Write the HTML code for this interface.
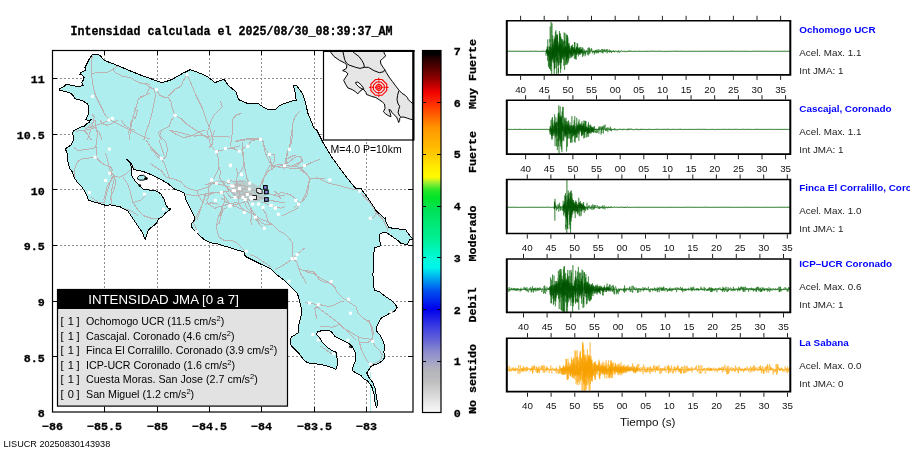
<!DOCTYPE html>
<html><head><meta charset="utf-8"><title>Intensidad JMA</title>
<style>html,body{margin:0;padding:0;background:#fff;width:910px;height:460px;overflow:hidden}svg{display:block}</style>
</head><body>
<svg width="910" height="460" viewBox="0 0 910 460" shape-rendering="auto">
<rect width="910" height="460" fill="#fff"/>
<text transform="translate(70.60,34.70) scale(1,1.050)" text-anchor="start" style="font-family:'Liberation Mono','DejaVu Sans Mono',monospace;font-weight:bold;font-size:11.67px" fill="#000" stroke="#000" stroke-width="0.28">Intensidad calculada el 2025/08/30_08:39:37_AM</text>
<defs><clipPath id="mc"><rect x="52.5" y="50.5" width="360.5" height="361.5"/></clipPath><clipPath id="lc"><polygon points="92.0,55.2 93.7,54.3 98.1,54.3 100.7,56.1 104.2,60.4 114.6,64.3 130.3,70.9 143.3,76.1 161.6,82.6 166.0,81.5 172.0,79.5 182.4,73.5 190.3,69.6 200.7,73.5 208.5,77.4 215.0,82.6 224.2,79.2 228.1,85.2 235.9,91.7 238.5,99.6 247.7,103.5 258.1,103.5 265.9,108.7 270.0,109.8 275.9,109.1 279.1,105.9 283.7,103.7 290.9,101.3 296.1,100.3 295.4,93.5 293.5,85.7 296.7,85.7 302.6,93.5 305.2,101.3 307.8,113.0 314.3,128.7 316.8,130.0 323.3,143.0 331.1,156.1 344.2,174.3 355.9,188.7 361.1,188.7 367.7,197.8 376.3,210.8 384.3,218.2 385.7,217.5 385.7,221.6 388.4,227.0 392.4,228.3 399.2,229.0 405.2,229.0 407.3,232.3 411.3,237.7 414.0,239.0 414.0,240.4 410.0,239.0 408.6,241.8 407.3,244.5 403.2,243.8 400.5,243.1 397.8,240.4 393.8,237.7 391.1,235.7 387.0,233.0 383.0,232.3 379.6,234.4 379.0,239.0 380.3,243.1 381.0,245.8 374.2,247.8 373.6,262.0 372.9,275.0 374.2,290.4 379.4,291.7 385.9,296.9 391.0,300.0 394.7,303.6 397.1,307.3 394.7,310.9 387.4,314.6 381.3,318.2 378.9,321.9 376.5,326.7 376.0,330.4 380.1,335.2 383.3,341.3 385.0,347.4 383.8,352.3 385.0,357.1 382.5,360.8 377.7,363.7 371.6,365.6 369.2,369.3 366.7,372.9 369.2,377.8 372.8,382.6 375.2,388.7 376.5,397.2 377.7,404.5 376.5,407.0 375.2,403.3 374.0,393.6 371.6,386.3 368.0,381.4 364.3,379.0 360.7,375.4 355.8,372.9 352.2,370.5 353.4,365.6 355.8,360.8 355.8,353.5 353.4,348.6 350.9,345.0 347.3,342.5 345.0,341.6 341.7,339.9 338.5,338.3 335.2,336.7 332.8,333.4 330.3,331.0 325.4,330.2 320.5,331.0 317.3,331.8 316.5,334.2 318.9,336.7 322.2,342.4 327.1,347.3 332.0,350.5 336.0,352.2 336.9,357.1 337.7,363.6 336.0,369.3 332.0,367.7 327.1,366.0 320.5,364.4 314.0,363.6 307.5,362.8 304.2,360.3 299.3,353.8 294.5,348.9 291.2,345.7 290.4,342.4 291.2,336.7 294.5,335.1 298.5,332.6 298.5,326.1 300.2,319.6 301.8,313.0 301.0,306.5 299.3,300.0 297.4,293.3 293.0,288.9 288.7,284.6 284.3,280.2 276.7,274.8 271.3,269.3 262.6,265.0 253.9,260.7 245.2,256.3 244.1,252.0 236.5,249.8 230.0,247.6 225.7,246.5 217.8,243.9 210.0,242.6 204.8,240.0 200.0,236.1 196.1,232.2 192.2,228.3 191.2,224.3 194.1,220.4 194.1,216.5 190.2,208.7 186.3,200.9 185.3,197.0 184.3,193.0 180.4,191.1 174.6,189.1 168.7,184.2 160.9,179.3 153.0,175.4 143.3,171.5 133.5,169.6 131.5,163.7 128.0,159.8 126.5,159.5 130.5,162.7 131.5,169.6 131.5,175.4 135.4,181.3 139.3,185.2 143.3,189.1 149.1,190.1 157.0,191.1 160.9,194.0 162.8,197.0 164.8,200.9 165.8,204.8 168.7,208.7 170.7,208.7 168.7,210.7 165.8,212.6 162.8,216.5 158.9,218.5 157.0,222.4 153.0,226.3 150.1,228.3 148.2,230.2 146.2,236.1 145.5,239.5 144.2,237.1 142.3,232.2 139.3,228.3 135.4,222.4 131.5,216.5 127.6,210.7 119.8,206.7 110.0,204.8 106.8,205.7 97.7,203.0 88.5,200.4 87.2,196.5 85.4,193.0 83.7,189.6 81.1,186.1 77.6,182.6 74.1,177.4 72.4,172.2 69.8,168.7 68.9,165.2 68.0,161.7 67.2,158.3 68.0,154.8 66.3,151.3 65.4,148.7 68.0,147.0 70.7,145.2 72.4,142.6 74.1,139.1 73.3,135.7 72.4,133.0 74.1,130.4 77.6,128.7 81.1,127.0 84.2,126.5 86.8,123.9 89.4,122.2 91.1,119.6 88.5,120.4 85.9,119.6 86.8,117.8 88.5,114.3 88.5,107.4 87.7,103.9 85.0,102.2 81.6,100.4 78.1,99.6 74.6,98.7 73.7,96.1 71.1,93.5 69.4,92.6 65.9,91.7 62.4,90.9 59.0,90.9 59.0,89.1 62.4,87.4 65.0,85.7 65.9,83.9 69.4,84.8 72.9,85.7 78.1,86.5 83.3,85.7 82.4,83.9 81.6,82.2 83.3,80.4 84.2,77.8 82.4,75.2 79.8,74.3 80.7,72.6 83.3,71.7 85.9,70.0 85.0,67.4 86.8,63.9 89.4,58.7"/></clipPath><clipPath id="ic"><rect x="323.5" y="51" width="89.5" height="88.5"/></clipPath></defs>
<g clip-path="url(#mc)">
<path d="M104.5 50V412M157.5 50V412M209.5 50V412M261.5 50V412M314.5 50V412M366.5 50V412M52 356.5H413M52 301.5H413M52 245.5H413M52 189.5H413M52 134.5H413M52 78.5H413" stroke="#8c8c8c" stroke-width="1" stroke-dasharray="2,2" fill="none"/>
<polygon points="92.0,55.2 93.7,54.3 98.1,54.3 100.7,56.1 104.2,60.4 114.6,64.3 130.3,70.9 143.3,76.1 161.6,82.6 166.0,81.5 172.0,79.5 182.4,73.5 190.3,69.6 200.7,73.5 208.5,77.4 215.0,82.6 224.2,79.2 228.1,85.2 235.9,91.7 238.5,99.6 247.7,103.5 258.1,103.5 265.9,108.7 270.0,109.8 275.9,109.1 279.1,105.9 283.7,103.7 290.9,101.3 296.1,100.3 295.4,93.5 293.5,85.7 296.7,85.7 302.6,93.5 305.2,101.3 307.8,113.0 314.3,128.7 316.8,130.0 323.3,143.0 331.1,156.1 344.2,174.3 355.9,188.7 361.1,188.7 367.7,197.8 376.3,210.8 384.3,218.2 385.7,217.5 385.7,221.6 388.4,227.0 392.4,228.3 399.2,229.0 405.2,229.0 407.3,232.3 411.3,237.7 414.0,239.0 414.0,240.4 410.0,239.0 408.6,241.8 407.3,244.5 403.2,243.8 400.5,243.1 397.8,240.4 393.8,237.7 391.1,235.7 387.0,233.0 383.0,232.3 379.6,234.4 379.0,239.0 380.3,243.1 381.0,245.8 374.2,247.8 373.6,262.0 372.9,275.0 374.2,290.4 379.4,291.7 385.9,296.9 391.0,300.0 394.7,303.6 397.1,307.3 394.7,310.9 387.4,314.6 381.3,318.2 378.9,321.9 376.5,326.7 376.0,330.4 380.1,335.2 383.3,341.3 385.0,347.4 383.8,352.3 385.0,357.1 382.5,360.8 377.7,363.7 371.6,365.6 369.2,369.3 366.7,372.9 369.2,377.8 372.8,382.6 375.2,388.7 376.5,397.2 377.7,404.5 376.5,407.0 375.2,403.3 374.0,393.6 371.6,386.3 368.0,381.4 364.3,379.0 360.7,375.4 355.8,372.9 352.2,370.5 353.4,365.6 355.8,360.8 355.8,353.5 353.4,348.6 350.9,345.0 347.3,342.5 345.0,341.6 341.7,339.9 338.5,338.3 335.2,336.7 332.8,333.4 330.3,331.0 325.4,330.2 320.5,331.0 317.3,331.8 316.5,334.2 318.9,336.7 322.2,342.4 327.1,347.3 332.0,350.5 336.0,352.2 336.9,357.1 337.7,363.6 336.0,369.3 332.0,367.7 327.1,366.0 320.5,364.4 314.0,363.6 307.5,362.8 304.2,360.3 299.3,353.8 294.5,348.9 291.2,345.7 290.4,342.4 291.2,336.7 294.5,335.1 298.5,332.6 298.5,326.1 300.2,319.6 301.8,313.0 301.0,306.5 299.3,300.0 297.4,293.3 293.0,288.9 288.7,284.6 284.3,280.2 276.7,274.8 271.3,269.3 262.6,265.0 253.9,260.7 245.2,256.3 244.1,252.0 236.5,249.8 230.0,247.6 225.7,246.5 217.8,243.9 210.0,242.6 204.8,240.0 200.0,236.1 196.1,232.2 192.2,228.3 191.2,224.3 194.1,220.4 194.1,216.5 190.2,208.7 186.3,200.9 185.3,197.0 184.3,193.0 180.4,191.1 174.6,189.1 168.7,184.2 160.9,179.3 153.0,175.4 143.3,171.5 133.5,169.6 131.5,163.7 128.0,159.8 126.5,159.5 130.5,162.7 131.5,169.6 131.5,175.4 135.4,181.3 139.3,185.2 143.3,189.1 149.1,190.1 157.0,191.1 160.9,194.0 162.8,197.0 164.8,200.9 165.8,204.8 168.7,208.7 170.7,208.7 168.7,210.7 165.8,212.6 162.8,216.5 158.9,218.5 157.0,222.4 153.0,226.3 150.1,228.3 148.2,230.2 146.2,236.1 145.5,239.5 144.2,237.1 142.3,232.2 139.3,228.3 135.4,222.4 131.5,216.5 127.6,210.7 119.8,206.7 110.0,204.8 106.8,205.7 97.7,203.0 88.5,200.4 87.2,196.5 85.4,193.0 83.7,189.6 81.1,186.1 77.6,182.6 74.1,177.4 72.4,172.2 69.8,168.7 68.9,165.2 68.0,161.7 67.2,158.3 68.0,154.8 66.3,151.3 65.4,148.7 68.0,147.0 70.7,145.2 72.4,142.6 74.1,139.1 73.3,135.7 72.4,133.0 74.1,130.4 77.6,128.7 81.1,127.0 84.2,126.5 86.8,123.9 89.4,122.2 91.1,119.6 88.5,120.4 85.9,119.6 86.8,117.8 88.5,114.3 88.5,107.4 87.7,103.9 85.0,102.2 81.6,100.4 78.1,99.6 74.6,98.7 73.7,96.1 71.1,93.5 69.4,92.6 65.9,91.7 62.4,90.9 59.0,90.9 59.0,89.1 62.4,87.4 65.0,85.7 65.9,83.9 69.4,84.8 72.9,85.7 78.1,86.5 83.3,85.7 82.4,83.9 81.6,82.2 83.3,80.4 84.2,77.8 82.4,75.2 79.8,74.3 80.7,72.6 83.3,71.7 85.9,70.0 85.0,67.4 86.8,63.9 89.4,58.7" fill="#afeeee" stroke="none"/>
<polygon points="137.5,177.5 139.5,175.5 143.5,175.3 146.5,177.5 144.5,180.0 140.0,180.2 137.5,179.0" fill="#afeeee" stroke="#000" stroke-width="1"/>
<polygon points="231,186 236,181 244,180 252,183 258,186 262,190 266,195 262,200 255,202 247,201 240,199 234,196 230,191" fill="#bdb2b2" fill-opacity="0.55"/>
<g clip-path="url(#lc)" fill="none" stroke="#bdb2b2" stroke-width="1" stroke-linejoin="round" shape-rendering="crispEdges">
<polyline points="92.3,55.9 91.3,61.7 91.3,71.5 92.3,81.3 94.2,91.1 96.2,97.0 99.1,102.8 102.1,108.7 105.0,114.6 108.9,119.5 114.8,122.4 122.6,126.3 130.4,130.2 138.3,134.1 144.1,137.1 150.0,139.0"/>
<polyline points="91.3,73.5 99.1,72.5 107.0,72.5 112.8,69.6 116.7,66.6 122.6,65.7 130.4,67.6 138.3,71.5 146.1,75.4 150.0,77.4"/>
<polyline points="112.8,69.6 116.7,73.5 122.6,76.4 130.4,77.4 136.3,81.3 142.2,83.3 150.0,84.2"/>
<polyline points="150.0,93.0 142.2,97.0 138.3,98.9 136.3,106.7 134.3,112.6 132.4,120.4 130.4,130.2 129.5,140.0"/>
<polyline points="134.3,108.7 137.3,110.7 135.3,118.5 132.4,116.5"/>
<polyline points="85.4,128.3 93.3,126.3 99.1,124.3 107.0,121.4 112.8,118.5"/>
<polyline points="92.3,114.6 94.2,116.5 93.3,122.4 91.3,128.3 89.3,134.1 87.4,140.0"/>
<polyline points="95.2,128.3 99.1,132.2 102.1,140.0"/>
<polyline points="83.5,130.2 87.4,134.1 91.3,140.0"/>
<polyline points="140.0,83.3 145.9,84.2 149.8,87.2 153.7,89.1 155.7,95.0 153.7,104.8 151.7,114.6 148.8,124.3 145.9,132.2 143.9,140.0"/>
<polyline points="140.0,97.0 145.9,95.0 147.8,91.1 149.8,88.2"/>
<polyline points="156.6,90.1 159.6,95.0 163.5,97.0 168.4,97.9 171.3,102.8 172.3,108.7 175.2,115.5"/>
<polyline points="187.0,74.5 183.0,81.3 181.1,86.2 175.2,89.1 168.4,96.0"/>
<polyline points="187.0,74.5 190.9,83.3 195.8,95.0 199.7,102.8 202.6,108.7 206.5,120.4 210.4,130.2 213.4,140.0"/>
<polyline points="175.2,115.5 181.1,118.5 187.0,124.3 192.8,128.3 198.7,132.2 204.6,136.1 210.4,140.0"/>
<polyline points="175.2,115.5 171.3,120.4 169.3,126.3 165.4,128.3 161.5,130.2 158.6,132.2 159.6,136.1 161.5,140.0"/>
<polyline points="220.2,100.9 222.2,106.7 218.3,110.7 214.3,114.6 210.4,122.4 208.5,130.2"/>
<polyline points="169.3,130.2 179.1,132.2 185.0,134.1 194.8,136.1 202.6,135.1 210.4,137.1 218.3,136.1 230.0,137.1"/>
<polyline points="241.7,113.3 235.9,115.2 232.9,119.1 232.0,127.0 232.0,134.8 231.0,142.6 230.0,146.5"/>
<polyline points="230.0,147.5 235.9,149.5 239.8,151.4 242.7,148.5 247.6,145.5 251.5,140.7 260.3,138.7 263.3,142.6 265.2,148.5 269.1,154.3 271.1,162.2 272.1,170.0"/>
<polyline points="235.9,140.7 247.6,138.7 260.3,138.7"/>
<polyline points="242.7,148.5 243.7,158.3 244.7,170.0"/>
<polyline points="299.5,111.3 294.6,117.2 292.6,125.0 292.6,134.8 291.6,142.6 288.7,148.5 286.7,154.3 284.8,164.1 283.8,170.0"/>
<polyline points="269.1,154.3 275.0,154.3 274.0,162.2 272.1,166.1"/>
<polyline points="272.1,166.1 278.9,164.1 284.8,165.1 288.7,162.2 294.6,157.3 300.4,156.3 302.4,160.2 298.5,164.1 294.6,166.1 288.7,167.1"/>
<polyline points="272.1,166.1 278.9,167.1 288.7,168.0 298.5,169.0 304.3,166.1 312.2,162.2 320.0,159.2"/>
<polyline points="150.0,163.3 155.9,167.2 161.7,171.1 165.7,177.0 173.5,178.9 181.3,181.8 185.2,186.7 189.1,188.7 197.0,190.7 202.8,188.7 208.7,186.7 212.6,182.8 218.5,180.9 224.3,181.8 232.2,184.8 240.0,186.7"/>
<polyline points="150.0,149.6 153.9,151.5 157.8,157.4 161.7,159.3"/>
<polyline points="161.7,130.0 159.8,135.9 165.7,141.7 167.6,149.6 165.7,157.4 161.7,159.3"/>
<polyline points="169.6,130.0 175.4,133.9 183.3,137.8 191.1,135.9 198.9,132.0 204.8,130.0"/>
<polyline points="206.7,130.0 208.7,137.8 210.7,145.7 216.5,151.5 218.5,159.3 218.5,169.1 214.6,177.0 210.7,182.8"/>
<polyline points="216.5,151.5 224.3,149.6 232.2,147.6 240.0,145.7"/>
<polyline points="214.6,130.0 212.6,135.9 212.6,143.7 208.7,147.6"/>
<polyline points="197.0,190.7 198.9,196.5 202.8,202.4 200.9,208.3 198.9,214.1 197.0,220.0"/>
<polyline points="208.7,186.7 208.7,196.5 206.7,200.4 208.7,204.3 214.6,208.3 220.4,206.3 228.3,204.3 236.1,202.4 240.0,204.3"/>
<polyline points="220.4,178.9 224.3,184.8 228.3,188.7 232.2,192.6 236.1,196.5 240.0,198.5"/>
<polyline points="224.3,194.6 224.3,202.4 222.4,208.3 220.4,214.1 220.4,220.0"/>
<polyline points="235.0,141.7 246.7,139.8 260.4,138.8 263.4,141.7 264.3,149.6 266.3,155.4 269.2,161.3 272.2,166.2 274.1,167.2"/>
<polyline points="274.1,167.2 283.9,165.2 291.7,166.2 299.6,167.2 303.5,171.1 307.4,175.0 309.3,178.9 317.2,177.9 325.0,178.9"/>
<polyline points="309.3,178.9 308.4,186.7 307.4,194.6 303.5,200.4 297.6,204.3 293.7,208.3"/>
<polyline points="274.1,167.2 268.3,171.1 264.3,177.0 262.4,184.8"/>
<polyline points="291.7,130.0 290.8,137.8 289.8,145.7 287.8,151.5 286.8,157.4 285.9,163.3 284.9,166.2"/>
<polyline points="285.9,159.3 293.7,155.4 301.5,157.4 302.5,161.3 297.6,163.3 291.7,166.2"/>
<polyline points="242.8,141.7 242.8,153.5 243.8,165.2 240.9,171.1 237.0,175.0"/>
<polyline points="274.1,194.6 282.0,192.6 289.8,194.6 295.7,198.5 299.6,202.4 297.6,208.3 289.8,212.2 282.0,216.1"/>
<polyline points="300.0,169.8 305.9,173.7 310.8,178.6 319.6,178.6 329.3,183.5 339.1,185.4 348.9,188.4 358.7,190.3 364.6,197.2 370.4,203.0 376.3,212.8 382.2,218.7 386.1,226.5 388.0,230.4"/>
<polyline points="310.8,178.6 307.8,185.4 305.9,193.3 302.0,201.1 300.0,203.0"/>
<polyline points="370.4,218.7 374.3,216.7 376.3,212.8"/>
<polyline points="185.9,193.9 195.7,195.9 205.4,193.9 215.2,192.0 223.0,193.9 227.0,199.8 230.9,205.7 238.7,203.7 244.6,201.7"/>
<polyline points="205.4,193.9 203.5,201.7 199.6,209.6 195.7,217.4 193.7,223.3 196.6,229.1 199.6,237.0 205.4,240.9"/>
<polyline points="227.0,207.6 223.0,209.6 221.1,215.4 219.1,223.3 216.2,225.2 217.2,231.1 219.1,237.0 225.0,240.9 232.8,240.9 236.7,242.8 242.6,248.7 246.5,252.6"/>
<polyline points="244.6,201.7 246.5,207.6 250.4,211.5 254.3,215.4 258.3,219.3 262.2,223.3 266.1,225.2 270.0,224.2"/>
<polyline points="238.7,195.9 238.7,203.7 244.6,211.5"/>
<polyline points="254.3,217.4 260.2,225.2 264.1,229.1"/>
<polyline points="250.0,207.8 255.9,215.7 261.7,219.6 267.6,221.5 273.5,225.4 279.3,231.3 285.2,234.2 289.1,238.2 292.1,242.1 293.0,247.0 292.1,252.8 293.0,258.7 297.0,262.6 298.9,268.5 302.8,270.4 308.7,272.4 314.6,274.3 320.4,278.3 328.3,282.2 336.1,288.0"/>
<polyline points="293.0,258.7 287.2,262.6 281.3,266.5 275.4,269.5"/>
<polyline points="293.0,258.7 298.9,252.8 304.8,247.9"/>
<polyline points="298.9,268.5 300.9,274.3 304.8,280.2 306.7,284.1"/>
<polyline points="250.0,254.8 255.9,256.7 261.7,260.7 267.6,264.6 271.5,267.5"/>
<polyline points="305.0,270.5 312.8,271.5 316.7,275.4 318.7,279.3 324.6,282.3 330.4,283.3 334.3,286.2 336.3,291.1 340.2,295.0 344.1,298.9 350.0,302.8 355.9,306.7 357.8,312.6 363.7,318.5 369.6,322.4 371.5,328.3 372.5,336.1 371.5,340.0"/>
<polyline points="305.0,302.8 312.8,303.8 320.7,304.8 328.5,306.7 334.3,304.8 340.2,301.8 344.1,300.9"/>
<polyline points="318.7,304.8 314.8,308.7 315.8,314.6 316.7,318.5"/>
<polyline points="316.7,306.7 324.6,312.6 332.4,318.5 340.2,324.3 346.1,330.2 352.0,336.1 355.9,340.0"/>
<polyline points="324.6,326.3 332.4,327.3 340.2,324.3"/>
<polyline points="335.2,320.0 338.3,323.0 342.8,327.6 350.4,332.2 358.0,336.7 362.6,338.3 368.7,339.0 372.5,339.8"/>
<polyline points="368.7,320.0 371.7,326.1 373.3,332.2 372.5,339.8 374.8,345.9 379.4,350.4 382.4,355.0 380.9,359.6 376.3,362.6 370.2,364.1"/>
<polyline points="358.0,336.7 359.6,342.8 361.1,348.9 364.1,355.0 367.2,361.1 370.2,364.1"/>
<polyline points="359.6,342.8 367.2,342.8 372.5,339.8"/>
<polyline points="320.0,326.1 326.1,326.1 332.2,327.6 335.2,324.6"/>
<polyline points="320.0,345.9 324.6,348.9 329.1,352.0 333.7,355.0"/>
<polyline points="205.0,184.6 212.8,183.3 220.7,184.6 231.1,187.2 238.9,188.5 248.1,189.8 257.2,191.1 265.0,192.4 272.9,195.0 278.1,196.3 285.0,195.0"/>
<polyline points="205.0,196.3 212.8,193.1 221.3,192.4 228.5,191.1 233.7,190.4 241.5,191.8 249.4,193.1 257.2,196.3 263.7,198.9 270.3,200.2 275.5,201.5 285.0,202.8"/>
<polyline points="218.1,165.0 220.7,171.5 219.4,178.1 223.3,182.0 227.2,188.5 228.5,191.1"/>
<polyline points="236.3,167.6 237.6,174.1 236.3,180.7 237.6,185.9 238.9,191.1 240.2,196.3 244.2,198.9 248.1,202.8 250.7,208.1 254.6,214.6 257.2,219.8 259.8,225.0"/>
<polyline points="244.2,165.0 245.5,171.5 246.8,178.1 249.4,183.3"/>
<polyline points="220.7,197.6 225.9,201.5 231.1,205.5 236.3,206.8 242.8,209.4 248.1,212.0 254.6,214.6"/>
<polyline points="222.0,206.8 220.7,212.0 218.1,217.2 216.7,225.0"/>
<polyline points="270.3,165.0 266.3,171.5 263.7,178.1 261.1,183.3 259.8,187.2"/>
<polyline points="274.2,191.1 278.1,193.7 280.7,198.9"/>
<polyline points="261.1,201.5 267.6,204.2 275.5,206.8 280.7,208.1 285.0,206.8"/>
<polyline points="205.0,204.2 211.5,202.8 218.1,204.2"/>
<polyline points="250.7,208.1 252.0,214.6 250.7,221.1 252.0,225.0"/>
<polyline points="262.4,208.1 266.3,214.6 267.6,221.1 270.3,225.0"/>
<polyline points="231.1,187.2 235.0,189.8 238.9,193.7 244.2,195.0 248.1,193.7 252.0,195.0 257.2,197.6"/>
<polyline points="233.7,184.6 238.9,184.6 244.2,185.9 248.1,187.2"/>
<polyline points="241.5,191.8 244.2,188.5 248.1,189.8"/>
<polyline points="244.2,195.0 245.5,198.9 249.4,200.2 254.6,198.9 259.8,200.2"/>
<polyline points="228.5,182.0 231.1,180.7 236.3,182.0 240.2,180.7 244.2,182.0"/>
<polyline points="225.9,191.1 228.5,195.0 231.1,197.6 236.3,197.6 241.5,196.3"/>
<polyline points="95.0,120.0 95.9,127.0 97.6,133.9 96.7,140.9 95.9,146.1 96.7,151.3 95.9,157.4"/>
<polyline points="88.0,127.0 91.5,123.5 95.0,120.0"/>
<polyline points="75.9,131.3 82.8,130.4 89.8,129.6 95.9,127.0"/>
<polyline points="74.1,147.8 77.6,150.4 86.3,149.6 95.0,147.8 96.7,146.1"/>
<polyline points="95.9,157.4 86.3,158.3 81.1,159.1 77.6,161.7 75.9,165.2 74.1,170.4 74.1,177.4 75.9,182.6 79.3,186.1"/>
<polyline points="95.9,157.4 100.2,161.7 105.4,165.2 110.7,167.0 112.4,170.4 110.7,173.9"/>
<polyline points="105.4,153.0 107.2,158.3 108.9,165.2 110.7,172.2 114.1,175.7 119.3,177.4 126.3,173.9 131.5,168.7 135.0,167.0"/>
<polyline points="114.1,175.7 110.7,180.9 107.2,186.1 105.4,193.0 103.7,200.0"/>
<polyline points="114.1,175.7 115.9,182.6 114.1,189.6 110.7,196.5 110.7,200.0"/>
<polyline points="100.2,120.0 102.0,123.5 107.2,125.2 112.4,123.5 117.6,120.0"/>
<polyline points="121.1,120.0 124.6,125.2 129.8,128.7 135.0,130.4"/>
<polyline points="131.5,120.0 129.8,128.7 128.0,133.9"/>
<polyline points="109.6,171.3 112.2,176.5 109.6,184.4 107.0,192.2 104.4,202.6"/>
<polyline points="114.8,176.5 112.2,187.0 110.9,197.4 112.2,205.2"/>
<polyline points="122.6,176.5 127.8,184.4 130.4,192.2 133.0,202.6 138.3,210.4 143.5,215.7 151.3,218.3 159.1,218.3"/>
<polyline points="133.0,202.6 140.9,200.0 146.1,194.8"/>
<polyline points="112.2,205.2 120.0,207.8 130.4,210.4 138.3,215.7"/>
<polyline points="91.3,197.4 99.1,202.6 104.4,202.6"/>
<polyline points="146.1,140.0 151.3,147.8 159.1,155.7 164.4,163.5 167.0,171.3 169.6,179.1"/>
<polyline points="159.1,140.0 161.7,147.8 164.4,155.7"/>
</g>
<line x1="370.5" y1="372" x2="370.5" y2="412" stroke="#afeeee" stroke-width="1"/>
<polygon points="92.0,55.2 93.7,54.3 98.1,54.3 100.7,56.1 104.2,60.4 114.6,64.3 130.3,70.9 143.3,76.1 161.6,82.6 166.0,81.5 172.0,79.5 182.4,73.5 190.3,69.6 200.7,73.5 208.5,77.4 215.0,82.6 224.2,79.2 228.1,85.2 235.9,91.7 238.5,99.6 247.7,103.5 258.1,103.5 265.9,108.7 270.0,109.8 275.9,109.1 279.1,105.9 283.7,103.7 290.9,101.3 296.1,100.3 295.4,93.5 293.5,85.7 296.7,85.7 302.6,93.5 305.2,101.3 307.8,113.0 314.3,128.7 316.8,130.0 323.3,143.0 331.1,156.1 344.2,174.3 355.9,188.7 361.1,188.7 367.7,197.8 376.3,210.8 384.3,218.2 385.7,217.5 385.7,221.6 388.4,227.0 392.4,228.3 399.2,229.0 405.2,229.0 407.3,232.3 411.3,237.7 414.0,239.0 414.0,240.4 410.0,239.0 408.6,241.8 407.3,244.5 403.2,243.8 400.5,243.1 397.8,240.4 393.8,237.7 391.1,235.7 387.0,233.0 383.0,232.3 379.6,234.4 379.0,239.0 380.3,243.1 381.0,245.8 374.2,247.8 373.6,262.0 372.9,275.0 374.2,290.4 379.4,291.7 385.9,296.9 391.0,300.0 394.7,303.6 397.1,307.3 394.7,310.9 387.4,314.6 381.3,318.2 378.9,321.9 376.5,326.7 376.0,330.4 380.1,335.2 383.3,341.3 385.0,347.4 383.8,352.3 385.0,357.1 382.5,360.8 377.7,363.7 371.6,365.6 369.2,369.3 366.7,372.9 369.2,377.8 372.8,382.6 375.2,388.7 376.5,397.2 377.7,404.5 376.5,407.0 375.2,403.3 374.0,393.6 371.6,386.3 368.0,381.4 364.3,379.0 360.7,375.4 355.8,372.9 352.2,370.5 353.4,365.6 355.8,360.8 355.8,353.5 353.4,348.6 350.9,345.0 347.3,342.5 345.0,341.6 341.7,339.9 338.5,338.3 335.2,336.7 332.8,333.4 330.3,331.0 325.4,330.2 320.5,331.0 317.3,331.8 316.5,334.2 318.9,336.7 322.2,342.4 327.1,347.3 332.0,350.5 336.0,352.2 336.9,357.1 337.7,363.6 336.0,369.3 332.0,367.7 327.1,366.0 320.5,364.4 314.0,363.6 307.5,362.8 304.2,360.3 299.3,353.8 294.5,348.9 291.2,345.7 290.4,342.4 291.2,336.7 294.5,335.1 298.5,332.6 298.5,326.1 300.2,319.6 301.8,313.0 301.0,306.5 299.3,300.0 297.4,293.3 293.0,288.9 288.7,284.6 284.3,280.2 276.7,274.8 271.3,269.3 262.6,265.0 253.9,260.7 245.2,256.3 244.1,252.0 236.5,249.8 230.0,247.6 225.7,246.5 217.8,243.9 210.0,242.6 204.8,240.0 200.0,236.1 196.1,232.2 192.2,228.3 191.2,224.3 194.1,220.4 194.1,216.5 190.2,208.7 186.3,200.9 185.3,197.0 184.3,193.0 180.4,191.1 174.6,189.1 168.7,184.2 160.9,179.3 153.0,175.4 143.3,171.5 133.5,169.6 131.5,163.7 128.0,159.8 126.5,159.5 130.5,162.7 131.5,169.6 131.5,175.4 135.4,181.3 139.3,185.2 143.3,189.1 149.1,190.1 157.0,191.1 160.9,194.0 162.8,197.0 164.8,200.9 165.8,204.8 168.7,208.7 170.7,208.7 168.7,210.7 165.8,212.6 162.8,216.5 158.9,218.5 157.0,222.4 153.0,226.3 150.1,228.3 148.2,230.2 146.2,236.1 145.5,239.5 144.2,237.1 142.3,232.2 139.3,228.3 135.4,222.4 131.5,216.5 127.6,210.7 119.8,206.7 110.0,204.8 106.8,205.7 97.7,203.0 88.5,200.4 87.2,196.5 85.4,193.0 83.7,189.6 81.1,186.1 77.6,182.6 74.1,177.4 72.4,172.2 69.8,168.7 68.9,165.2 68.0,161.7 67.2,158.3 68.0,154.8 66.3,151.3 65.4,148.7 68.0,147.0 70.7,145.2 72.4,142.6 74.1,139.1 73.3,135.7 72.4,133.0 74.1,130.4 77.6,128.7 81.1,127.0 84.2,126.5 86.8,123.9 89.4,122.2 91.1,119.6 88.5,120.4 85.9,119.6 86.8,117.8 88.5,114.3 88.5,107.4 87.7,103.9 85.0,102.2 81.6,100.4 78.1,99.6 74.6,98.7 73.7,96.1 71.1,93.5 69.4,92.6 65.9,91.7 62.4,90.9 59.0,90.9 59.0,89.1 62.4,87.4 65.0,85.7 65.9,83.9 69.4,84.8 72.9,85.7 78.1,86.5 83.3,85.7 82.4,83.9 81.6,82.2 83.3,80.4 84.2,77.8 82.4,75.2 79.8,74.3 80.7,72.6 83.3,71.7 85.9,70.0 85.0,67.4 86.8,63.9 89.4,58.7" fill="none" stroke="#000" stroke-width="1" stroke-linejoin="round" shape-rendering="crispEdges"/>
<ellipse cx="146.0" cy="178.6" rx="1.8" ry="1.3" fill="#000"/>
<ellipse cx="139.8" cy="185.6" rx="1.3" ry="1.3" fill="#000"/>
<polyline points="349.0,343.5 350.5,345.5 349.5,347.0 351.5,347.5 352.5,346.0" fill="none" stroke="#000" stroke-width="1.1"/>
<g fill="#fff">
<rect x="90.9" y="94.9" width="3" height="3"/>
<rect x="107.4" y="118.4" width="3" height="3"/>
<rect x="111.0" y="116.9" width="3" height="3"/>
<rect x="155.0" y="88.1" width="3" height="3"/>
<rect x="185.5" y="73.1" width="3" height="3"/>
<rect x="173.7" y="113.9" width="3" height="3"/>
<rect x="259.0" y="137.9" width="3" height="3"/>
<rect x="246.2" y="144.8" width="3" height="3"/>
<rect x="237.8" y="149.7" width="3" height="3"/>
<rect x="223.9" y="147.0" width="3" height="3"/>
<rect x="215.0" y="150.3" width="3" height="3"/>
<rect x="229.1" y="163.5" width="3" height="3"/>
<rect x="268.1" y="152.9" width="3" height="3"/>
<rect x="283.1" y="164.2" width="3" height="3"/>
<rect x="288.0" y="147.9" width="3" height="3"/>
<rect x="302.9" y="164.0" width="3" height="3"/>
<rect x="107.9" y="147.6" width="3" height="3"/>
<rect x="93.6" y="155.7" width="3" height="3"/>
<rect x="108.0" y="171.7" width="3" height="3"/>
<rect x="104.0" y="178.9" width="3" height="3"/>
<rect x="87.8" y="191.1" width="3" height="3"/>
<rect x="142.9" y="192.7" width="3" height="3"/>
<rect x="159.9" y="156.9" width="3" height="3"/>
<rect x="210.1" y="178.4" width="3" height="3"/>
<rect x="215.0" y="181.7" width="3" height="3"/>
<rect x="226.8" y="179.8" width="3" height="3"/>
<rect x="229.7" y="184.3" width="3" height="3"/>
<rect x="233.0" y="189.2" width="3" height="3"/>
<rect x="219.8" y="190.9" width="3" height="3"/>
<rect x="213.9" y="198.8" width="3" height="3"/>
<rect x="228.6" y="204.1" width="3" height="3"/>
<rect x="162.2" y="207.7" width="3" height="3"/>
<rect x="240.0" y="173.1" width="3" height="3"/>
<rect x="248.2" y="181.7" width="3" height="3"/>
<rect x="237.8" y="186.8" width="3" height="3"/>
<rect x="249.2" y="196.0" width="3" height="3"/>
<rect x="243.7" y="198.0" width="3" height="3"/>
<rect x="294.3" y="198.9" width="3" height="3"/>
<rect x="297.0" y="202.8" width="3" height="3"/>
<rect x="269.7" y="203.8" width="3" height="3"/>
<rect x="273.6" y="206.4" width="3" height="3"/>
<rect x="276.8" y="212.8" width="3" height="3"/>
<rect x="242.8" y="210.9" width="3" height="3"/>
<rect x="253.9" y="215.7" width="3" height="3"/>
<rect x="328.4" y="178.4" width="3" height="3"/>
<rect x="358.2" y="189.8" width="3" height="3"/>
<rect x="368.8" y="216.7" width="3" height="3"/>
<rect x="195.1" y="230.0" width="3" height="3"/>
<rect x="262.8" y="226.8" width="3" height="3"/>
<rect x="295.6" y="253.0" width="3" height="3"/>
<rect x="290.6" y="257.2" width="3" height="3"/>
<rect x="293.9" y="256.8" width="3" height="3"/>
<rect x="287.5" y="279.7" width="3" height="3"/>
<rect x="329.7" y="280.0" width="3" height="3"/>
<rect x="244.8" y="249.8" width="3" height="3"/>
<rect x="347.1" y="297.7" width="3" height="3"/>
<rect x="349.0" y="311.7" width="3" height="3"/>
<rect x="308.1" y="301.5" width="3" height="3"/>
<rect x="316.7" y="303.1" width="3" height="3"/>
<rect x="311.3" y="333.0" width="3" height="3"/>
<rect x="389.6" y="310.7" width="3" height="3"/>
<rect x="346.4" y="338.6" width="3" height="3"/>
<rect x="371.2" y="339.8" width="3" height="3"/>
<rect x="368.9" y="362.7" width="3" height="3"/>
<rect x="316.6" y="338.5" width="3" height="3"/>
<rect x="332.2" y="352.3" width="3" height="3"/>
<rect x="231.6" y="184.6" width="3" height="3"/>
<rect x="238.1" y="187.0" width="3" height="3"/>
<rect x="247.9" y="187.6" width="3" height="3"/>
<rect x="231.6" y="189.0" width="3" height="3"/>
<rect x="233.5" y="195.9" width="3" height="3"/>
<rect x="241.4" y="195.9" width="3" height="3"/>
<rect x="245.9" y="192.9" width="3" height="3"/>
<rect x="249.8" y="196.1" width="3" height="3"/>
<rect x="251.1" y="202.7" width="3" height="3"/>
<rect x="257.0" y="202.7" width="3" height="3"/>
<rect x="261.6" y="205.9" width="3" height="3"/>
<rect x="269.4" y="204.0" width="3" height="3"/>
<rect x="274.0" y="206.6" width="3" height="3"/>
<rect x="228.3" y="204.6" width="3" height="3"/>
<rect x="240.1" y="172.6" width="3" height="3"/>
<rect x="228.9" y="164.2" width="3" height="3"/>
<rect x="210.0" y="178.5" width="3" height="3"/>
</g>
<rect x="256.9" y="188.6" width="3.6" height="3.6" fill="#000" stroke="#000" stroke-width="1.1"/>
<rect x="258.3" y="189.6" width="3.6" height="3.6" fill="#000" stroke="#000" stroke-width="1.1"/>
<rect x="252.6" y="195.8" width="3.6" height="3.6" fill="#000" stroke="#000" stroke-width="1.1"/>
<rect x="257.1" y="188.8" width="3.2" height="3.2" fill="#f4f4f4"/>
<rect x="258.5" y="189.8" width="3.2" height="3.2" fill="#e4e4e4"/>
<rect x="252.8" y="196.0" width="3.2" height="3.2" fill="#f0f0f0"/>
<rect x="263.6" y="185.6" width="3.6" height="3.6" fill="#8c8ce6" stroke="#000" stroke-width="1.1"/>
<rect x="264.6" y="190.2" width="3.6" height="3.6" fill="#8c8ce6" stroke="#000" stroke-width="1.1"/>
<rect x="264.6" y="197.7" width="3.6" height="3.6" fill="#8c8ce6" stroke="#000" stroke-width="1.1"/>
<rect x="250.2" y="195.8" width="3" height="4.6" fill="#fff"/>
</g>
<rect x="52.5" y="50.5" width="360.5" height="361.5" fill="none" stroke="#000" stroke-width="1.2"/>
<path d="M104.5 412v-5M104.5 50v5M157.5 412v-5M157.5 50v5M209.5 412v-5M209.5 50v5M261.5 412v-5M261.5 50v5M314.5 412v-5M314.5 50v5M366.5 412v-5M366.5 50v5M52 356.5h5M413 356.5h-5M52 301.5h5M413 301.5h-5M52 245.5h5M413 245.5h-5M52 189.5h5M413 189.5h-5M52 134.5h5M413 134.5h-5M52 78.5h5M413 78.5h-5" stroke="#000" stroke-width="1"/>
<text transform="translate(52.50,430.00) scale(1,0.950)" text-anchor="middle" style="font-family:'Liberation Mono','DejaVu Sans Mono',monospace;font-weight:bold;font-size:11.67px" fill="#000" stroke="#000" stroke-width="0.28">&#8722;86</text>
<text transform="translate(104.50,430.00) scale(1,0.950)" text-anchor="middle" style="font-family:'Liberation Mono','DejaVu Sans Mono',monospace;font-weight:bold;font-size:11.67px" fill="#000" stroke="#000" stroke-width="0.28">&#8722;85.5</text>
<text transform="translate(157.50,430.00) scale(1,0.950)" text-anchor="middle" style="font-family:'Liberation Mono','DejaVu Sans Mono',monospace;font-weight:bold;font-size:11.67px" fill="#000" stroke="#000" stroke-width="0.28">&#8722;85</text>
<text transform="translate(209.50,430.00) scale(1,0.950)" text-anchor="middle" style="font-family:'Liberation Mono','DejaVu Sans Mono',monospace;font-weight:bold;font-size:11.67px" fill="#000" stroke="#000" stroke-width="0.28">&#8722;84.5</text>
<text transform="translate(261.50,430.00) scale(1,0.950)" text-anchor="middle" style="font-family:'Liberation Mono','DejaVu Sans Mono',monospace;font-weight:bold;font-size:11.67px" fill="#000" stroke="#000" stroke-width="0.28">&#8722;84</text>
<text transform="translate(314.50,430.00) scale(1,0.950)" text-anchor="middle" style="font-family:'Liberation Mono','DejaVu Sans Mono',monospace;font-weight:bold;font-size:11.67px" fill="#000" stroke="#000" stroke-width="0.28">&#8722;83.5</text>
<text transform="translate(366.50,430.00) scale(1,0.950)" text-anchor="middle" style="font-family:'Liberation Mono','DejaVu Sans Mono',monospace;font-weight:bold;font-size:11.67px" fill="#000" stroke="#000" stroke-width="0.28">&#8722;83</text>
<text transform="translate(44.80,417.20) scale(1,0.950)" text-anchor="end" style="font-family:'Liberation Mono','DejaVu Sans Mono',monospace;font-weight:bold;font-size:11.67px" fill="#000" stroke="#000" stroke-width="0.28">8</text>
<text transform="translate(44.80,361.55) scale(1,0.950)" text-anchor="end" style="font-family:'Liberation Mono','DejaVu Sans Mono',monospace;font-weight:bold;font-size:11.67px" fill="#000" stroke="#000" stroke-width="0.28">8.5</text>
<text transform="translate(44.80,305.90) scale(1,0.950)" text-anchor="end" style="font-family:'Liberation Mono','DejaVu Sans Mono',monospace;font-weight:bold;font-size:11.67px" fill="#000" stroke="#000" stroke-width="0.28">9</text>
<text transform="translate(44.80,250.25) scale(1,0.950)" text-anchor="end" style="font-family:'Liberation Mono','DejaVu Sans Mono',monospace;font-weight:bold;font-size:11.67px" fill="#000" stroke="#000" stroke-width="0.28">9.5</text>
<text transform="translate(44.80,194.60) scale(1,0.950)" text-anchor="end" style="font-family:'Liberation Mono','DejaVu Sans Mono',monospace;font-weight:bold;font-size:11.67px" fill="#000" stroke="#000" stroke-width="0.28">10</text>
<text transform="translate(44.80,138.95) scale(1,0.950)" text-anchor="end" style="font-family:'Liberation Mono','DejaVu Sans Mono',monospace;font-weight:bold;font-size:11.67px" fill="#000" stroke="#000" stroke-width="0.28">10.5</text>
<text transform="translate(44.80,83.30) scale(1,0.950)" text-anchor="end" style="font-family:'Liberation Mono','DejaVu Sans Mono',monospace;font-weight:bold;font-size:11.67px" fill="#000" stroke="#000" stroke-width="0.28">11</text>
<g clip-path="url(#ic)">
<rect x="323.5" y="51" width="89.5" height="88.5" fill="#fff"/>
<polygon points="330.6,50.0 383.1,50.0 384.7,54.3 385.8,55.9 382.6,58.6 380.4,60.8 380.9,64.0 383.1,67.3 384.7,69.5 386.4,72.7 389.1,77.1 392.3,81.4 395.6,85.8 398.9,90.1 401.9,93.2 405.2,95.3 407.3,97.5 408.4,99.7 410.6,101.9 414.0,104.5 414.0,119.8 410.6,119.3 407.3,118.2 404.1,117.1 400.8,117.1 399.7,118.2 399.7,120.3 398.7,122.5 397.6,119.3 396.5,117.1 394.3,114.9 392.1,112.7 390.5,110.0 388.9,109.5 390.0,112.7 391.0,116.5 388.9,116.0 385.6,113.8 383.4,111.7 385.1,108.4 384.5,104.0 382.3,101.9 379.1,99.7 375.8,97.5 371.5,96.4 369.7,95.6 366.5,94.5 365.9,92.3 363.2,89.0 360.0,91.2 357.8,93.9 355.6,91.8 352.3,89.6 348.0,88.0 345.8,84.7 343.7,80.3 345.8,77.1 348.0,73.8 345.8,71.7 342.6,70.6 346.4,68.4 346.9,65.1 344.7,63.0 339.3,60.2 333.9,56.4 330.6,52.1" fill="#e6e6e6" stroke="#000" stroke-width="1" stroke-linejoin="round"/>
<polyline points="342.6,50.0 343.7,55.3 344.7,59.7 346.4,63.0 349.1,65.1 355.6,67.3 360.0,68.4 364.3,67.3 368.4,67.3 373.9,70.6 379.3,72.7 383.7,71.7 384.7,69.5" fill="none" stroke="#000" stroke-width="1"/>
<polyline points="351.3,50.0 354.5,53.2 358.9,56.4 362.1,60.8 363.8,64.0 364.3,67.3" fill="none" stroke="#000" stroke-width="1"/>
<polyline points="398.7,91.0 397.6,95.3 397.0,99.7 398.1,104.0 399.7,106.2 398.7,109.5 398.1,112.7 399.7,116.0 400.8,117.1" fill="none" stroke="#000" stroke-width="1"/>
<polygon points="355.6,82.5 357.8,82.0 361.0,84.7 363.8,88.5 362.1,89.0 358.9,86.9 356.2,84.2" fill="#fff" stroke="#000" stroke-width="1"/>
</g>
<rect x="323.5" y="51" width="89.5" height="89" fill="none" stroke="#000" stroke-width="1.2"/><rect x="412.5" y="50" width="2" height="90.6" fill="#000"/><rect x="323" y="50" width="91.5" height="2" fill="#000"/>
<g fill="none" stroke="#f00" stroke-width="1.1">
<polygon points="386.7,90.7 382.1,95.3 375.5,95.3 370.9,90.7 370.9,84.1 375.5,79.5 382.1,79.5 386.7,84.1"/>
<polygon points="384.2,89.6 381.0,92.8 376.6,92.8 373.4,89.6 373.4,85.2 376.6,82.0 381.0,82.0 384.2,85.2"/>
<polygon points="381.6,88.5 379.9,90.2 377.7,90.2 376.0,88.5 376.0,86.3 377.7,84.6 379.9,84.6 381.6,86.3"/>
<path d="M369.2 87.4h2M388.4 87.4h-2M378.8 77.8v2M378.8 97.0v-2M372.0 87.4h2M385.6 87.4h-2M378.8 80.6v2M378.8 94.2v-2M374.8 87.4h2M382.8 87.4h-2M378.8 83.4v2M378.8 91.4v-2"/>
<rect x="377.8" y="86.4" width="2" height="2"/>
</g>
<text x="330.5" y="153" style="font-family:'Liberation Sans',Arial,sans-serif;font-size:10.5px" fill="#000">M=4.0 P=10km</text>
<rect x="57.5" y="289.5" width="230" height="116.6" fill="#e2e2e2" stroke="#000" stroke-width="1.2"/>
<rect x="57" y="289" width="231" height="20" fill="#000"/>
<text x="88.2" y="303.6" style="font-family:'Liberation Sans',Arial,sans-serif;font-size:13.3px" fill="#fff">INTENSIDAD JMA [0 a 7]</text>
<text x="60.6" y="325.0" style="font-family:'Liberation Sans',Arial,sans-serif;font-size:11px" fill="#000">[</text>
<text x="70.9" y="325.0" text-anchor="middle" style="font-family:'Liberation Sans',Arial,sans-serif;font-size:11px" fill="#000">1</text>
<text x="76.6" y="325.0" style="font-family:'Liberation Sans',Arial,sans-serif;font-size:11px" fill="#000">]</text>
<text x="86" y="325.0" style="font-family:'Liberation Sans',Arial,sans-serif;font-size:10.7px" fill="#000">Ochomogo UCR (11.5 cm/s<tspan dy="-4" style="font-size:7.5px">2</tspan><tspan dy="4">)</tspan></text>
<text x="60.6" y="339.6" style="font-family:'Liberation Sans',Arial,sans-serif;font-size:11px" fill="#000">[</text>
<text x="70.9" y="339.6" text-anchor="middle" style="font-family:'Liberation Sans',Arial,sans-serif;font-size:11px" fill="#000">1</text>
<text x="76.6" y="339.6" style="font-family:'Liberation Sans',Arial,sans-serif;font-size:11px" fill="#000">]</text>
<text x="86" y="339.6" style="font-family:'Liberation Sans',Arial,sans-serif;font-size:10.7px" fill="#000">Cascajal. Coronado (4.6 cm/s<tspan dy="-4" style="font-size:7.5px">2</tspan><tspan dy="4">)</tspan></text>
<text x="60.6" y="354.1" style="font-family:'Liberation Sans',Arial,sans-serif;font-size:11px" fill="#000">[</text>
<text x="70.9" y="354.1" text-anchor="middle" style="font-family:'Liberation Sans',Arial,sans-serif;font-size:11px" fill="#000">1</text>
<text x="76.6" y="354.1" style="font-family:'Liberation Sans',Arial,sans-serif;font-size:11px" fill="#000">]</text>
<text x="86" y="354.1" style="font-family:'Liberation Sans',Arial,sans-serif;font-size:10.7px" fill="#000">Finca El Corralillo. Coronado (3.9 cm/s<tspan dy="-4" style="font-size:7.5px">2</tspan><tspan dy="4">)</tspan></text>
<text x="60.6" y="368.6" style="font-family:'Liberation Sans',Arial,sans-serif;font-size:11px" fill="#000">[</text>
<text x="70.9" y="368.6" text-anchor="middle" style="font-family:'Liberation Sans',Arial,sans-serif;font-size:11px" fill="#000">1</text>
<text x="76.6" y="368.6" style="font-family:'Liberation Sans',Arial,sans-serif;font-size:11px" fill="#000">]</text>
<text x="86" y="368.6" style="font-family:'Liberation Sans',Arial,sans-serif;font-size:10.7px" fill="#000">ICP-UCR Coronado (1.6 cm/s<tspan dy="-4" style="font-size:7.5px">2</tspan><tspan dy="4">)</tspan></text>
<text x="60.6" y="383.2" style="font-family:'Liberation Sans',Arial,sans-serif;font-size:11px" fill="#000">[</text>
<text x="70.9" y="383.2" text-anchor="middle" style="font-family:'Liberation Sans',Arial,sans-serif;font-size:11px" fill="#000">1</text>
<text x="76.6" y="383.2" style="font-family:'Liberation Sans',Arial,sans-serif;font-size:11px" fill="#000">]</text>
<text x="86" y="383.2" style="font-family:'Liberation Sans',Arial,sans-serif;font-size:10.7px" fill="#000">Cuesta Moras. San Jose (2.7 cm/s<tspan dy="-4" style="font-size:7.5px">2</tspan><tspan dy="4">)</tspan></text>
<text x="60.6" y="397.8" style="font-family:'Liberation Sans',Arial,sans-serif;font-size:11px" fill="#000">[</text>
<text x="70.9" y="397.8" text-anchor="middle" style="font-family:'Liberation Sans',Arial,sans-serif;font-size:11px" fill="#000">0</text>
<text x="76.6" y="397.8" style="font-family:'Liberation Sans',Arial,sans-serif;font-size:11px" fill="#000">]</text>
<text x="86" y="397.8" style="font-family:'Liberation Sans',Arial,sans-serif;font-size:10.7px" fill="#000">San Miguel (1.2 cm/s<tspan dy="-4" style="font-size:7.5px">2</tspan><tspan dy="4">)</tspan></text>
<defs><linearGradient id="cbg" x1="0" y1="0" x2="0" y2="1"><stop offset="0.0000" stop-color="rgb(0,0,0)"/><stop offset="0.0086" stop-color="rgb(0,0,0)"/><stop offset="0.0214" stop-color="rgb(35,0,0)"/><stop offset="0.0714" stop-color="rgb(130,0,0)"/><stop offset="0.1143" stop-color="rgb(240,0,0)"/><stop offset="0.1429" stop-color="rgb(255,40,0)"/><stop offset="0.2143" stop-color="rgb(255,150,0)"/><stop offset="0.2857" stop-color="rgb(255,200,0)"/><stop offset="0.3214" stop-color="rgb(255,235,0)"/><stop offset="0.3500" stop-color="rgb(255,250,0)"/><stop offset="0.3643" stop-color="rgb(160,240,50)"/><stop offset="0.3857" stop-color="rgb(40,230,40)"/><stop offset="0.4071" stop-color="rgb(0,228,40)"/><stop offset="0.4429" stop-color="rgb(0,225,90)"/><stop offset="0.5214" stop-color="rgb(0,240,150)"/><stop offset="0.5714" stop-color="rgb(0,250,215)"/><stop offset="0.6000" stop-color="rgb(0,245,235)"/><stop offset="0.6286" stop-color="rgb(0,170,240)"/><stop offset="0.6643" stop-color="rgb(0,80,240)"/><stop offset="0.7143" stop-color="rgb(0,0,235)"/><stop offset="0.7714" stop-color="rgb(70,70,225)"/><stop offset="0.8000" stop-color="rgb(100,100,215)"/><stop offset="0.8286" stop-color="rgb(135,135,205)"/><stop offset="0.8571" stop-color="rgb(160,160,200)"/><stop offset="0.8786" stop-color="rgb(178,178,188)"/><stop offset="0.9143" stop-color="rgb(190,190,190)"/><stop offset="0.9500" stop-color="rgb(215,215,215)"/><stop offset="0.9857" stop-color="rgb(240,240,240)"/><stop offset="1.0000" stop-color="rgb(248,248,248)"/></linearGradient></defs>
<rect x="422.5" y="50.5" width="18.5" height="362" fill="url(#cbg)" stroke="#000" stroke-width="1.2"/>
<path d="M422 361.5h4M441 361.5h-4M422 309.5h4M441 309.5h-4M422 257.5h4M441 257.5h-4M422 206.5h4M441 206.5h-4M422 154.5h4M441 154.5h-4M422 102.5h4M441 102.5h-4" stroke="#000" stroke-width="1"/>
<text transform="translate(453.80,416.94) scale(1,0.950)" text-anchor="start" style="font-family:'Liberation Mono','DejaVu Sans Mono',monospace;font-weight:bold;font-size:11.67px" fill="#000" stroke="#000" stroke-width="0.28">0</text>
<text transform="translate(453.80,365.22) scale(1,0.950)" text-anchor="start" style="font-family:'Liberation Mono','DejaVu Sans Mono',monospace;font-weight:bold;font-size:11.67px" fill="#000" stroke="#000" stroke-width="0.28">1</text>
<text transform="translate(453.80,313.50) scale(1,0.950)" text-anchor="start" style="font-family:'Liberation Mono','DejaVu Sans Mono',monospace;font-weight:bold;font-size:11.67px" fill="#000" stroke="#000" stroke-width="0.28">2</text>
<text transform="translate(453.80,261.78) scale(1,0.950)" text-anchor="start" style="font-family:'Liberation Mono','DejaVu Sans Mono',monospace;font-weight:bold;font-size:11.67px" fill="#000" stroke="#000" stroke-width="0.28">3</text>
<text transform="translate(453.80,210.06) scale(1,0.950)" text-anchor="start" style="font-family:'Liberation Mono','DejaVu Sans Mono',monospace;font-weight:bold;font-size:11.67px" fill="#000" stroke="#000" stroke-width="0.28">4</text>
<text transform="translate(453.80,158.34) scale(1,0.950)" text-anchor="start" style="font-family:'Liberation Mono','DejaVu Sans Mono',monospace;font-weight:bold;font-size:11.67px" fill="#000" stroke="#000" stroke-width="0.28">5</text>
<text transform="translate(453.80,106.62) scale(1,0.950)" text-anchor="start" style="font-family:'Liberation Mono','DejaVu Sans Mono',monospace;font-weight:bold;font-size:11.67px" fill="#000" stroke="#000" stroke-width="0.28">6</text>
<text transform="translate(453.80,54.90) scale(1,0.950)" text-anchor="start" style="font-family:'Liberation Mono','DejaVu Sans Mono',monospace;font-weight:bold;font-size:11.67px" fill="#000" stroke="#000" stroke-width="0.28">7</text>
<text transform="translate(476.30,74.10) rotate(-90) scale(1,0.950)" text-anchor="middle" style="font-family:'Liberation Mono','DejaVu Sans Mono',monospace;font-weight:bold;font-size:11.67px" fill="#000" stroke="#000" stroke-width="0.28">Muy Fuerte</text>
<text transform="translate(476.30,152.00) rotate(-90) scale(1,0.950)" text-anchor="middle" style="font-family:'Liberation Mono','DejaVu Sans Mono',monospace;font-weight:bold;font-size:11.67px" fill="#000" stroke="#000" stroke-width="0.28">Fuerte</text>
<text transform="translate(476.30,233.50) rotate(-90) scale(1,0.950)" text-anchor="middle" style="font-family:'Liberation Mono','DejaVu Sans Mono',monospace;font-weight:bold;font-size:11.67px" fill="#000" stroke="#000" stroke-width="0.28">Moderado</text>
<text transform="translate(476.30,305.00) rotate(-90) scale(1,0.950)" text-anchor="middle" style="font-family:'Liberation Mono','DejaVu Sans Mono',monospace;font-weight:bold;font-size:11.67px" fill="#000" stroke="#000" stroke-width="0.28">Debil</text>
<text transform="translate(476.30,379.00) rotate(-90) scale(1,0.950)" text-anchor="middle" style="font-family:'Liberation Mono','DejaVu Sans Mono',monospace;font-weight:bold;font-size:11.67px" fill="#000" stroke="#000" stroke-width="0.28">No sentido</text>
<defs><clipPath id="pc0"><rect x="507.0" y="21.4" width="283.3" height="52.8"/></clipPath></defs>
<line x1="507.0" y1="51.3" x2="790.3" y2="51.3" stroke="#006400" stroke-width="0.7" stroke-opacity="0.75"/>
<g clip-path="url(#pc0)"><path d="M507.0 51.3 507.5 51.2 508.0 51.4 508.5 51.4 509.0 51.5 509.5 51.1 510.0 51.0 510.5 51.1 511.0 51.2 511.5 51.4 512.0 51.3 512.5 51.2 513.0 51.4 513.5 51.4 514.0 51.4 514.5 51.2 515.0 51.4 515.5 51.4 516.0 51.3 516.5 51.1 517.0 51.2 517.5 51.4 518.0 51.3 518.5 51.2 519.0 51.2 519.5 51.2 520.0 51.3 520.5 51.3 521.0 51.5 521.5 51.4 522.0 51.4 522.5 51.3 523.0 51.2 523.5 51.4 524.0 51.5 524.5 51.2 525.0 51.3 525.5 51.1 526.0 51.4 526.5 51.4 527.0 51.4 527.5 51.3 528.0 51.2 528.5 51.4 529.0 51.2 529.5 51.3 530.0 51.2 530.5 51.3 531.0 51.4 531.5 51.1 532.0 51.4 532.5 51.4 533.0 51.4 533.5 51.4 534.0 51.5 534.5 51.2 535.0 51.3 535.5 51.0 536.0 51.3 536.5 51.3 537.0 51.4 537.5 51.3 538.0 51.2 538.5 51.5 539.0 51.5 539.5 51.4 540.0 51.4 540.5 51.4 541.0 51.0 541.5 51.3 542.0 51.5 542.5 51.1 543.0 51.2 543.5 51.2 544.0 51.2 544.5 51.3 545.0 51.0 545.5 51.0 545.8 52.4 546.0 55.6 546.2 51.8 546.5 49.3 546.6 49.1 546.8 51.2 546.9 51.2 547.0 53.7 547.1 51.7 547.2 49.3 547.4 51.9 547.5 60.6 547.6 56.4 547.8 39.3 547.9 50.6 548.0 46.2 548.1 55.3 548.2 50.1 548.4 66.5 548.5 59.4 548.6 59.7 548.8 53.2 548.9 50.9 549.0 55.4 549.1 67.5 549.2 58.2 549.4 46.6 549.5 69.0 549.6 54.1 549.8 50.1 549.9 39.1 550.0 42.3 550.1 40.9 550.2 26.5 550.4 69.0 550.5 61.4 550.6 47.4 550.8 71.1 550.9 59.8 551.0 58.7 551.1 21.9 551.2 46.9 551.4 60.9 551.5 78.8 551.6 80.7 551.8 72.5 551.9 35.3 552.0 23.3 552.1 57.9 552.2 51.6 552.4 60.4 552.5 50.2 552.6 53.4 552.8 35.4 552.9 56.5 553.0 45.6 553.1 55.9 553.2 57.6 553.4 49.6 553.5 55.9 553.6 51.1 553.8 63.1 553.9 59.3 554.0 42.3 554.1 41.3 554.2 81.7 554.4 49.5 554.5 69.5 554.6 58.7 554.8 40.4 554.9 36.5 555.0 53.7 555.1 56.1 555.2 61.7 555.4 31.8 555.5 43.1 555.6 50.1 555.8 68.1 555.9 30.3 556.0 55.5 556.1 45.3 556.2 56.8 556.4 44.2 556.5 57.1 556.6 78.8 556.8 58.1 556.9 60.3 557.0 59.7 557.1 34.9 557.2 62.9 557.4 46.9 557.5 34.7 557.6 50.5 557.8 46.9 557.9 65.7 558.0 50.5 558.1 41.7 558.2 77.1 558.4 68.3 558.5 72.6 558.6 61.3 558.8 49.5 558.9 44.8 559.0 47.1 559.1 65.2 559.2 52.9 559.4 31.0 559.5 50.8 559.6 33.1 559.8 53.4 559.9 36.9 560.0 36.7 560.1 52.6 560.2 50.4 560.4 33.5 560.5 59.1 560.6 72.8 560.8 36.6 560.9 68.9 561.0 44.8 561.1 46.8 561.2 49.7 561.4 38.7 561.5 62.4 561.6 55.4 561.8 45.2 561.9 49.1 562.0 39.7 562.1 48.7 562.2 58.0 562.4 39.3 562.5 48.3 562.6 52.3 562.8 58.0 562.9 59.6 563.0 48.6 563.1 46.6 563.2 54.4 563.4 48.7 563.5 48.9 563.6 60.0 563.8 65.7 563.9 53.7 564.0 49.5 564.1 56.8 564.2 32.4 564.4 51.1 564.5 39.7 564.6 69.9 564.8 59.7 564.9 53.0 565.0 48.9 565.1 33.1 565.2 58.2 565.4 65.0 565.5 46.1 565.6 55.3 565.8 55.0 565.9 41.4 566.0 58.4 566.1 63.1 566.2 53.6 566.4 50.6 566.5 60.9 566.6 34.4 566.8 52.5 566.9 64.9 567.0 35.5 567.1 63.8 567.2 46.1 567.4 35.2 567.5 50.0 567.6 39.4 567.8 55.2 567.9 37.4 568.0 63.1 568.1 43.4 568.2 54.9 568.4 45.7 568.5 48.4 568.6 61.2 568.8 53.0 568.9 48.4 569.0 42.9 569.1 58.7 569.2 55.7 569.4 49.4 569.5 52.6 569.6 46.0 569.8 46.4 569.9 47.6 570.0 52.8 570.1 52.5 570.2 48.6 570.4 53.9 570.5 54.3 570.6 52.0 570.8 55.6 570.9 50.1 571.0 50.8 571.1 53.4 571.2 51.1 571.4 54.9 571.5 45.7 571.6 57.6 571.8 47.8 571.9 50.6 572.0 45.3 572.1 53.9 572.2 56.8 572.4 55.9 572.5 54.9 572.6 44.6 572.8 48.0 572.9 49.3 573.0 47.4 573.1 55.4 573.2 51.9 573.4 51.2 573.5 52.9 573.6 47.6 573.8 47.3 573.9 47.0 574.0 54.0 574.1 53.3 574.2 55.0 574.4 58.7 574.5 42.1 574.6 47.3 574.8 52.3 574.9 42.2 575.0 47.6 575.1 58.3 575.2 58.9 575.4 58.7 575.5 51.6 575.6 49.9 575.8 58.5 575.9 48.8 576.0 53.5 576.1 59.8 576.2 48.9 576.4 47.3 576.5 51.2 576.6 55.1 576.8 54.4 576.9 52.3 577.0 54.8 577.1 43.2 577.2 46.0 577.4 52.3 577.5 45.6 577.6 43.7 577.8 45.0 577.9 46.9 578.0 50.5 578.1 47.4 578.2 52.1 578.4 56.4 578.5 50.9 578.6 54.1 578.8 52.0 578.9 48.3 579.0 50.5 579.1 48.5 579.2 53.4 579.4 48.3 579.5 54.6 579.6 52.6 579.8 46.9 579.9 52.9 580.0 54.3 580.1 49.8 580.2 53.2 580.4 47.6 580.6 47.6 580.9 47.0 581.1 52.3 581.4 49.6 581.6 51.6 581.9 53.2 582.1 47.3 582.4 52.5 582.6 57.0 582.9 47.8 583.1 51.5 583.4 55.6 583.6 52.1 583.9 53.6 584.1 49.1 584.4 53.6 584.6 51.7 584.9 50.8 585.1 56.3 585.4 50.9 585.6 54.7 585.9 51.2 586.1 52.6 586.4 50.2 586.6 50.5 586.9 51.1 587.1 51.2 587.4 54.7 587.6 51.7 587.9 48.0 588.1 49.1 588.4 55.5 588.6 54.3 588.9 47.2 589.1 54.1 589.4 48.3 589.6 48.2 589.9 53.7 590.1 49.8 590.4 50.1 590.6 49.7 590.9 51.5 591.1 49.7 591.4 48.1 591.6 50.6 591.9 49.3 592.1 50.8 592.4 53.4 592.6 51.0 592.9 51.3 593.1 50.9 593.4 51.9 593.6 51.9 593.9 52.8 594.1 50.6 594.4 54.5 594.6 50.9 594.9 51.3 595.1 52.7 595.4 50.3 595.6 51.1 595.9 50.3 596.1 53.3 596.4 50.4 596.6 50.4 596.9 53.2 597.1 49.4 597.4 52.1 597.6 51.4 597.9 52.5 598.1 52.4 598.4 50.8 598.6 53.3 598.9 49.1 599.1 51.1 599.4 50.8 599.6 52.0 599.9 51.0 600.1 50.7 600.4 51.6 600.6 50.3 600.9 52.4 601.1 51.6 601.4 51.0 601.6 49.0 601.9 50.2 602.1 53.2 602.4 51.4 602.6 49.0 602.9 53.1 603.1 53.3 603.4 50.3 603.6 51.3 603.9 50.3 604.1 49.1 604.4 50.1 604.6 51.6 604.9 49.2 605.1 50.6 605.4 52.2 605.6 50.5 605.9 50.4 606.1 51.0 606.4 51.3 606.6 49.3 606.9 49.2 607.1 53.4 607.4 51.1 607.6 49.3 607.9 49.6 608.1 50.5 608.4 51.9 608.6 51.5 608.9 51.8 609.1 52.0 609.4 49.7 609.6 52.5 609.9 51.2 610.1 51.6 610.4 50.9 610.6 51.5 610.9 50.4 611.1 52.1 611.4 51.7 611.6 53.1 611.9 51.9 612.1 51.3 612.4 51.8 612.6 51.5 612.9 51.4 613.1 51.9 613.4 50.3 613.6 50.2 613.9 51.3 614.1 52.0 614.4 51.5 614.6 52.3 614.9 51.5 615.4 50.9 615.9 51.1 616.4 51.5 616.9 51.8 617.4 51.4 617.9 52.4 618.4 50.4 618.9 52.7 619.4 52.8 619.9 51.4 620.4 51.6 620.9 50.8 621.4 50.5 621.9 51.0 622.4 51.5 622.9 51.2 623.4 51.7 623.9 51.2 624.4 51.0 624.9 52.1 625.4 51.8 625.9 51.8 626.4 51.8 626.9 51.7 627.4 51.7 627.9 50.9 628.4 51.4 628.9 50.5 629.4 51.4 629.9 51.6 630.4 50.5 630.9 51.4 631.4 51.4 631.9 51.1 632.4 51.6 632.9 51.3 633.4 51.8 633.9 51.8 634.4 51.4 634.9 50.7 635.4 51.3 635.9 51.8 636.4 51.0 636.9 51.5 637.4 51.3 637.9 51.3 638.4 51.3 638.9 51.5 639.4 51.3 639.9 51.0 640.4 51.4 640.9 51.9 641.4 51.2 641.9 51.1 642.4 51.6 642.9 51.2 643.4 51.2 643.9 51.7 644.4 51.4 644.9 51.4 645.4 51.4 645.9 51.3 646.4 51.5 646.9 51.9 647.4 50.9 647.9 51.3 648.4 51.7 648.9 51.7 649.4 51.4 649.9 51.2 650.4 51.2 650.9 50.7 651.4 51.2 651.9 51.7 652.4 50.9 652.9 51.3 653.4 51.0 653.9 51.1 654.4 51.5 654.9 51.2 655.4 51.4 655.9 51.2 656.4 51.5 656.9 51.2 657.4 51.0 657.9 51.2 658.4 51.3 658.9 51.3 659.4 51.1 659.9 51.4 660.4 51.1 660.9 51.3 661.4 51.6 661.9 51.5 662.4 51.5 662.9 51.3 663.4 51.3 663.9 51.8 664.4 51.8 664.9 51.5 665.4 51.1 665.9 51.3 666.4 51.6 666.9 51.0 667.4 51.8 667.9 51.8 668.4 51.3 668.9 51.3 669.4 51.1 669.9 51.2 670.4 51.5 670.9 51.0 671.4 51.4 671.9 51.0 672.4 51.4 672.9 50.9 673.4 51.2 673.9 50.8 674.4 51.2 674.9 51.5 675.4 50.8 675.9 51.2 676.4 51.2 676.9 51.7 677.4 51.1 677.9 51.0 678.4 51.1 678.9 51.4 679.4 51.5 679.9 51.3 680.4 51.3 680.9 51.5 681.4 51.2 681.9 51.3 682.4 51.2 682.9 51.0 683.4 51.2 683.9 51.1 684.4 51.2 684.9 51.5 685.4 51.4 685.9 51.5 686.4 51.2 686.9 51.7 687.4 51.4 687.9 51.7 688.4 51.2 688.9 51.4 689.4 51.4 689.9 51.4 690.4 51.1 690.9 51.1 691.4 51.5 691.9 51.2 692.4 51.3 692.9 51.3 693.4 51.2 693.9 51.2 694.4 51.2 694.9 51.5 695.4 51.3 695.9 51.2 696.4 51.2 696.9 51.3 697.4 51.6 697.9 51.4 698.4 51.4 698.9 51.3 699.4 51.1 699.9 51.3 700.4 51.2 700.9 51.4 701.4 51.2 701.9 51.1 702.4 51.3 702.9 51.0 703.4 51.4 703.9 51.2 704.4 51.4 704.9 51.1 705.4 51.0 705.9 51.3 706.4 51.2 706.9 51.6 707.4 51.4 707.9 51.1 708.4 51.2 708.9 51.4 709.4 51.4 709.9 51.2 710.4 51.3 710.9 51.3 711.4 51.2 711.9 51.1 712.4 51.3 712.9 51.2 713.4 51.3 713.9 51.3 714.4 51.4 714.9 51.1 715.4 51.3 715.9 51.4 716.4 51.2 716.9 51.2 717.4 51.3 717.9 51.2 718.4 51.2 718.9 51.3 719.4 51.2 719.9 51.4 720.4 51.4 720.9 51.3 721.4 51.3 721.9 51.3 722.4 51.5 722.9 51.2 723.4 51.3 723.9 51.4 724.4 51.2 724.9 51.3 725.4 51.4 725.9 51.4 726.4 51.3 726.9 51.1 727.4 51.2 727.9 51.2 728.4 51.3 728.9 51.3 729.4 51.3 729.9 51.2 730.4 51.2 730.9 51.2 731.4 51.2 731.9 51.2 732.4 51.1 732.9 51.2 733.4 51.0 733.9 51.3 734.4 51.6 734.9 51.1 735.4 51.4 735.9 51.2 736.4 51.2 736.9 51.3 737.4 51.3 737.9 51.1 738.4 51.3 738.9 51.4 739.4 51.2 739.9 51.2 740.4 51.4 740.9 51.3 741.4 51.3 741.9 51.2 742.4 51.3 742.9 51.4 743.4 51.3 743.9 51.5 744.4 51.3 744.9 51.3 745.4 51.3 745.9 51.3 746.4 51.4 746.9 51.2 747.4 51.2 747.9 51.5 748.4 51.5 748.9 51.3 749.4 51.3 749.9 51.1 750.4 51.6 750.9 51.5 751.4 51.5 751.9 51.5 752.4 51.3 752.9 51.3 753.4 51.1 753.9 51.5 754.4 51.2 754.9 51.5 755.4 51.3 755.9 51.6 756.4 51.2 756.9 51.5 757.4 51.3 757.9 51.0 758.4 51.1 758.9 51.5 759.4 51.3 759.9 51.4 760.4 51.3 760.9 51.3 761.4 51.0 761.9 51.3 762.4 51.3 762.9 51.3 763.4 51.4 763.9 51.3 764.4 51.2 764.9 51.3 765.4 51.2 765.9 51.3 766.4 51.3 766.9 51.4 767.4 51.3 767.9 51.4 768.4 51.3 768.9 51.3 769.4 51.3 769.9 51.3 770.4 51.5 770.9 51.1 771.4 51.2 771.9 51.4 772.4 51.2 772.9 51.6 773.4 51.3 773.9 51.2 774.4 51.3 774.9 51.3 775.4 51.3 775.9 51.3 776.4 51.3 776.9 51.3 777.4 51.4 777.9 51.3 778.4 51.4 778.9 51.3 779.4 51.4 779.9 51.1 780.4 51.2 780.9 51.3 781.4 51.3 781.9 51.0 782.4 51.2 782.9 51.2 783.4 51.3 783.9 51.2 784.4 51.2 784.9 51.1 785.4 51.3 785.9 51.2 786.4 51.3 786.9 51.3 787.4 51.3 787.9 51.0 788.4 51.2 788.9 51.5 789.4 51.4 789.9 51.3" fill="none" stroke="#006400" stroke-width="0.5" stroke-opacity="0.95"/></g>
<g clip-path="url(#pc0)"><path d="M546.4 50.1 546.5 52.2 546.6 51.5 546.8 50.9 546.9 53.0 547.0 48.9 547.1 53.9 547.2 46.8 547.4 55.9 547.5 52.2 547.6 51.0 547.8 49.5 547.9 53.6 548.0 51.3 548.1 51.2 548.2 55.7 548.4 50.2 548.5 51.0 548.6 53.8 548.8 56.7 548.9 51.3 549.0 52.8 549.1 52.3 549.2 55.8 549.4 59.8 549.5 47.1 549.6 51.4 549.8 51.9 549.9 55.7 550.0 61.3 550.1 52.2 550.2 53.6 550.4 59.7 550.5 44.0 550.6 47.1 550.8 49.2 550.9 52.4 551.0 54.1 551.1 48.5 551.2 66.0 551.4 46.9 551.5 50.9 551.6 61.1 551.8 58.6 551.9 52.4 552.0 55.5 552.1 59.0 552.2 52.4 552.4 57.6 552.5 45.2 552.6 53.0 552.8 39.4 552.9 45.4 553.0 43.4 553.1 62.4 553.2 48.7 553.4 54.8 553.5 45.1 553.6 50.8 553.8 50.2 553.9 45.6 554.0 59.2 554.1 39.1 554.2 57.3 554.4 68.1 554.5 45.8 554.6 52.6 554.8 39.9 554.9 52.1 555.0 38.4 555.1 57.2 555.2 48.3 555.4 37.5 555.5 41.8 555.6 39.5 555.8 49.8 555.9 58.9 556.0 48.9 556.1 42.6 556.2 45.3 556.4 52.9 556.5 34.5 556.6 56.6 556.8 55.1 556.9 34.5 557.0 61.3 557.1 38.9 557.2 50.1 557.4 60.8 557.5 39.3 557.6 37.8 557.8 43.4 557.9 43.7 558.0 50.6 558.1 47.9 558.2 48.1 558.4 48.2 558.5 50.3 558.6 45.8 558.8 53.7 558.9 51.5 559.0 45.0 559.1 63.2 559.2 43.5 559.4 56.1 559.5 47.0 559.6 53.7 559.8 54.6 559.9 56.6 560.0 59.7 560.1 46.8 560.2 63.2 560.4 53.9 560.5 47.0 560.6 44.0 560.8 63.0 560.9 60.8 561.0 51.6 561.1 55.9 561.2 58.9 561.4 52.2 561.5 49.4 561.6 51.5 561.8 56.2 561.9 51.8 562.0 45.1 562.1 55.7 562.2 42.6 562.4 47.7 562.5 58.2 562.6 52.9 562.8 52.9 562.9 52.2 563.0 57.0 563.1 51.4 563.2 41.7 563.4 52.9 563.5 40.7 563.6 41.3 563.8 59.6 563.9 56.8 564.0 49.4 564.1 51.3 564.2 52.1 564.4 56.6 564.5 47.9 564.6 47.4 564.8 48.6 564.9 52.3 565.0 52.9 565.1 49.8 565.2 55.2 565.4 46.8 565.5 51.3 565.6 48.4 565.8 47.0 565.9 57.3 566.0 50.2 566.1 47.0 566.2 51.8 566.4 47.1 566.5 54.3 566.6 55.3 566.8 56.1 566.9 47.0 567.0 51.0 567.1 59.5 567.2 50.7 567.4 56.9 567.5 57.9 567.6 45.9 567.8 56.5 567.9 54.6 568.0 55.1 568.1 58.3 568.2 53.4 568.4 51.9 568.5 53.9 568.6 50.3 568.8 53.5 568.9 44.0 569.0 58.0 569.1 49.6 569.2 53.5 569.4 52.7 569.5 51.9 569.6 52.0 569.8 51.8 569.9 45.9 570.0 49.7 570.1 55.6 570.2 48.1 570.4 48.0 570.5 58.2 570.6 55.5 570.8 56.6 570.9 51.5 571.0 52.4 571.1 53.9 571.2 53.2 571.4 51.2 571.5 47.1 571.6 49.3 571.8 47.1 571.9 56.0 572.0 50.3 572.1 51.0 572.2 52.3 572.4 51.5 572.5 52.9 572.6 49.8 572.8 47.4 572.9 56.0 573.0 49.6 573.1 50.2 573.2 49.4 573.4 50.0 573.5 51.5 573.6 53.3 573.8 48.8 573.9 52.1 574.0 49.7 574.1 54.3 574.2 48.4 574.4 51.6 574.5 53.1 574.6 48.2 574.8 51.6 574.9 51.7 575.0 49.5 575.1 50.9 575.2 53.7 575.4 51.9 575.5 50.4 575.6 50.9 575.8 52.4 575.9 54.2 576.0 53.1 576.1 53.0 576.2 54.8 576.4 48.0 576.5 48.3 576.6 46.8 576.8 53.1 576.9 46.8 577.0 51.2 577.1 52.9 577.2 48.5 577.4 50.0 577.5 50.8 577.6 52.8 577.8 48.3 577.9 52.0 578.0 52.7 578.1 51.6 578.2 51.6 578.4 53.7 578.5 51.7 578.6 51.3 578.8 50.7 578.9 52.5 579.0 50.8 579.1 52.5 579.2 51.5 579.4 53.4 579.5 49.9 579.6 51.4 579.8 51.9 579.9 52.0 580.0 53.3 580.1 52.0 580.2 52.9 580.4 54.6 580.5 52.7 580.6 49.5 580.8 48.9 580.9 52.4 581.0 50.7 581.1 51.8 581.2 51.0 581.4 53.4 581.5 53.2 581.6 49.5 581.8 51.7 581.9 50.8 582.0 49.3 582.1 52.3 582.2 51.1 582.4 52.0 582.5 54.4 582.6 53.2 582.8 52.9 582.9 50.7" fill="none" stroke="#005000" stroke-width="0.45" stroke-opacity="0.8"/></g>
<path d="M505.8 20.05H791.3V75.65H505.8Z M507.8 21.55V73.95H789.3V21.55Z" fill="#000" fill-rule="evenodd"/>
<path d="M520.6 20.1v-4.3M520.6 75.6v4.3M544.2 20.1v-4.3M544.2 75.6v4.3M567.9 20.1v-4.3M567.9 75.6v4.3M591.5 20.1v-4.3M591.5 75.6v4.3M615.2 20.1v-4.3M615.2 75.6v4.3M638.8 20.1v-4.3M638.8 75.6v4.3M662.4 20.1v-4.3M662.4 75.6v4.3M686.1 20.1v-4.3M686.1 75.6v4.3M709.7 20.1v-4.3M709.7 75.6v4.3M733.4 20.1v-4.3M733.4 75.6v4.3M757.0 20.1v-4.3M757.0 75.6v4.3M780.6 20.1v-4.3M780.6 75.6v4.3" stroke="#222" stroke-width="1"/>
<text x="520.6" y="92.5" text-anchor="middle" style="font-family:'Liberation Sans',Arial,sans-serif;font-size:9.8px" fill="#111">40</text>
<text x="544.2" y="92.5" text-anchor="middle" style="font-family:'Liberation Sans',Arial,sans-serif;font-size:9.8px" fill="#111">45</text>
<text x="567.9" y="92.5" text-anchor="middle" style="font-family:'Liberation Sans',Arial,sans-serif;font-size:9.8px" fill="#111">50</text>
<text x="591.5" y="92.5" text-anchor="middle" style="font-family:'Liberation Sans',Arial,sans-serif;font-size:9.8px" fill="#111">55</text>
<text x="615.2" y="92.5" text-anchor="middle" style="font-family:'Liberation Sans',Arial,sans-serif;font-size:9.8px" fill="#111">00</text>
<text x="638.8" y="92.5" text-anchor="middle" style="font-family:'Liberation Sans',Arial,sans-serif;font-size:9.8px" fill="#111">05</text>
<text x="662.4" y="92.5" text-anchor="middle" style="font-family:'Liberation Sans',Arial,sans-serif;font-size:9.8px" fill="#111">10</text>
<text x="686.1" y="92.5" text-anchor="middle" style="font-family:'Liberation Sans',Arial,sans-serif;font-size:9.8px" fill="#111">15</text>
<text x="709.7" y="92.5" text-anchor="middle" style="font-family:'Liberation Sans',Arial,sans-serif;font-size:9.8px" fill="#111">20</text>
<text x="733.4" y="92.5" text-anchor="middle" style="font-family:'Liberation Sans',Arial,sans-serif;font-size:9.8px" fill="#111">25</text>
<text x="757.0" y="92.5" text-anchor="middle" style="font-family:'Liberation Sans',Arial,sans-serif;font-size:9.8px" fill="#111">30</text>
<text x="780.6" y="92.5" text-anchor="middle" style="font-family:'Liberation Sans',Arial,sans-serif;font-size:9.8px" fill="#111">35</text>
<text x="799.3" y="33.1" style="font-family:'Liberation Sans',Arial,sans-serif;font-size:9.9px;font-weight:bold" fill="#0000ff">Ochomogo UCR</text>
<text x="799.3" y="56.2" style="font-family:'Liberation Sans',Arial,sans-serif;font-size:9.8px" fill="#222">Acel. Max. 1.1</text>
<text x="799.3" y="73.8" style="font-family:'Liberation Sans',Arial,sans-serif;font-size:9.8px" fill="#222">Int JMA: 1</text>
<defs><clipPath id="pc1"><rect x="507.0" y="100.9" width="283.3" height="52.7"/></clipPath></defs>
<line x1="507.0" y1="129.4" x2="790.3" y2="129.4" stroke="#006400" stroke-width="0.7" stroke-opacity="0.75"/>
<g clip-path="url(#pc1)"><path d="M507.0 129.4 507.5 129.6 508.0 129.4 508.5 129.1 509.0 129.6 509.5 129.5 510.0 129.3 510.5 129.5 511.0 129.3 511.5 129.4 512.0 129.5 512.5 129.5 513.0 129.3 513.5 129.5 514.0 129.5 514.5 129.4 515.0 129.1 515.5 129.1 516.0 129.4 516.5 129.5 517.0 129.5 517.5 129.5 518.0 129.5 518.5 129.3 519.0 129.7 519.5 129.1 520.0 129.3 520.5 129.4 521.0 129.3 521.5 129.5 522.0 129.5 522.5 129.4 523.0 129.3 523.5 129.6 524.0 129.5 524.5 129.4 525.0 129.1 525.5 129.2 526.0 129.4 526.5 129.4 527.0 129.3 527.5 129.5 528.0 129.5 528.5 129.6 529.0 129.3 529.5 129.2 530.0 129.4 530.5 129.6 531.0 129.6 531.5 129.3 532.0 129.2 532.5 129.4 533.0 129.3 533.5 129.4 534.0 129.5 534.5 129.5 535.0 129.3 535.5 129.4 536.0 129.5 536.5 129.4 537.0 129.3 537.5 129.4 538.0 129.4 538.5 129.5 539.0 129.7 539.5 129.2 540.0 129.4 540.5 129.7 541.0 129.2 541.5 129.3 542.0 129.6 542.5 129.4 543.0 129.4 543.5 129.4 544.0 129.5 544.5 129.4 545.0 129.4 545.5 129.7 546.0 129.4 546.5 129.1 547.0 129.4 547.5 129.4 548.0 129.3 548.5 129.5 549.0 129.4 549.5 129.3 549.8 128.7 550.0 134.1 550.1 129.0 550.2 126.2 550.4 129.4 550.5 129.5 550.6 126.2 550.8 127.7 550.9 132.8 551.0 134.7 551.1 120.2 551.2 135.1 551.4 130.2 551.5 136.3 551.6 129.3 551.8 132.1 551.9 139.4 552.0 118.2 552.1 139.3 552.2 130.6 552.4 118.0 552.5 117.1 552.6 131.4 552.8 123.0 552.9 135.7 553.0 130.8 553.1 128.6 553.2 134.7 553.4 130.4 553.5 132.7 553.6 132.7 553.8 130.9 553.9 133.5 554.0 134.1 554.1 120.4 554.2 127.4 554.4 128.4 554.5 126.1 554.6 114.4 554.8 123.6 554.9 133.1 555.0 131.7 555.1 146.1 555.2 123.1 555.4 125.2 555.5 124.3 555.6 126.8 555.8 125.0 555.9 117.3 556.0 131.4 556.1 134.5 556.2 136.3 556.4 121.6 556.5 127.8 556.6 146.4 556.8 128.3 556.9 133.4 557.0 127.5 557.1 140.9 557.2 139.5 557.4 150.1 557.5 133.6 557.6 132.6 557.8 122.1 557.9 126.3 558.0 123.1 558.1 125.9 558.2 113.4 558.4 146.3 558.5 113.0 558.6 134.1 558.8 105.3 558.9 136.3 559.0 155.7 559.1 112.5 559.2 137.1 559.4 128.0 559.5 135.5 559.6 138.5 559.8 115.9 559.9 125.6 560.0 117.3 560.1 113.2 560.2 106.5 560.4 146.5 560.5 117.0 560.6 140.0 560.8 137.7 560.9 115.2 561.0 143.4 561.1 117.8 561.2 138.0 561.4 149.4 561.5 119.5 561.6 116.5 561.8 116.3 561.9 152.2 562.0 124.1 562.1 111.5 562.2 141.2 562.4 126.7 562.5 128.8 562.6 113.8 562.8 107.1 562.9 117.4 563.0 111.8 563.1 106.9 563.2 113.0 563.4 115.9 563.5 139.9 563.6 138.0 563.8 135.2 563.9 123.6 564.0 117.0 564.1 131.9 564.2 133.0 564.4 136.4 564.5 129.1 564.6 128.4 564.8 131.9 564.9 120.6 565.0 121.0 565.1 135.5 565.2 118.0 565.4 128.7 565.5 135.2 565.6 131.0 565.8 132.3 565.9 120.9 566.0 128.3 566.1 126.9 566.2 135.3 566.4 133.9 566.5 129.7 566.6 151.5 566.8 136.0 566.9 126.0 567.0 121.8 567.1 129.1 567.2 123.2 567.4 146.7 567.5 135.1 567.6 126.7 567.8 123.9 567.9 121.0 568.0 127.5 568.1 138.6 568.2 134.9 568.4 129.2 568.5 130.3 568.6 120.4 568.8 133.1 568.9 128.5 569.0 135.4 569.1 128.7 569.2 127.0 569.4 130.8 569.5 125.7 569.6 138.5 569.8 131.7 569.9 132.5 570.0 132.4 570.1 126.8 570.2 134.1 570.4 131.5 570.5 142.6 570.6 130.5 570.8 133.7 570.9 125.3 571.0 126.2 571.1 126.9 571.2 142.6 571.4 130.9 571.5 139.1 571.6 127.8 571.8 127.2 571.9 116.2 572.0 135.6 572.1 142.5 572.2 128.6 572.4 136.8 572.5 133.4 572.6 127.3 572.8 133.1 572.9 125.5 573.0 128.3 573.1 136.1 573.2 130.6 573.4 124.8 573.5 135.2 573.6 125.6 573.8 129.1 573.9 128.3 574.0 129.1 574.1 125.2 574.2 120.3 574.4 141.9 574.5 123.6 574.6 123.7 574.8 116.2 574.9 130.9 575.0 141.2 575.1 141.5 575.2 142.6 575.4 140.8 575.5 132.8 575.6 130.2 575.8 138.2 575.9 129.8 576.0 130.8 576.1 125.8 576.2 130.2 576.4 137.2 576.5 129.5 576.6 131.7 576.8 117.8 576.9 137.3 577.0 132.2 577.1 137.5 577.2 131.1 577.4 126.1 577.5 124.5 577.6 131.4 577.8 129.6 577.9 125.6 578.0 129.4 578.1 126.5 578.2 133.7 578.4 127.3 578.5 121.9 578.6 129.1 578.8 125.6 578.9 140.8 579.0 125.8 579.1 119.5 579.2 129.0 579.4 127.7 579.5 131.0 579.6 130.6 579.8 123.7 579.9 129.0 580.0 128.8 580.1 124.2 580.2 127.1 580.4 129.9 580.5 124.4 580.6 125.8 580.8 127.6 580.9 128.8 581.0 131.3 581.1 123.2 581.2 130.4 581.4 131.9 581.5 136.2 581.6 127.0 581.8 124.5 581.9 121.3 582.0 131.8 582.1 135.7 582.2 125.3 582.4 131.4 582.5 133.8 582.6 134.4 582.8 126.8 582.9 132.9 583.0 128.9 583.1 123.6 583.2 130.9 583.4 131.5 583.5 123.6 583.6 132.1 583.8 138.5 583.9 120.5 584.0 133.7 584.1 135.0 584.2 129.8 584.4 131.5 584.5 127.9 584.6 137.7 584.8 123.8 584.9 128.6 585.0 120.8 585.1 131.3 585.2 131.5 585.4 121.0 585.5 124.6 585.6 131.8 585.8 126.7 585.9 123.2 586.0 121.2 586.1 130.8 586.2 137.6 586.4 127.2 586.5 131.0 586.6 130.9 586.8 128.9 586.9 129.6 587.0 129.6 587.1 126.3 587.2 136.8 587.4 136.5 587.5 130.0 587.6 133.2 587.8 127.2 587.9 128.6 588.0 132.7 588.1 125.3 588.2 124.4 588.4 130.6 588.5 122.0 588.6 136.8 588.8 132.8 588.9 130.5 589.0 132.8 589.1 124.8 589.2 125.1 589.4 132.7 589.5 132.8 589.6 129.8 589.8 129.2 589.9 128.1 590.0 132.2 590.1 126.2 590.2 127.3 590.4 127.9 590.5 124.5 590.6 124.7 590.8 125.4 590.9 133.7 591.1 131.0 591.4 126.8 591.6 128.3 591.9 131.4 592.1 127.3 592.4 132.0 592.6 129.5 592.9 127.3 593.1 128.8 593.4 132.9 593.6 128.5 593.9 132.4 594.1 129.8 594.4 126.0 594.6 130.5 594.9 132.0 595.1 131.4 595.4 132.9 595.6 128.9 595.9 129.9 596.1 128.6 596.4 133.1 596.6 129.5 596.9 129.5 597.1 129.0 597.4 132.7 597.6 129.8 597.9 129.4 598.1 129.9 598.4 128.3 598.6 127.7 598.9 133.7 599.1 126.3 599.4 129.2 599.6 130.3 599.9 127.3 600.1 128.8 600.4 126.5 600.6 127.2 600.9 128.0 601.1 134.6 601.4 127.6 601.6 131.6 601.9 133.0 602.1 125.9 602.4 129.1 602.6 127.0 602.9 129.3 603.1 127.1 603.4 133.5 603.6 125.7 603.9 127.1 604.1 125.7 604.4 127.5 604.6 129.4 604.9 126.5 605.1 124.4 605.4 128.8 605.6 131.0 605.9 129.4 606.1 128.1 606.4 130.5 606.6 131.0 606.9 127.6 607.1 127.6 607.4 127.8 607.6 129.6 607.9 132.2 608.1 127.4 608.4 128.8 608.6 129.2 608.9 129.0 609.1 128.4 609.4 128.5 609.6 130.3 609.9 128.7 610.1 128.1 610.4 126.6 610.6 130.9 610.9 128.5 611.1 128.3 611.4 130.1 611.6 131.3 611.9 129.3 612.1 129.2 612.4 129.6 612.6 129.8 612.9 129.8 613.1 129.3 613.4 130.1 613.9 129.5 614.4 128.3 614.9 130.4 615.4 128.8 615.9 129.8 616.4 130.2 616.9 129.7 617.4 130.5 617.9 129.3 618.4 129.5 618.9 129.4 619.4 129.1 619.9 128.9 620.4 128.9 620.9 130.0 621.4 129.3 621.9 129.7 622.4 129.9 622.9 130.2 623.4 128.8 623.9 129.7 624.4 129.2 624.9 129.4 625.4 129.2 625.9 129.6 626.4 129.9 626.9 129.4 627.4 130.3 627.9 128.6 628.4 128.5 628.9 130.1 629.4 128.9 629.9 129.7 630.4 128.7 630.9 129.4 631.4 128.6 631.9 129.1 632.4 129.3 632.9 129.8 633.4 129.9 633.9 129.5 634.4 130.2 634.9 129.7 635.4 129.4 635.9 129.2 636.4 129.0 636.9 128.9 637.4 130.1 637.9 129.2 638.4 129.3 638.9 130.1 639.4 129.9 639.9 129.6 640.4 129.9 640.9 128.8 641.4 129.5 641.9 129.0 642.4 129.7 642.9 128.9 643.4 129.3 643.9 129.3 644.4 129.5 644.9 129.4 645.4 129.3 645.9 130.0 646.4 129.8 646.9 129.9 647.4 129.4 647.9 129.9 648.4 129.1 648.9 129.1 649.4 129.1 649.9 129.2 650.4 129.4 650.9 129.0 651.4 129.6 651.9 129.7 652.4 129.6 652.9 129.0 653.4 129.5 653.9 129.5 654.4 129.5 654.9 129.3 655.4 129.3 655.9 129.6 656.4 128.9 656.9 129.1 657.4 129.2 657.9 129.6 658.4 129.3 658.9 129.4 659.4 129.4 659.9 129.4 660.4 129.5 660.9 129.8 661.4 129.3 661.9 129.5 662.4 129.1 662.9 129.1 663.4 129.9 663.9 129.3 664.4 129.2 664.9 129.4 665.4 129.2 665.9 129.7 666.4 129.3 666.9 129.5 667.4 129.2 667.9 129.3 668.4 129.0 668.9 129.3 669.4 129.5 669.9 129.3 670.4 129.6 670.9 129.5 671.4 129.4 671.9 129.6 672.4 129.3 672.9 129.5 673.4 129.3 673.9 129.0 674.4 129.4 674.9 129.6 675.4 129.6 675.9 129.3 676.4 129.4 676.9 129.3 677.4 129.3 677.9 129.2 678.4 129.2 678.9 129.6 679.4 129.4 679.9 129.1 680.4 129.0 680.9 129.2 681.4 129.5 681.9 129.4 682.4 129.5 682.9 129.3 683.4 129.5 683.9 129.5 684.4 129.3 684.9 129.4 685.4 129.5 685.9 129.5 686.4 129.5 686.9 129.4 687.4 129.4 687.9 129.3 688.4 129.1 688.9 129.1 689.4 129.6 689.9 129.4 690.4 129.5 690.9 129.0 691.4 129.3 691.9 129.3 692.4 129.5 692.9 129.2 693.4 129.5 693.9 129.3 694.4 129.3 694.9 129.2 695.4 129.7 695.9 129.2 696.4 129.3 696.9 129.3 697.4 129.5 697.9 129.3 698.4 129.2 698.9 129.3 699.4 129.1 699.9 129.3 700.4 129.4 700.9 129.3 701.4 129.3 701.9 129.5 702.4 129.4 702.9 129.5 703.4 129.2 703.9 129.4 704.4 129.7 704.9 129.1 705.4 129.1 705.9 129.1 706.4 129.4 706.9 129.4 707.4 129.6 707.9 129.6 708.4 129.5 708.9 129.7 709.4 129.5 709.9 129.4 710.4 129.5 710.9 129.3 711.4 129.3 711.9 129.7 712.4 129.4 712.9 129.5 713.4 129.3 713.9 129.3 714.4 129.7 714.9 129.5 715.4 129.7 715.9 129.5 716.4 129.5 716.9 129.6 717.4 129.3 717.9 129.3 718.4 129.4 718.9 129.4 719.4 129.4 719.9 129.7 720.4 129.6 720.9 129.4 721.4 129.2 721.9 129.6 722.4 129.4 722.9 129.1 723.4 129.2 723.9 129.3 724.4 129.4 724.9 129.4 725.4 129.4 725.9 129.1 726.4 129.5 726.9 129.3 727.4 129.4 727.9 129.5 728.4 129.3 728.9 129.4 729.4 129.1 729.9 129.2 730.4 129.6 730.9 129.2 731.4 129.4 731.9 129.6 732.4 129.4 732.9 129.4 733.4 129.4 733.9 129.7 734.4 129.1 734.9 129.5 735.4 129.3 735.9 129.3 736.4 129.1 736.9 129.4 737.4 129.5 737.9 129.5 738.4 129.4 738.9 129.6 739.4 129.5 739.9 129.6 740.4 129.4 740.9 129.4 741.4 129.5 741.9 129.5 742.4 129.2 742.9 129.4 743.4 129.1 743.9 129.5 744.4 129.7 744.9 129.4 745.4 129.1 745.9 129.7 746.4 129.6 746.9 129.3 747.4 129.3 747.9 129.2 748.4 129.2 748.9 129.5 749.4 129.4 749.9 129.7 750.4 129.5 750.9 129.4 751.4 129.3 751.9 129.7 752.4 129.5 752.9 129.4 753.4 129.5 753.9 129.3 754.4 129.5 754.9 129.3 755.4 129.3 755.9 129.5 756.4 129.3 756.9 129.2 757.4 129.2 757.9 129.5 758.4 129.2 758.9 129.4 759.4 129.5 759.9 129.4 760.4 129.3 760.9 129.4 761.4 129.5 761.9 129.4 762.4 129.4 762.9 129.3 763.4 129.4 763.9 129.4 764.4 129.5 764.9 129.5 765.4 129.3 765.9 129.4 766.4 129.5 766.9 129.5 767.4 129.4 767.9 129.3 768.4 129.3 768.9 129.1 769.4 129.5 769.9 129.5 770.4 129.3 770.9 129.3 771.4 129.5 771.9 129.4 772.4 129.2 772.9 129.5 773.4 129.6 773.9 129.4 774.4 129.6 774.9 129.4 775.4 129.3 775.9 129.3 776.4 129.4 776.9 129.4 777.4 129.4 777.9 129.5 778.4 129.5 778.9 129.5 779.4 129.3 779.9 129.3 780.4 129.4 780.9 129.3 781.4 129.6 781.9 129.4 782.4 129.3 782.9 129.5 783.4 129.3 783.9 129.5 784.4 129.3 784.9 129.5 785.4 129.4 785.9 129.5 786.4 129.3 786.9 129.5 787.4 129.5 787.9 129.4 788.4 129.5 788.9 129.5 789.4 129.5 789.9 129.7" fill="none" stroke="#006400" stroke-width="0.5" stroke-opacity="0.95"/></g>
<g clip-path="url(#pc1)"><path d="M550.0 129.2 550.1 131.9 550.2 128.9 550.4 132.1 550.5 131.1 550.6 130.0 550.8 130.7 550.9 128.6 551.0 132.2 551.1 128.9 551.2 131.1 551.4 127.8 551.5 127.9 551.6 130.2 551.8 130.3 551.9 133.4 552.0 129.4 552.1 130.9 552.2 131.1 552.4 135.9 552.5 130.4 552.6 126.4 552.8 125.1 552.9 128.5 553.0 130.0 553.1 125.7 553.2 125.5 553.4 126.2 553.5 129.3 553.6 131.6 553.8 126.7 553.9 126.2 554.0 134.0 554.1 136.0 554.2 131.3 554.4 127.0 554.5 126.9 554.6 132.0 554.8 122.1 554.9 122.6 555.0 133.0 555.1 123.0 555.2 125.7 555.4 137.9 555.5 126.8 555.6 134.9 555.8 127.7 555.9 124.1 556.0 131.0 556.1 128.5 556.2 132.9 556.4 122.1 556.5 131.5 556.6 130.2 556.8 133.0 556.9 130.5 557.0 124.3 557.1 135.9 557.2 133.9 557.4 134.1 557.5 132.5 557.6 131.2 557.8 126.1 557.9 119.2 558.0 120.2 558.1 128.2 558.2 116.5 558.4 125.2 558.5 134.3 558.6 123.1 558.8 141.2 558.9 118.0 559.0 133.4 559.1 115.8 559.2 131.2 559.4 140.4 559.5 126.6 559.6 119.9 559.8 120.5 559.9 133.6 560.0 135.2 560.1 131.8 560.2 125.1 560.4 121.0 560.5 122.8 560.6 121.5 560.8 117.8 560.9 135.8 561.0 137.1 561.1 137.2 561.2 139.7 561.4 124.6 561.5 117.4 561.6 130.0 561.8 127.1 561.9 122.2 562.0 131.1 562.1 126.2 562.2 132.4 562.4 130.9 562.5 123.9 562.6 128.6 562.8 125.6 562.9 130.5 563.0 128.2 563.1 123.0 563.2 130.9 563.4 127.2 563.5 127.6 563.6 129.2 563.8 141.3 563.9 130.7 564.0 127.3 564.1 124.8 564.2 118.8 564.4 128.4 564.5 128.6 564.6 125.3 564.8 132.9 564.9 130.9 565.0 132.5 565.1 127.1 565.2 137.6 565.4 132.2 565.5 124.9 565.6 128.8 565.8 134.8 565.9 124.9 566.0 136.5 566.1 126.2 566.2 117.7 566.4 133.1 566.5 125.7 566.6 129.0 566.8 128.0 566.9 134.7 567.0 128.8 567.1 133.3 567.2 124.5 567.4 129.2 567.5 126.1 567.6 128.8 567.8 138.4 567.9 125.6 568.0 130.5 568.1 127.5 568.2 130.5 568.4 125.9 568.5 127.0 568.6 123.2 568.8 133.0 568.9 129.1 569.0 129.8 569.1 124.6 569.2 133.9 569.4 132.6 569.5 127.7 569.6 129.8 569.8 128.0 569.9 132.1 570.0 122.2 570.1 129.6 570.2 129.8 570.4 131.8 570.5 125.6 570.6 126.5 570.8 125.4 570.9 132.1 571.0 130.4 571.1 132.6 571.2 131.8 571.4 131.3 571.5 125.3 571.6 128.5 571.8 133.6 571.9 130.3 572.0 126.0 572.1 126.5 572.2 127.8 572.4 128.5 572.5 129.7 572.6 129.4 572.8 130.8 572.9 132.8 573.0 131.4 573.1 126.0 573.2 136.1 573.4 128.7 573.5 127.2 573.6 133.0 573.8 134.0 573.9 131.0 574.0 133.7 574.1 128.9 574.2 129.0 574.4 125.9 574.5 132.9 574.6 130.2 574.8 135.0 574.9 128.5 575.0 133.3 575.1 130.0 575.2 135.2 575.4 129.8 575.5 134.4 575.6 126.4 575.8 128.4 575.9 128.0 576.0 133.1 576.1 123.0 576.2 126.0 576.4 130.4 576.5 129.5 576.6 129.6 576.8 131.0 576.9 129.0 577.0 131.7 577.1 133.6 577.2 126.8 577.4 133.5 577.5 127.2 577.6 125.6 577.8 129.3 577.9 129.2 578.0 130.3 578.1 126.0 578.2 129.1 578.4 127.6 578.5 132.5 578.6 129.5 578.8 127.5 578.9 126.3 579.0 129.3 579.1 134.8 579.2 124.4 579.4 127.4 579.5 132.7 579.6 132.1 579.8 128.7 579.9 129.0 580.0 128.1 580.1 126.9 580.2 128.5 580.4 130.7 580.5 130.3 580.6 125.4 580.8 128.8 580.9 127.6 581.0 132.5 581.1 125.8 581.2 126.4 581.4 125.9 581.5 135.0 581.6 133.8 581.8 128.9 581.9 131.9 582.0 125.2 582.1 128.9 582.2 134.8 582.4 129.1 582.5 126.2 582.6 127.9 582.8 128.0 582.9 129.0 583.0 129.1 583.1 128.3 583.2 125.9 583.4 129.3 583.5 129.3 583.6 125.7 583.8 130.7 583.9 129.0 584.0 133.3 584.1 130.5 584.2 128.0 584.4 127.5 584.5 133.3 584.6 132.0 584.8 130.7 584.9 131.3 585.0 126.6 585.1 132.0 585.2 129.2 585.4 129.4 585.5 131.7 585.6 130.7 585.8 126.4 585.9 130.9 586.0 129.2 586.1 132.0 586.2 130.0 586.4 130.9 586.5 127.7 586.6 128.0 586.8 127.4 586.9 130.4 587.0 127.9 587.1 129.1 587.2 133.7 587.4 131.7 587.5 133.6 587.6 128.6 587.8 128.4 587.9 129.2 588.0 131.3 588.1 128.5 588.2 133.5 588.4 128.4 588.5 132.7 588.6 128.2 588.8 128.5 588.9 130.7 589.0 130.0 589.1 129.4 589.2 129.1 589.4 130.4 589.5 128.9 589.6 133.2 589.8 131.3 589.9 130.7 590.0 128.1 590.1 133.2 590.2 130.3 590.4 128.6 590.5 128.2 590.6 125.7 590.8 128.6 590.9 126.2 591.0 127.1 591.1 131.7 591.2 128.9 591.4 128.1 591.5 132.2 591.6 128.4 591.8 132.8 591.9 129.0 592.0 130.1 592.1 128.9 592.2 128.6 592.4 129.8 592.5 131.6 592.6 129.6 592.8 128.0 592.9 126.8 593.0 131.3 593.1 128.4 593.2 127.9 593.4 130.2 593.5 130.2 593.6 130.4 593.8 128.6 593.9 126.8 594.0 130.3 594.1 129.4 594.2 129.4" fill="none" stroke="#005000" stroke-width="0.45" stroke-opacity="0.8"/></g>
<path d="M505.8 99.55H791.3V155.05H505.8Z M507.8 101.05V153.35H789.3V101.05Z" fill="#000" fill-rule="evenodd"/>
<path d="M525.6 99.5v-4.3M525.6 155.0v4.3M549.2 99.5v-4.3M549.2 155.0v4.3M572.9 99.5v-4.3M572.9 155.0v4.3M596.5 99.5v-4.3M596.5 155.0v4.3M620.2 99.5v-4.3M620.2 155.0v4.3M643.8 99.5v-4.3M643.8 155.0v4.3M667.4 99.5v-4.3M667.4 155.0v4.3M691.1 99.5v-4.3M691.1 155.0v4.3M714.7 99.5v-4.3M714.7 155.0v4.3M738.4 99.5v-4.3M738.4 155.0v4.3M762.0 99.5v-4.3M762.0 155.0v4.3M785.6 99.5v-4.3M785.6 155.0v4.3" stroke="#222" stroke-width="1"/>
<text x="525.6" y="171.9" text-anchor="middle" style="font-family:'Liberation Sans',Arial,sans-serif;font-size:9.8px" fill="#111">40</text>
<text x="549.2" y="171.9" text-anchor="middle" style="font-family:'Liberation Sans',Arial,sans-serif;font-size:9.8px" fill="#111">45</text>
<text x="572.9" y="171.9" text-anchor="middle" style="font-family:'Liberation Sans',Arial,sans-serif;font-size:9.8px" fill="#111">50</text>
<text x="596.5" y="171.9" text-anchor="middle" style="font-family:'Liberation Sans',Arial,sans-serif;font-size:9.8px" fill="#111">55</text>
<text x="620.2" y="171.9" text-anchor="middle" style="font-family:'Liberation Sans',Arial,sans-serif;font-size:9.8px" fill="#111">00</text>
<text x="643.8" y="171.9" text-anchor="middle" style="font-family:'Liberation Sans',Arial,sans-serif;font-size:9.8px" fill="#111">05</text>
<text x="667.4" y="171.9" text-anchor="middle" style="font-family:'Liberation Sans',Arial,sans-serif;font-size:9.8px" fill="#111">10</text>
<text x="691.1" y="171.9" text-anchor="middle" style="font-family:'Liberation Sans',Arial,sans-serif;font-size:9.8px" fill="#111">15</text>
<text x="714.7" y="171.9" text-anchor="middle" style="font-family:'Liberation Sans',Arial,sans-serif;font-size:9.8px" fill="#111">20</text>
<text x="738.4" y="171.9" text-anchor="middle" style="font-family:'Liberation Sans',Arial,sans-serif;font-size:9.8px" fill="#111">25</text>
<text x="762.0" y="171.9" text-anchor="middle" style="font-family:'Liberation Sans',Arial,sans-serif;font-size:9.8px" fill="#111">30</text>
<text x="785.6" y="171.9" text-anchor="middle" style="font-family:'Liberation Sans',Arial,sans-serif;font-size:9.8px" fill="#111">35</text>
<text x="799.3" y="112.2" style="font-family:'Liberation Sans',Arial,sans-serif;font-size:9.9px;font-weight:bold" fill="#0000ff">Cascajal, Coronado</text>
<text x="799.3" y="135.3" style="font-family:'Liberation Sans',Arial,sans-serif;font-size:9.8px" fill="#222">Acel. Max. 1.1</text>
<text x="799.3" y="152.9" style="font-family:'Liberation Sans',Arial,sans-serif;font-size:9.8px" fill="#222">Int JMA: 1</text>
<defs><clipPath id="pc2"><rect x="507.0" y="180.1" width="283.3" height="52.8"/></clipPath></defs>
<line x1="507.0" y1="207.3" x2="790.3" y2="207.3" stroke="#006400" stroke-width="0.7" stroke-opacity="0.75"/>
<g clip-path="url(#pc2)"><path d="M507.0 207.6 507.5 207.5 508.0 207.2 508.5 207.2 509.0 207.2 509.5 207.5 510.0 207.3 510.5 207.2 511.0 207.3 511.5 207.4 512.0 207.2 512.5 207.3 513.0 207.4 513.5 207.3 514.0 207.3 514.5 207.2 515.0 207.4 515.5 207.2 516.0 207.5 516.5 207.3 517.0 207.3 517.5 207.4 518.0 207.2 518.5 207.5 519.0 207.1 519.5 207.5 520.0 207.1 520.5 207.3 521.0 207.3 521.5 207.1 522.0 207.1 522.5 207.5 523.0 207.2 523.5 207.5 524.0 207.4 524.5 207.3 525.0 207.3 525.5 207.2 526.0 207.4 526.5 207.6 527.0 207.2 527.5 207.3 528.0 207.2 528.5 207.3 529.0 207.5 529.5 207.4 530.0 207.0 530.5 207.2 531.0 207.0 531.5 207.0 532.0 207.3 532.5 207.3 533.0 207.6 533.5 207.5 534.0 207.3 534.5 207.3 535.0 207.5 535.5 207.2 536.0 207.2 536.5 207.3 537.0 207.2 537.5 207.4 538.0 207.3 538.5 207.5 539.0 207.2 539.5 207.3 540.0 207.5 540.5 207.1 541.0 207.2 541.5 207.2 542.0 207.2 542.5 207.3 543.0 207.2 543.5 207.3 544.0 207.4 544.5 207.3 545.0 207.3 545.5 207.3 546.0 207.4 546.5 207.2 547.0 207.2 547.5 207.3 548.0 207.4 548.5 207.0 549.0 207.3 549.5 207.2 550.0 207.6 550.5 207.6 551.0 207.5 551.5 207.6 552.0 207.3 552.5 207.2 553.0 207.2 553.5 207.4 554.0 207.2 554.2 209.0 554.4 204.1 554.5 202.2 554.6 204.9 554.8 217.2 554.9 220.6 555.0 198.8 555.2 206.3 555.5 208.2 555.8 205.3 556.0 206.5 556.2 207.0 556.5 210.6 556.8 205.9 557.0 209.4 557.2 208.2 557.5 208.9 557.8 207.0 558.0 204.2 558.2 207.6 558.5 207.0 558.8 211.7 559.0 204.9 559.2 206.9 559.5 202.9 559.8 206.0 560.0 209.3 560.2 206.0 560.5 210.7 560.8 208.8 561.0 208.9 561.2 206.6 561.5 208.1 561.8 209.5 562.0 210.3 562.2 210.4 562.5 205.7 562.8 206.9 563.0 211.0 563.2 200.7 563.4 207.2 563.5 215.5 563.6 215.3 563.8 204.3 563.9 206.1 564.0 208.7 564.1 204.6 564.2 206.4 564.4 206.1 564.5 201.7 564.6 203.3 564.8 203.6 564.9 209.4 565.0 195.2 565.1 208.5 565.2 196.1 565.4 197.6 565.5 193.1 565.6 229.5 565.8 224.8 565.9 226.9 566.0 219.7 566.1 203.6 566.2 208.5 566.4 212.3 566.5 215.1 566.6 217.7 566.8 234.2 566.9 179.8 567.0 197.4 567.1 218.8 567.2 201.6 567.4 205.0 567.5 228.4 567.6 209.9 567.8 229.1 567.9 206.8 568.0 209.8 568.1 197.3 568.2 190.5 568.4 204.2 568.5 207.8 568.6 204.1 568.8 193.4 568.9 214.7 569.0 208.2 569.1 207.4 569.2 198.6 569.4 224.9 569.5 222.4 569.6 210.3 569.8 206.2 569.9 209.5 570.0 221.3 570.1 229.0 570.2 207.4 570.4 203.8 570.5 191.4 570.6 233.2 570.8 196.5 570.9 216.3 571.0 212.7 571.1 221.5 571.2 198.3 571.4 190.5 571.5 208.8 571.6 211.1 571.8 217.4 571.9 193.4 572.0 203.8 572.1 205.4 572.2 198.3 572.4 206.3 572.5 211.9 572.6 207.1 572.8 200.4 572.9 208.8 573.0 210.9 573.1 209.6 573.2 210.7 573.4 200.0 573.5 209.4 573.6 210.0 573.8 205.6 573.9 207.1 574.0 203.6 574.1 213.3 574.2 205.8 574.4 202.6 574.5 208.3 574.6 207.9 574.8 210.8 574.9 202.9 575.0 203.7 575.1 209.3 575.2 218.1 575.4 209.5 575.5 201.4 575.6 208.0 575.8 204.3 575.9 200.4 576.0 204.9 576.1 205.4 576.2 208.6 576.4 211.2 576.5 210.8 576.6 209.9 576.8 205.8 576.9 207.9 577.0 207.2 577.1 212.9 577.2 204.6 577.4 204.9 577.5 214.2 577.6 210.1 577.8 205.0 577.9 208.2 578.0 208.1 578.1 208.4 578.2 212.0 578.4 209.6 578.5 206.2 578.6 204.0 578.8 197.7 578.9 204.3 579.0 215.4 579.1 208.9 579.2 203.0 579.4 205.8 579.5 202.0 579.6 209.1 579.8 216.4 579.9 216.4 580.0 214.0 580.1 211.5 580.2 206.2 580.4 201.1 580.5 207.4 580.6 205.3 580.8 211.1 580.9 208.0 581.0 205.0 581.1 209.1 581.2 215.8 581.4 204.1 581.5 211.1 581.6 209.2 581.8 207.1 581.9 205.2 582.0 207.4 582.1 207.9 582.2 209.0 582.4 209.0 582.5 208.1 582.6 205.6 582.8 208.2 582.9 206.0 583.0 204.2 583.1 210.0 583.2 205.4 583.4 203.9 583.5 207.6 583.6 202.0 583.8 207.2 583.9 208.5 584.0 206.2 584.1 207.9 584.2 212.8 584.5 209.6 584.8 206.1 585.0 206.7 585.2 207.6 585.5 211.1 585.8 208.2 586.0 207.2 586.2 207.4 586.5 208.8 586.8 208.7 587.0 202.8 587.2 209.8 587.5 207.1 587.8 210.1 588.0 209.0 588.2 208.1 588.5 205.9 588.8 207.4 589.0 208.1 589.2 205.3 589.5 206.2 589.8 205.8 590.0 209.2 590.2 209.0 590.5 207.5 590.8 208.2 591.0 207.6 591.2 208.5 591.5 205.5 591.8 205.9 592.0 210.1 592.2 207.8 592.5 204.7 592.8 204.3 593.0 207.9 593.2 208.4 593.5 207.3 593.8 209.4 594.0 205.0 594.2 209.2 594.5 207.5 594.8 205.4 595.0 206.6 595.2 205.1 595.5 207.0 595.8 207.9 596.0 208.1 596.2 207.3 596.5 207.0 596.8 207.1 597.0 207.0 597.2 205.2 597.5 206.5 597.8 207.2 598.0 208.3 598.2 208.8 598.5 207.6 598.8 206.3 599.0 207.2 599.2 208.2 599.5 209.1 599.8 206.5 600.0 208.4 600.2 208.0 600.5 207.3 600.8 208.2 601.0 207.7 601.2 207.5 601.5 206.5 601.8 207.8 602.0 207.7 602.2 206.3 602.5 205.6 602.8 208.4 603.0 207.7 603.2 208.8 603.5 207.1 603.8 208.0 604.0 205.7 604.2 205.2 604.5 207.8 604.8 209.4 605.0 209.4 605.2 208.2 605.5 207.4 605.8 207.3 606.0 206.8 606.2 207.9 606.5 206.8 606.8 206.9 607.0 207.3 607.2 207.3 607.5 208.3 607.8 207.3 608.0 207.6 608.2 207.7 608.5 206.6 608.8 207.4 609.0 208.0 609.2 207.7 609.5 207.6 609.8 206.9 610.0 208.0 610.2 207.7 610.5 207.7 610.8 207.9 611.2 206.2 611.8 207.3 612.2 207.3 612.8 207.2 613.2 207.7 613.8 207.1 614.2 206.9 614.8 206.9 615.2 207.2 615.8 207.2 616.2 207.1 616.8 207.2 617.2 207.4 617.8 207.6 618.2 207.2 618.8 207.5 619.2 206.9 619.8 207.3 620.2 207.3 620.8 207.3 621.2 206.7 621.8 207.1 622.2 207.5 622.8 207.0 623.2 206.8 623.8 207.8 624.2 207.0 624.8 207.9 625.2 206.8 625.8 207.4 626.2 207.3 626.8 207.3 627.2 207.1 627.8 206.6 628.2 207.5 628.8 207.5 629.2 207.3 629.8 207.0 630.2 207.6 630.8 207.6 631.2 207.3 631.8 207.5 632.2 207.4 632.8 207.4 633.2 207.4 633.8 207.4 634.2 207.2 634.8 207.3 635.2 207.1 635.8 207.5 636.2 207.3 636.8 207.3 637.2 207.6 637.8 207.0 638.2 207.2 638.8 206.8 639.2 207.6 639.8 207.8 640.2 207.4 640.8 207.2 641.2 207.3 641.8 207.0 642.2 207.4 642.8 207.1 643.2 207.4 643.8 207.4 644.2 207.5 644.8 207.2 645.2 207.5 645.8 207.4 646.2 207.1 646.8 207.3 647.2 207.4 647.8 207.2 648.2 207.4 648.8 207.2 649.2 207.0 649.8 207.6 650.2 207.2 650.8 207.3 651.2 207.2 651.8 207.2 652.2 207.4 652.8 207.5 653.2 207.4 653.8 207.6 654.2 207.5 654.8 207.2 655.2 207.2 655.8 207.2 656.2 207.4 656.8 207.2 657.2 207.4 657.8 207.5 658.2 207.2 658.8 207.4 659.2 207.4 659.8 207.2 660.2 207.3 660.8 207.3 661.2 207.2 661.8 207.3 662.2 207.2 662.8 207.4 663.2 207.4 663.8 207.4 664.2 207.2 664.8 207.4 665.2 207.6 665.8 207.6 666.2 207.2 666.8 207.6 667.2 207.3 667.8 207.6 668.2 207.1 668.8 207.3 669.2 207.4 669.8 206.9 670.2 207.4 670.8 207.2 671.2 207.1 671.8 207.5 672.2 207.1 672.8 207.2 673.2 207.7 673.8 207.5 674.2 207.5 674.8 207.2 675.2 207.4 675.8 207.3 676.2 207.5 676.8 207.4 677.2 207.2 677.8 207.2 678.2 207.4 678.8 207.5 679.2 207.6 679.8 207.1 680.2 207.4 680.8 207.6 681.2 207.2 681.8 207.4 682.2 207.2 682.8 207.5 683.2 207.4 683.8 207.3 684.2 207.3 684.8 207.1 685.2 207.2 685.8 207.6 686.2 207.2 686.8 207.1 687.2 207.3 687.8 207.2 688.2 207.3 688.8 207.2 689.2 207.1 689.8 207.2 690.2 207.2 690.8 207.1 691.2 207.5 691.8 207.2 692.2 207.2 692.8 207.1 693.2 207.6 693.8 207.5 694.2 207.5 694.8 207.3 695.2 207.1 695.8 207.3 696.2 207.4 696.8 207.2 697.2 207.3 697.8 207.6 698.2 207.4 698.8 207.4 699.2 207.6 699.8 207.2 700.2 207.2 700.8 207.4 701.2 207.4 701.8 207.2 702.2 207.5 702.8 207.3 703.2 207.3 703.8 207.5 704.2 207.3 704.8 207.0 705.2 207.3 705.8 207.2 706.2 207.3 706.8 207.3 707.2 207.4 707.8 207.3 708.2 207.2 708.8 207.3 709.2 207.4 709.8 207.1 710.2 207.3 710.8 207.6 711.2 207.4 711.8 207.4 712.2 207.3 712.8 207.3 713.2 207.2 713.8 207.4 714.2 207.1 714.8 207.5 715.2 207.6 715.8 207.1 716.2 207.5 716.8 207.2 717.2 207.1 717.8 207.3 718.2 207.4 718.8 207.3 719.2 207.4 719.8 207.3 720.2 207.3 720.8 207.3 721.2 207.0 721.8 207.2 722.2 207.1 722.8 207.5 723.2 207.3 723.8 207.3 724.2 207.3 724.8 207.3 725.2 207.3 725.8 207.4 726.2 207.3 726.8 207.3 727.2 207.4 727.8 207.1 728.2 207.3 728.8 207.3 729.2 207.2 729.8 207.3 730.2 207.4 730.8 207.2 731.2 207.3 731.8 207.3 732.2 207.6 732.8 207.3 733.2 207.2 733.8 207.5 734.2 207.4 734.8 207.5 735.2 207.4 735.8 207.5 736.2 207.3 736.8 207.5 737.2 207.0 737.8 207.2 738.2 207.3 738.8 207.4 739.2 207.2 739.8 207.3 740.2 207.5 740.8 207.6 741.2 207.2 741.8 207.6 742.2 207.4 742.8 207.2 743.2 207.5 743.8 207.2 744.2 207.2 744.8 207.2 745.2 207.2 745.8 207.2 746.2 207.3 746.8 207.2 747.2 207.1 747.8 207.5 748.2 207.4 748.8 207.3 749.2 207.3 749.8 207.2 750.2 207.4 750.8 207.4 751.2 207.4 751.8 207.2 752.2 207.3 752.8 207.0 753.2 207.4 753.8 207.3 754.2 207.4 754.8 207.4 755.2 207.4 755.8 207.2 756.2 207.1 756.8 207.3 757.2 207.3 757.8 207.3 758.2 207.4 758.8 207.4 759.2 207.5 759.8 207.4 760.2 207.5 760.8 207.6 761.2 207.2 761.8 207.3 762.2 207.6 762.8 207.3 763.2 207.2 763.8 207.4 764.2 207.4 764.8 207.4 765.2 207.4 765.8 207.3 766.2 207.3 766.8 207.2 767.2 207.3 767.8 207.2 768.2 207.2 768.8 207.4 769.2 207.3 769.8 207.3 770.2 207.4 770.8 207.4 771.2 207.3 771.8 207.4 772.2 207.2 772.8 207.5 773.2 207.4 773.8 207.4 774.2 207.5 774.8 207.4 775.2 207.2 775.8 207.3 776.2 207.4 776.8 207.5 777.2 207.2 777.8 207.3 778.2 207.2 778.8 207.4 779.2 207.2 779.8 207.3 780.2 207.1 780.8 207.1 781.2 207.0 781.8 207.3 782.2 207.3 782.8 207.3 783.2 207.1 783.8 207.4 784.2 207.2 784.8 207.1 785.2 207.2 785.8 207.4 786.2 207.4 786.8 207.3 787.2 207.2 787.8 207.0 788.2 207.1 788.8 207.3 789.2 207.5 789.8 207.2 790.2 207.2" fill="none" stroke="#006400" stroke-width="0.5" stroke-opacity="0.95"/></g>
<g clip-path="url(#pc2)"><path d="M554.4 201.2 554.5 209.4 554.6 206.8 554.8 201.9 554.9 207.0 555.0 203.8 555.1 206.8 M563.1 207.3 563.2 206.2 563.4 206.3 563.5 207.8 563.6 210.4 563.8 204.9 563.9 207.4 564.0 212.0 564.1 203.6 564.2 209.2 564.4 205.9 564.5 210.2 564.6 213.6 564.8 207.2 564.9 211.8 565.0 209.0 565.1 216.6 565.2 196.6 565.4 202.9 565.5 207.0 565.6 208.2 565.8 217.4 565.9 214.5 566.0 205.3 566.1 198.4 566.2 215.5 566.4 209.6 566.5 205.9 566.6 213.7 566.8 220.2 566.9 210.2 567.0 217.7 567.1 195.3 567.2 213.8 567.4 222.3 567.5 216.4 567.6 203.7 567.8 200.0 567.9 210.5 568.0 201.9 568.1 204.2 568.2 195.6 568.4 200.8 568.5 211.7 568.6 202.4 568.8 201.9 568.9 198.4 569.0 206.6 569.1 210.0 569.2 208.3 569.4 192.3 569.5 207.5 569.6 200.9 569.8 206.7 569.9 199.7 570.0 215.3 570.1 220.7 570.2 213.8 570.4 219.6 570.5 209.1 570.6 205.6 570.8 193.2 570.9 203.0 571.0 204.4 571.1 218.4 571.2 200.8 571.4 208.0 571.5 211.8 571.6 207.9 571.8 207.4 571.9 213.6 572.0 202.7 572.1 207.6 572.2 208.6 572.4 214.9 572.5 213.4 572.6 209.7 572.8 210.6 572.9 200.2 573.0 208.4 573.1 205.6 573.2 202.4 573.4 209.5 573.5 206.0 573.6 205.1 573.8 201.8 573.9 207.8 574.0 211.2 574.1 207.8 574.2 209.6 574.4 210.3 574.5 207.2 574.6 206.2 574.8 205.5 574.9 206.4 575.0 205.7 575.1 207.5 575.2 205.9 575.4 210.4 575.5 204.8 575.6 211.8 575.8 206.0 575.9 206.0 576.0 209.1 576.1 205.3 576.2 202.1 576.4 209.5 576.5 211.1 576.6 202.1 576.8 208.7 576.9 205.8 577.0 206.7 577.1 211.4 577.2 203.7 577.4 205.9 577.5 210.5 577.6 207.9 577.8 208.4 577.9 205.6 578.0 205.2 578.1 205.3 578.2 207.8 578.4 206.2 578.5 208.3 578.6 212.6 578.8 202.9 578.9 207.9 579.0 207.0 579.1 204.7 579.2 207.7 579.4 205.1 579.5 204.0 579.6 207.2 579.8 210.9 579.9 206.7 580.0 208.2 580.1 205.7 580.2 205.5 580.4 203.9 580.5 207.2 580.6 208.2 580.8 203.4 580.9 203.0 581.0 208.3 581.1 205.7 581.2 203.7 581.4 208.5 581.5 206.7 581.6 206.3 581.8 207.1 581.9 205.8 582.0 211.7 582.1 202.9 582.2 206.1 582.4 208.3 582.5 207.9 582.6 204.8 582.8 206.5 582.9 207.0 583.0 209.8 583.1 210.3 583.2 210.3 583.4 207.6 583.5 209.8 583.6 208.3 583.8 206.9 583.9 206.7 584.0 208.5 584.1 207.9 584.2 206.4 584.4 205.8 584.5 205.7 584.6 209.6 584.8 206.9 584.9 207.5 585.0 209.6 585.1 209.7 585.2 208.6 585.4 208.0 585.5 206.7 585.6 207.4" fill="none" stroke="#005000" stroke-width="0.45" stroke-opacity="0.8"/></g>
<path d="M505.8 178.75H791.3V234.35H505.8Z M507.8 180.25V232.65H789.3V180.25Z" fill="#000" fill-rule="evenodd"/>
<path d="M527.3 178.8v-4.3M527.3 234.3v4.3M550.9 178.8v-4.3M550.9 234.3v4.3M574.6 178.8v-4.3M574.6 234.3v4.3M598.2 178.8v-4.3M598.2 234.3v4.3M621.9 178.8v-4.3M621.9 234.3v4.3M645.5 178.8v-4.3M645.5 234.3v4.3M669.1 178.8v-4.3M669.1 234.3v4.3M692.8 178.8v-4.3M692.8 234.3v4.3M716.4 178.8v-4.3M716.4 234.3v4.3M740.1 178.8v-4.3M740.1 234.3v4.3M763.7 178.8v-4.3M763.7 234.3v4.3M787.3 178.8v-4.3M787.3 234.3v4.3" stroke="#222" stroke-width="1"/>
<text x="527.3" y="251.2" text-anchor="middle" style="font-family:'Liberation Sans',Arial,sans-serif;font-size:9.8px" fill="#111">40</text>
<text x="550.9" y="251.2" text-anchor="middle" style="font-family:'Liberation Sans',Arial,sans-serif;font-size:9.8px" fill="#111">45</text>
<text x="574.6" y="251.2" text-anchor="middle" style="font-family:'Liberation Sans',Arial,sans-serif;font-size:9.8px" fill="#111">50</text>
<text x="598.2" y="251.2" text-anchor="middle" style="font-family:'Liberation Sans',Arial,sans-serif;font-size:9.8px" fill="#111">55</text>
<text x="621.9" y="251.2" text-anchor="middle" style="font-family:'Liberation Sans',Arial,sans-serif;font-size:9.8px" fill="#111">00</text>
<text x="645.5" y="251.2" text-anchor="middle" style="font-family:'Liberation Sans',Arial,sans-serif;font-size:9.8px" fill="#111">05</text>
<text x="669.1" y="251.2" text-anchor="middle" style="font-family:'Liberation Sans',Arial,sans-serif;font-size:9.8px" fill="#111">10</text>
<text x="692.8" y="251.2" text-anchor="middle" style="font-family:'Liberation Sans',Arial,sans-serif;font-size:9.8px" fill="#111">15</text>
<text x="716.4" y="251.2" text-anchor="middle" style="font-family:'Liberation Sans',Arial,sans-serif;font-size:9.8px" fill="#111">20</text>
<text x="740.1" y="251.2" text-anchor="middle" style="font-family:'Liberation Sans',Arial,sans-serif;font-size:9.8px" fill="#111">25</text>
<text x="763.7" y="251.2" text-anchor="middle" style="font-family:'Liberation Sans',Arial,sans-serif;font-size:9.8px" fill="#111">30</text>
<text x="787.3" y="251.2" text-anchor="middle" style="font-family:'Liberation Sans',Arial,sans-serif;font-size:9.8px" fill="#111">35</text>
<text x="799.3" y="190.8" style="font-family:'Liberation Sans',Arial,sans-serif;font-size:9.9px;font-weight:bold" fill="#0000ff">Finca El Corralillo, Coronado</text>
<text x="799.3" y="213.9" style="font-family:'Liberation Sans',Arial,sans-serif;font-size:9.8px" fill="#222">Acel. Max. 1.0</text>
<text x="799.3" y="231.5" style="font-family:'Liberation Sans',Arial,sans-serif;font-size:9.8px" fill="#222">Int JMA: 1</text>
<defs><clipPath id="pc3"><rect x="507.0" y="259.6" width="283.3" height="52.2"/></clipPath></defs>
<line x1="507.0" y1="289.4" x2="790.3" y2="289.4" stroke="#006400" stroke-width="0.7" stroke-opacity="0.75"/>
<g clip-path="url(#pc3)"><path d="M507.0 290.0 507.2 288.0 507.5 289.1 507.8 289.4 508.0 290.4 508.2 292.0 508.5 289.8 508.8 289.3 509.0 288.9 509.2 287.1 509.5 291.4 509.8 289.1 510.0 290.0 510.2 290.2 510.5 290.3 510.8 290.6 511.0 287.8 511.2 287.9 511.5 289.4 511.8 288.2 512.0 289.1 512.2 290.2 512.5 289.8 512.8 289.9 513.0 290.4 513.2 287.9 513.5 289.8 513.8 288.8 514.0 289.7 514.2 288.4 514.5 288.0 514.8 290.6 515.0 289.0 515.2 288.8 515.5 288.9 515.8 290.7 516.0 289.3 516.2 288.2 516.5 290.4 516.8 290.5 517.0 291.2 517.2 288.9 517.5 289.0 517.8 288.0 518.0 290.7 518.2 289.2 518.5 288.8 518.8 290.0 519.0 289.3 519.2 289.2 519.5 290.0 519.8 289.6 520.0 291.4 520.2 291.6 520.5 289.0 520.8 290.7 521.0 287.7 521.2 288.6 521.5 290.5 521.8 290.3 522.0 290.0 522.2 289.5 522.5 288.9 522.8 289.5 523.0 288.9 523.2 289.8 523.5 288.7 523.8 289.2 524.0 288.6 524.2 286.8 524.5 289.5 524.8 289.8 525.0 288.3 525.2 287.7 525.5 290.4 525.8 287.8 526.0 289.1 526.2 289.6 526.5 290.8 526.8 288.9 527.0 287.2 527.2 291.5 527.5 289.9 527.8 289.7 528.0 290.4 528.2 291.1 528.5 292.3 528.8 289.3 529.0 289.2 529.2 288.4 529.5 287.9 529.8 290.5 530.0 289.4 530.2 288.9 530.5 287.1 530.8 288.9 531.0 288.9 531.2 292.3 531.5 288.6 531.8 292.2 532.0 288.8 532.2 289.5 532.5 286.3 532.8 290.2 533.0 290.3 533.2 289.3 533.5 292.6 533.8 288.0 534.0 290.7 534.2 288.4 534.5 290.1 534.8 288.4 535.0 290.1 535.2 287.6 535.5 289.4 535.8 291.5 536.0 289.4 536.2 290.0 536.5 290.2 536.8 289.2 537.0 287.8 537.2 290.7 537.5 287.9 537.8 287.8 538.0 290.6 538.2 288.0 538.5 289.1 538.8 290.1 539.0 290.4 539.2 290.6 539.5 287.9 539.8 287.5 540.0 289.7 540.2 287.8 540.5 289.7 540.8 289.0 541.0 288.8 541.2 289.9 541.5 290.5 541.8 292.1 542.0 289.1 542.2 288.6 542.5 288.2 542.8 289.9 543.0 289.8 543.2 290.6 543.5 293.6 543.8 292.9 544.0 286.0 544.2 293.1 544.5 290.2 544.8 285.5 545.0 290.1 545.2 290.1 545.5 293.9 545.8 287.9 546.0 288.9 546.2 289.6 546.5 291.0 546.8 291.5 547.0 286.8 547.2 287.8 547.5 288.3 547.8 289.5 548.0 288.6 548.2 288.0 548.5 290.0 548.8 288.6 549.0 288.2 549.2 289.1 549.5 286.8 549.8 291.4 550.0 292.3 550.1 294.1 550.2 295.0 550.4 286.8 550.5 277.3 550.6 277.7 550.8 287.1 550.9 303.0 551.0 303.1 551.1 287.1 551.2 286.0 551.4 302.5 551.5 303.4 551.6 279.6 551.8 294.8 551.9 291.3 552.0 286.1 552.1 286.1 552.2 285.9 552.4 289.6 552.5 274.6 552.6 289.7 552.8 298.5 552.9 298.1 553.0 298.4 553.1 293.4 553.2 291.9 553.4 304.8 553.5 287.8 553.6 291.5 553.8 303.5 553.9 290.2 554.0 275.5 554.1 283.7 554.2 285.0 554.4 288.0 554.5 284.8 554.6 300.7 554.8 297.6 554.9 295.1 555.0 285.3 555.1 300.7 555.2 299.9 555.4 306.3 555.5 284.1 555.6 288.8 555.8 301.5 555.9 281.0 556.0 291.7 556.1 291.3 556.2 290.1 556.4 283.8 556.5 289.9 556.6 281.7 556.8 295.5 556.9 287.0 557.0 290.6 557.1 289.5 557.2 290.7 557.4 290.4 557.5 292.8 557.6 286.7 557.8 290.0 557.9 278.7 558.0 278.4 558.1 279.7 558.2 276.9 558.4 271.1 558.5 280.6 558.6 299.1 558.8 295.9 558.9 283.5 559.0 294.5 559.1 295.3 559.2 309.1 559.4 269.6 559.5 292.9 559.6 274.9 559.8 302.1 559.9 287.8 560.0 292.7 560.1 290.7 560.2 294.5 560.4 268.9 560.5 278.1 560.6 290.8 560.8 272.3 560.9 298.1 561.0 309.8 561.1 269.1 561.2 283.1 561.4 300.2 561.5 310.6 561.6 306.5 561.8 301.9 561.9 275.8 562.0 290.5 562.1 292.1 562.2 280.2 562.4 296.8 562.5 285.0 562.6 282.9 562.8 311.4 562.9 287.3 563.0 311.6 563.1 283.8 563.2 288.7 563.4 269.6 563.5 280.5 563.6 312.0 563.8 290.1 563.9 266.6 564.0 312.3 564.1 274.7 564.2 282.5 564.4 288.9 564.5 266.2 564.6 312.7 564.8 311.7 564.9 283.8 565.0 295.7 565.1 284.9 565.2 280.8 565.4 286.4 565.5 272.9 565.6 285.4 565.8 284.7 565.9 302.4 566.0 277.9 566.1 301.4 566.2 297.3 566.4 291.3 566.5 280.8 566.6 313.6 566.8 313.6 566.9 288.6 567.0 285.7 567.1 292.9 567.2 313.6 567.4 273.7 567.5 290.7 567.6 306.6 567.8 269.9 567.9 288.3 568.0 302.6 568.1 284.7 568.2 288.3 568.4 276.1 568.5 292.2 568.6 281.4 568.8 286.3 568.9 292.4 569.0 283.8 569.1 297.9 569.2 296.3 569.4 294.0 569.5 298.5 569.6 287.9 569.8 270.3 569.9 296.8 570.0 295.9 570.1 285.5 570.2 282.6 570.4 298.5 570.5 285.8 570.6 286.5 570.8 286.1 570.9 305.9 571.0 284.4 571.1 270.0 571.2 288.3 571.4 280.1 571.5 272.7 571.6 289.9 571.8 282.9 571.9 298.0 572.0 284.4 572.1 302.5 572.2 300.6 572.4 288.3 572.5 298.6 572.6 313.6 572.8 298.1 572.9 265.2 573.0 288.8 573.1 290.8 573.2 306.2 573.4 286.0 573.5 302.9 573.6 286.3 573.8 288.3 573.9 285.5 574.0 288.3 574.1 286.8 574.2 291.4 574.4 282.1 574.5 280.6 574.6 287.9 574.8 289.5 574.9 285.2 575.0 291.6 575.1 291.0 575.2 301.9 575.4 276.7 575.5 303.6 575.6 270.6 575.8 275.2 575.9 290.1 576.0 281.5 576.1 286.1 576.2 285.2 576.4 279.4 576.5 278.7 576.6 285.3 576.8 290.4 576.9 292.2 577.0 289.1 577.1 285.8 577.2 295.9 577.4 271.6 577.5 287.9 577.6 298.7 577.8 302.6 577.9 299.4 578.0 301.7 578.1 298.9 578.2 288.5 578.4 266.9 578.5 279.9 578.6 282.7 578.8 309.9 578.9 279.8 579.0 280.7 579.1 296.5 579.2 273.4 579.4 287.5 579.5 293.8 579.6 284.0 579.8 287.1 579.9 272.3 580.0 278.4 580.1 286.5 580.2 295.0 580.4 284.4 580.5 281.1 580.6 281.1 580.8 293.8 580.9 272.9 581.0 289.2 581.1 283.2 581.2 288.0 581.4 278.4 581.5 288.2 581.6 303.7 581.8 283.6 581.9 280.9 582.0 269.6 582.1 293.2 582.2 278.6 582.4 292.1 582.5 288.5 582.6 276.2 582.8 278.1 582.9 270.6 583.0 308.1 583.1 299.6 583.2 297.9 583.4 302.0 583.5 303.6 583.6 297.1 583.8 298.5 583.9 307.1 584.0 272.4 584.1 290.0 584.2 283.4 584.4 288.9 584.5 272.3 584.6 281.8 584.8 293.5 584.9 282.2 585.0 291.5 585.1 284.9 585.2 287.9 585.4 279.3 585.5 284.5 585.6 277.3 585.8 293.2 585.9 273.9 586.0 291.7 586.1 283.2 586.2 286.9 586.4 304.4 586.5 285.8 586.6 281.5 586.8 289.0 586.9 296.7 587.0 282.9 587.1 303.6 587.2 290.9 587.4 285.3 587.5 282.2 587.6 287.6 587.8 295.1 587.9 300.1 588.0 290.1 588.1 283.9 588.2 289.0 588.4 276.4 588.5 298.3 588.6 295.7 588.8 288.1 588.9 294.1 589.0 283.5 589.1 300.9 589.2 289.0 589.4 287.2 589.5 301.4 589.6 284.3 589.8 293.6 589.9 285.4 590.0 287.4 590.1 289.2 590.2 287.2 590.4 300.6 590.5 298.9 590.6 287.4 590.8 300.2 590.9 291.1 591.0 290.1 591.1 294.0 591.2 284.6 591.4 299.1 591.5 285.8 591.6 284.2 591.8 295.8 591.9 286.4 592.0 289.3 592.1 285.7 592.2 288.6 592.4 290.4 592.5 283.2 592.6 289.7 592.8 287.7 592.9 293.9 593.0 296.2 593.1 291.4 593.2 291.5 593.4 292.7 593.5 292.6 593.6 286.1 593.8 286.5 593.9 288.5 594.0 286.3 594.1 288.8 594.2 289.9 594.4 287.4 594.5 290.9 594.6 293.7 594.8 289.7 594.9 290.9 595.0 289.5 595.1 289.3 595.2 288.1 595.4 286.5 595.5 290.9 595.6 292.0 595.8 289.4 595.9 289.7 596.0 286.2 596.1 288.9 596.2 290.3 596.4 289.2 596.5 289.6 596.6 286.4 596.8 285.4 596.9 288.6 597.0 294.5 597.1 288.1 597.2 284.4 597.4 287.2 597.5 288.7 597.6 293.3 597.8 292.8 597.9 286.8 598.0 286.2 598.1 288.6 598.2 289.3 598.4 286.4 598.5 292.2 598.6 288.1 598.8 290.1 598.9 288.8 599.0 290.8 599.1 289.0 599.2 290.0 599.4 292.7 599.5 290.0 599.6 293.2 599.8 285.9 599.9 288.8 600.1 285.6 600.4 294.2 600.6 291.8 600.9 289.9 601.1 289.8 601.4 287.9 601.6 286.9 601.9 287.2 602.1 288.6 602.4 287.8 602.6 295.0 602.9 289.2 603.1 295.7 603.4 288.9 603.6 288.8 603.9 288.5 604.1 292.1 604.4 285.3 604.6 290.3 604.9 288.0 605.1 288.0 605.4 287.6 605.6 289.1 605.9 291.9 606.1 288.4 606.4 288.7 606.6 286.2 606.9 285.6 607.1 283.5 607.4 290.0 607.6 286.9 607.9 288.5 608.1 288.5 608.4 286.5 608.6 290.7 608.9 291.4 609.1 288.1 609.4 284.6 609.6 289.4 609.9 289.7 610.1 284.7 610.4 287.6 610.6 289.2 610.9 290.4 611.1 290.9 611.4 286.2 611.6 288.7 611.9 290.6 612.1 289.8 612.4 291.9 612.6 288.8 612.9 284.9 613.1 291.2 613.4 285.7 613.6 289.2 613.9 293.6 614.1 287.4 614.4 292.1 614.6 294.5 614.9 289.6 615.1 288.3 615.4 287.3 615.6 286.3 615.9 287.1 616.1 288.6 616.4 294.3 616.6 288.6 616.9 292.3 617.1 292.1 617.4 290.3 617.6 292.6 617.9 290.1 618.1 294.2 618.4 292.1 618.6 292.0 618.9 288.4 619.1 291.4 619.4 289.3 619.6 291.3 619.9 289.1 620.1 289.2 620.4 289.6 620.6 288.5 620.9 288.7 621.1 289.9 621.4 289.4 621.6 288.9 621.9 290.5 622.1 290.1 622.4 289.8 622.6 289.9 622.9 289.2 623.1 288.6 623.4 291.3 623.6 289.5 623.9 291.2 624.1 287.8 624.4 292.9 624.6 285.4 624.9 291.1 625.1 291.4 625.4 291.0 625.6 288.5 625.9 289.2 626.1 291.3 626.4 288.9 626.6 288.3 626.9 289.7 627.1 288.6 627.4 287.9 627.6 288.1 627.9 288.0 628.1 289.2 628.4 289.3 628.6 290.3 628.9 289.8 629.1 288.3 629.4 287.5 629.6 289.3 629.9 286.5 630.1 291.6 630.4 288.8 630.6 289.4 630.9 291.9 631.1 289.6 631.4 289.8 631.6 287.6 631.9 286.5 632.1 285.8 632.4 292.7 632.6 291.1 632.9 291.8 633.1 285.8 633.4 288.6 633.6 287.5 633.9 288.8 634.1 288.2 634.4 289.9 634.6 289.1 634.9 287.3 635.1 288.4 635.4 288.7 635.6 290.5 635.9 290.2 636.1 289.0 636.4 289.7 636.6 287.7 636.9 288.5 637.1 288.9 637.4 289.5 637.6 292.7 637.9 288.4 638.1 292.7 638.4 290.0 638.6 290.0 638.9 288.0 639.1 288.7 639.4 288.4 639.6 289.3 639.9 289.3 640.1 292.1 640.4 288.7 640.6 290.0 640.9 289.0 641.1 288.4 641.4 290.4 641.6 289.4 641.9 289.4 642.1 289.5 642.4 290.4 642.6 290.2 642.9 287.2 643.1 287.9 643.4 290.5 643.6 291.3 643.9 288.5 644.1 289.9 644.4 287.7 644.6 289.4 644.9 289.9 645.1 288.2 645.4 287.6 645.6 289.2 645.9 289.6 646.1 289.6 646.4 290.4 646.6 288.6 646.9 288.0 647.1 288.9 647.4 289.7 647.6 289.4 647.9 290.1 648.1 288.5 648.4 286.8 648.6 288.0 648.9 291.1 649.1 291.3 649.4 289.7 649.6 289.1 649.9 292.3 650.1 290.7 650.4 291.4 650.6 289.2 650.9 288.2 651.1 289.6 651.4 289.2 651.6 289.2 651.9 289.7 652.1 289.9 652.4 290.1 652.6 288.4 652.9 291.2 653.1 289.0 653.4 289.7 653.6 289.9 653.9 289.4 654.1 288.0 654.4 287.5 654.6 288.4 654.9 290.7 655.1 288.0 655.4 291.1 655.6 290.2 655.9 289.8 656.1 289.3 656.4 288.6 656.6 288.9 656.9 291.2 657.1 288.9 657.4 287.4 657.6 292.2 657.9 289.2 658.1 289.3 658.4 287.9 658.6 289.2 658.9 287.7 659.1 291.5 659.4 292.2 659.6 287.9 659.9 286.8 660.1 286.9 660.4 287.6 660.6 288.9 660.9 288.1 661.1 289.5 661.4 291.1 661.6 287.5 661.9 289.5 662.1 288.2 662.4 290.7 662.6 287.8 662.9 287.5 663.1 291.1 663.4 286.6 663.6 289.5 663.9 289.0 664.1 287.4 664.4 289.2 664.6 290.6 664.9 291.4 665.1 289.5 665.4 289.2 665.6 288.3 665.9 289.1 666.1 288.0 666.4 288.1 666.6 289.5 666.9 288.3 667.1 291.4 667.4 290.1 667.6 291.6 667.9 289.8 668.1 289.8 668.4 289.1 668.6 290.5 668.9 290.5 669.1 290.9 669.4 288.2 669.6 291.0 669.9 287.5 670.1 289.8 670.4 290.5 670.6 288.9 670.9 290.1 671.1 290.9 671.4 291.6 671.6 288.4 671.9 288.5 672.1 288.4 672.4 290.9 672.6 288.7 672.9 288.8 673.1 288.7 673.4 289.9 673.6 288.4 673.9 288.6 674.1 289.2 674.4 289.2 674.6 288.8 674.9 289.3 675.1 287.7 675.4 288.5 675.6 289.4 675.9 287.8 676.1 290.0 676.4 290.7 676.6 292.2 676.9 288.5 677.1 287.3 677.4 288.2 677.6 288.4 677.9 289.8 678.1 288.2 678.4 289.1 678.6 287.9 678.9 287.7 679.1 288.2 679.4 289.4 679.6 290.1 679.9 289.5 680.1 287.9 680.4 288.0 680.6 286.9 680.9 289.6 681.1 290.2 681.4 288.4 681.6 290.5 681.9 288.8 682.1 290.3 682.4 287.5 682.6 292.2 682.9 290.0 683.1 290.1 683.4 288.8 683.6 289.6 683.9 289.2 684.1 291.3 684.4 289.6 684.6 288.8 684.9 290.0 685.1 288.9 685.4 291.0 685.6 289.5 685.9 288.6 686.1 290.8 686.4 289.1 686.6 289.7 686.9 290.0 687.1 289.8 687.4 288.7 687.6 289.0 687.9 289.8 688.1 289.3 688.4 290.4 688.6 287.8 688.9 288.6 689.1 289.4 689.4 290.1 689.6 290.1 689.9 290.0 690.1 289.5 690.4 288.1 690.6 287.4 690.9 290.5 691.1 290.2 691.4 289.2 691.6 287.9 691.9 291.3 692.1 286.8 692.4 288.2 692.6 290.3 692.9 290.2 693.1 288.4 693.4 289.9 693.6 287.2 693.9 286.7 694.1 288.4 694.4 290.9 694.6 290.9 694.9 290.3 695.1 289.0 695.4 288.8 695.6 289.4 695.9 290.1 696.1 290.0 696.4 289.8 696.6 288.2 696.9 290.6 697.1 289.2 697.4 289.2 697.6 290.0 697.9 288.0 698.1 290.0 698.4 288.9 698.6 290.4 698.9 291.0 699.1 289.9 699.4 289.1 699.6 289.4 699.9 289.2 700.1 289.2 700.4 288.7 700.6 289.8 700.9 286.7 701.1 288.4 701.4 288.7 701.6 289.6 701.9 287.9 702.1 290.0 702.4 289.1 702.6 289.3 702.9 290.6 703.1 289.2 703.4 289.6 703.6 289.7 703.9 287.5 704.1 286.8 704.4 287.5 704.6 291.2 704.9 288.1 705.1 287.9 705.4 288.7 705.6 288.5 705.9 288.6 706.1 289.0 706.4 291.0 706.6 290.4 706.9 290.8 707.1 290.8 707.4 289.8 707.6 288.8 707.9 290.8 708.1 289.0 708.4 290.5 708.6 288.3 708.9 289.5 709.1 289.3 709.4 287.3 709.6 290.5 709.9 288.1 710.1 287.7 710.4 291.1 710.6 292.1 710.9 289.6 711.1 287.7 711.4 292.1 711.6 287.8 711.9 289.6 712.1 292.1 712.4 288.1 712.6 290.4 712.9 291.0 713.1 288.7 713.4 289.1 713.6 290.3 713.9 288.9 714.1 289.2 714.4 289.1 714.6 290.1 714.9 291.2 715.1 288.0 715.4 288.0 715.6 289.0 715.9 289.6 716.1 288.1 716.4 290.3 716.6 291.2 716.9 292.1 717.1 292.1 717.4 289.8 717.6 289.8 717.9 288.3 718.1 289.3 718.4 288.2 718.6 289.6 718.9 288.4 719.1 287.9 719.4 288.4 719.6 288.6 719.9 287.5 720.1 287.5 720.4 289.2 720.6 290.0 720.9 288.9 721.1 290.3 721.4 289.9 721.6 288.9 721.9 290.5 722.1 289.0 722.4 290.2 722.6 292.1 722.9 286.7 723.1 290.2 723.4 288.1 723.6 290.3 723.9 287.9 724.1 289.6 724.4 292.1 724.6 291.5 724.9 287.8 725.1 287.6 725.4 289.8 725.6 290.5 725.9 289.3 726.1 286.7 726.4 291.0 726.6 291.3 726.9 290.7 727.1 289.9 727.4 292.0 727.6 290.5 727.9 291.1 728.1 287.1 728.4 291.0 728.6 290.0 728.9 290.1 729.1 288.8 729.4 289.8 729.6 289.2 729.9 288.4 730.1 288.8 730.4 287.5 730.6 288.1 730.9 289.1 731.1 291.2 731.4 289.5 731.6 288.6 731.9 289.2 732.1 290.3 732.4 289.4 732.6 290.6 732.9 291.2 733.1 291.1 733.4 286.7 733.6 290.1 733.9 288.9 734.1 290.2 734.4 288.6 734.6 289.8 734.9 291.0 735.1 291.2 735.4 289.7 735.6 289.9 735.9 288.5 736.1 288.9 736.4 288.6 736.6 289.3 736.9 289.5 737.1 289.1 737.4 290.4 737.6 291.4 737.9 288.2 738.1 288.6 738.4 289.9 738.6 286.8 738.9 289.8 739.1 290.7 739.4 290.8 739.6 288.0 739.9 290.7 740.1 288.8 740.4 287.7 740.6 289.4 740.9 286.8 741.1 287.5 741.4 288.6 741.6 286.8 741.9 288.9 742.1 286.8 742.4 289.4 742.6 288.0 742.9 289.5 743.1 291.7 743.4 287.7 743.6 287.2 743.9 292.0 744.1 286.8 744.4 288.7 744.6 288.7 744.9 289.6 745.1 291.6 745.4 286.8 745.6 288.5 745.9 288.9 746.1 289.5 746.4 288.5 746.6 289.5 746.9 287.8 747.1 287.9 747.4 289.2 747.6 288.5 747.9 289.5 748.1 289.6 748.4 288.8 748.6 292.0 748.9 288.7 749.1 288.1 749.4 289.2 749.6 288.4 749.9 288.4 750.1 288.4 750.4 287.9 750.6 289.3 750.9 290.4 751.1 288.7 751.4 289.2 751.6 287.7 751.9 289.5 752.1 288.6 752.4 289.9 752.6 290.0 752.9 288.3 753.1 289.0 753.4 291.4 753.6 288.6 753.9 290.7 754.1 289.3 754.4 288.7 754.6 289.5 754.9 290.2 755.1 289.0 755.4 288.6 755.6 289.2 755.9 291.4 756.1 287.6 756.4 292.0 756.6 288.0 756.9 287.4 757.1 290.0 757.4 289.6 757.6 286.8 757.9 288.4 758.1 286.8 758.4 288.8 758.6 290.6 758.9 287.6 759.1 291.3 759.4 289.9 759.6 289.2 759.9 289.0 760.1 288.3 760.4 292.0 760.6 290.2 760.9 287.6 761.1 292.0 761.4 289.6 761.6 291.4 761.9 289.6 762.1 291.2 762.4 287.4 762.6 289.0 762.9 289.1 763.1 289.5 763.4 290.2 763.6 287.6 763.9 288.3 764.1 291.0 764.4 289.0 764.6 290.7 764.9 288.4 765.1 289.3 765.4 289.4 765.6 289.2 765.9 288.8 766.1 288.2 766.4 289.5 766.6 288.9 766.9 290.4 767.1 289.6 767.4 288.3 767.6 291.6 767.9 290.6 768.1 289.5 768.4 291.0 768.6 290.7 768.9 288.1 769.1 287.2 769.4 290.9 769.6 291.9 769.9 290.4 770.1 289.3 770.4 288.6 770.6 290.4 770.9 288.3 771.1 288.5 771.4 289.0 771.6 289.5 771.9 290.1 772.1 290.8 772.4 289.4 772.6 289.3 772.9 288.5 773.1 288.9 773.4 288.5 773.6 289.8 773.9 289.9 774.1 289.6 774.4 288.8 774.6 289.6 774.9 290.3 775.1 290.0 775.4 289.5 775.6 288.3 775.9 289.8 776.1 290.1 776.4 289.6 776.6 289.5 776.9 290.1 777.1 289.4 777.4 288.5 777.6 289.9 777.9 288.9 778.1 289.0 778.4 289.0 778.6 288.9 778.9 286.8 779.1 292.0 779.4 290.3 779.6 291.8 779.9 286.9 780.1 291.4 780.4 286.8 780.6 288.1 780.9 288.3 781.1 291.4 781.4 289.8 781.6 289.1 781.9 290.1 782.1 289.9 782.4 290.0 782.6 289.6 782.9 290.2 783.1 290.1 783.4 288.5 783.6 288.7 783.9 289.6 784.1 289.7 784.4 289.4 784.6 289.9 784.9 287.1 785.1 287.6 785.4 287.9 785.6 289.4 785.9 287.7 786.1 289.1 786.4 289.2 786.6 289.8 786.9 290.1 787.1 291.3 787.4 288.7 787.6 290.1 787.9 291.9 788.1 291.3 788.4 290.1 788.6 287.1 788.9 289.6 789.1 289.3 789.4 287.7 789.6 290.0 789.9 287.9 790.1 288.0" fill="none" stroke="#006400" stroke-width="0.5" stroke-opacity="0.95"/></g>
<g clip-path="url(#pc3)"><path d="M549.9 290.0 550.0 287.5 550.1 293.2 550.2 286.6 550.4 287.6 550.5 288.8 550.6 285.7 550.8 296.0 550.9 287.3 551.0 292.7 551.1 285.9 551.2 296.9 551.4 292.0 551.5 293.5 551.6 289.9 551.8 292.2 551.9 286.9 552.0 289.3 552.1 292.0 552.2 284.9 552.4 287.4 552.5 295.6 552.6 293.9 552.8 290.3 552.9 294.2 553.0 290.9 553.1 295.8 553.2 288.4 553.4 284.8 553.5 288.1 553.6 297.5 553.8 284.8 553.9 289.3 554.0 290.8 554.1 286.0 554.2 291.6 554.4 288.0 554.5 292.1 554.6 288.7 554.8 294.2 554.9 287.2 555.0 281.3 555.1 298.5 555.2 296.4 555.4 289.4 555.5 289.6 555.6 286.4 555.8 298.4 555.9 285.4 556.0 294.1 556.1 292.9 556.2 286.9 556.4 297.5 556.5 284.3 556.6 292.6 556.8 289.6 556.9 291.5 557.0 280.9 557.1 288.6 557.2 292.7 557.4 282.9 557.5 291.4 557.6 295.2 557.8 294.4 557.9 283.6 558.0 295.1 558.1 283.9 558.2 293.4 558.4 280.0 558.5 286.3 558.6 280.9 558.8 298.1 558.9 293.1 559.0 282.5 559.1 283.5 559.2 293.1 559.4 290.9 559.5 287.3 559.6 289.1 559.8 290.9 559.9 286.7 560.0 279.4 560.1 283.8 560.2 291.3 560.4 292.3 560.5 294.3 560.6 293.8 560.8 288.8 560.9 288.0 561.0 297.3 561.1 283.0 561.2 285.6 561.4 297.1 561.5 293.8 561.6 284.5 561.8 279.1 561.9 280.7 562.0 291.9 562.1 285.7 562.2 292.4 562.4 278.9 562.5 293.6 562.6 285.0 562.8 290.2 562.9 300.7 563.0 291.9 563.1 294.6 563.2 282.6 563.4 284.2 563.5 280.6 563.6 295.4 563.8 283.8 563.9 291.4 564.0 299.3 564.1 282.5 564.2 289.1 564.4 280.0 564.5 292.4 564.6 288.2 564.8 295.0 564.9 291.5 565.0 296.1 565.1 279.6 565.2 282.2 565.4 294.3 565.5 291.6 565.6 287.5 565.8 284.1 565.9 285.8 566.0 282.2 566.1 291.7 566.2 282.8 566.4 288.6 566.5 279.7 566.6 297.3 566.8 289.7 566.9 286.6 567.0 285.0 567.1 279.6 567.2 290.9 567.4 293.5 567.5 298.8 567.6 288.4 567.8 280.6 567.9 283.3 568.0 290.2 568.1 283.7 568.2 278.7 568.4 297.3 568.5 284.4 568.6 286.1 568.8 301.5 568.9 282.3 569.0 292.4 569.1 294.3 569.2 289.1 569.4 286.5 569.5 286.3 569.6 289.9 569.8 283.9 569.9 296.8 570.0 300.3 570.1 276.2 570.2 293.5 570.4 288.6 570.5 289.8 570.6 291.5 570.8 288.3 570.9 291.0 571.0 283.3 571.1 294.4 571.2 295.6 571.4 292.7 571.5 296.8 571.6 285.7 571.8 294.5 571.9 297.0 572.0 285.8 572.1 290.7 572.2 286.7 572.4 286.0 572.5 301.0 572.6 289.9 572.8 285.8 572.9 289.4 573.0 291.1 573.1 302.6 573.2 297.6 573.4 286.9 573.5 291.7 573.6 290.9 573.8 287.6 573.9 289.1 574.0 288.4 574.1 292.6 574.2 297.2 574.4 283.2 574.5 285.8 574.6 287.0 574.8 294.9 574.9 283.4 575.0 284.7 575.1 294.0 575.2 283.3 575.4 277.7 575.5 295.3 575.6 286.5 575.8 293.0 575.9 284.5 576.0 279.9 576.1 279.6 576.2 302.5 576.4 302.4 576.5 298.8 576.6 301.5 576.8 288.0 576.9 291.2 577.0 276.6 577.1 288.2 577.2 294.0 577.4 288.6 577.5 302.0 577.6 283.7 577.8 290.9 577.9 285.3 578.0 286.9 578.1 285.0 578.2 288.9 578.4 278.8 578.5 293.8 578.6 287.8 578.8 283.6 578.9 280.6 579.0 289.5 579.1 286.1 579.2 288.4 579.4 285.6 579.5 294.6 579.6 295.9 579.8 284.7 579.9 298.0 580.0 292.6 580.1 289.3 580.2 293.2 580.4 286.3 580.5 291.9 580.6 289.0 580.8 295.5 580.9 286.8 581.0 289.9 581.1 293.1 581.2 293.9 581.4 281.7 581.5 298.6 581.6 287.7 581.8 286.5 581.9 290.8 582.0 281.2 582.1 282.4 582.2 286.8 582.4 282.2 582.5 296.6 582.6 288.7 582.8 289.1 582.9 290.4 583.0 293.2 583.1 292.8 583.2 286.5 583.4 295.4 583.5 294.7 583.6 299.2 583.8 290.6 583.9 289.7 584.0 287.5 584.1 284.0 584.2 288.7 584.4 283.6 584.5 288.6 584.6 295.8 584.8 294.4 584.9 296.7 585.0 283.6 585.1 293.7 585.2 291.1 585.4 290.9 585.5 293.8 585.6 290.8 585.8 290.5 585.9 286.4 586.0 297.5 586.1 288.5 586.2 293.2 586.4 287.2 586.5 286.6 586.6 291.7 586.8 288.7 586.9 293.2 587.0 290.2 587.1 292.1 587.2 294.0 587.4 285.2 587.5 292.0 587.6 281.9 587.8 287.2 587.9 287.4 588.0 285.1 588.1 289.6 588.2 287.9 588.4 285.8 588.5 295.0 588.6 288.3 588.8 288.5 588.9 287.7 589.0 291.7 589.1 290.6 589.2 288.1 589.4 296.0 589.5 293.2 589.6 290.3 589.8 283.6 589.9 290.2 590.0 288.9 590.1 287.9 590.2 286.5 590.4 292.2 590.5 292.8 590.6 288.1 590.8 285.1 590.9 285.5 591.0 288.8 591.1 286.8 591.2 288.6 591.4 291.5 591.5 291.4 591.6 289.0 591.8 285.8 591.9 291.3 592.0 290.6 592.1 287.1 592.2 290.1 592.4 291.4 592.5 294.0 592.6 290.2 592.8 291.5 592.9 289.0 593.0 290.8 593.1 290.0 593.2 291.7 593.4 286.9 593.5 289.8 593.6 284.9 593.8 286.9 593.9 287.8 594.0 287.4 594.1 289.3 594.2 290.3 594.4 291.6 594.5 290.2 594.6 290.2 594.8 290.1 594.9 291.9 595.0 288.9 595.1 293.8 595.2 291.7 595.4 289.4 595.5 285.2 595.6 288.8 595.8 289.0 595.9 290.2 596.0 290.2 596.1 293.3 596.2 287.3 596.4 289.4 596.5 290.7 596.6 291.7 596.8 287.1 596.9 292.4 597.0 288.5 597.1 288.3 597.2 290.0 597.4 291.2 597.5 290.3 597.6 290.7 597.8 289.9 597.9 291.2 598.0 288.6 598.1 289.7 598.2 290.2 598.4 289.7 598.5 290.9 598.6 288.3 598.8 288.4 598.9 291.4 599.0 289.7 599.1 290.2 599.2 290.6 599.4 291.3 599.5 287.8 599.6 291.9 599.8 287.4 599.9 290.7 600.0 287.0 600.1 288.9 600.2 288.8 600.4 289.9 600.5 289.9 600.6 287.4 600.8 289.0 600.9 288.7 601.0 289.8 601.1 288.4 601.2 287.7 601.4 289.4 601.5 290.6 601.6 286.0 601.8 290.9 601.9 289.5 602.0 290.6 602.1 288.6 602.2 288.0 602.4 290.6 602.5 288.9 602.6 288.3 602.8 289.3 602.9 291.1 603.0 291.1 603.1 291.6 603.2 289.3 603.4 286.9 603.5 291.6 603.6 289.5 603.8 287.5 603.9 288.3 604.0 288.5 604.1 287.3 604.2 289.5 604.4 289.8 604.5 290.1 604.6 290.4 604.8 289.8 604.9 286.9 605.0 288.3 605.1 290.2 605.2 289.1 605.4 289.2 605.5 288.1 605.6 289.9 605.8 288.9 605.9 289.7 606.0 290.2 606.1 291.9 606.2 290.3 606.4 288.8 606.5 287.4 606.6 292.1 606.8 291.0 606.9 286.8 607.0 289.6 607.1 290.8 607.2 288.9 607.4 289.6 607.5 288.2 607.6 290.6 607.8 290.3 607.9 288.0 608.0 289.6 608.1 287.7 608.2 290.3 608.4 287.5 608.5 290.2 608.6 288.2 608.8 288.0 608.9 290.8 609.0 289.4 609.1 289.4 609.2 289.3 609.4 287.4 609.5 289.9 609.6 288.3 609.8 290.3 609.9 291.3 610.0 290.8 610.1 289.0 610.2 288.0 610.4 291.8" fill="none" stroke="#005000" stroke-width="0.45" stroke-opacity="0.8"/></g>
<path d="M505.8 258.25H791.3V313.25H505.8Z M507.8 259.75V311.55H789.3V259.75Z" fill="#000" fill-rule="evenodd"/>
<path d="M523.5 258.2v-4.3M523.5 313.2v4.3M547.1 258.2v-4.3M547.1 313.2v4.3M570.8 258.2v-4.3M570.8 313.2v4.3M594.4 258.2v-4.3M594.4 313.2v4.3M618.1 258.2v-4.3M618.1 313.2v4.3M641.7 258.2v-4.3M641.7 313.2v4.3M665.3 258.2v-4.3M665.3 313.2v4.3M689.0 258.2v-4.3M689.0 313.2v4.3M712.6 258.2v-4.3M712.6 313.2v4.3M736.3 258.2v-4.3M736.3 313.2v4.3M759.9 258.2v-4.3M759.9 313.2v4.3M783.5 258.2v-4.3M783.5 313.2v4.3" stroke="#222" stroke-width="1"/>
<text x="523.5" y="330.1" text-anchor="middle" style="font-family:'Liberation Sans',Arial,sans-serif;font-size:9.8px" fill="#111">40</text>
<text x="547.1" y="330.1" text-anchor="middle" style="font-family:'Liberation Sans',Arial,sans-serif;font-size:9.8px" fill="#111">45</text>
<text x="570.8" y="330.1" text-anchor="middle" style="font-family:'Liberation Sans',Arial,sans-serif;font-size:9.8px" fill="#111">50</text>
<text x="594.4" y="330.1" text-anchor="middle" style="font-family:'Liberation Sans',Arial,sans-serif;font-size:9.8px" fill="#111">55</text>
<text x="618.1" y="330.1" text-anchor="middle" style="font-family:'Liberation Sans',Arial,sans-serif;font-size:9.8px" fill="#111">00</text>
<text x="641.7" y="330.1" text-anchor="middle" style="font-family:'Liberation Sans',Arial,sans-serif;font-size:9.8px" fill="#111">05</text>
<text x="665.3" y="330.1" text-anchor="middle" style="font-family:'Liberation Sans',Arial,sans-serif;font-size:9.8px" fill="#111">10</text>
<text x="689.0" y="330.1" text-anchor="middle" style="font-family:'Liberation Sans',Arial,sans-serif;font-size:9.8px" fill="#111">15</text>
<text x="712.6" y="330.1" text-anchor="middle" style="font-family:'Liberation Sans',Arial,sans-serif;font-size:9.8px" fill="#111">20</text>
<text x="736.3" y="330.1" text-anchor="middle" style="font-family:'Liberation Sans',Arial,sans-serif;font-size:9.8px" fill="#111">25</text>
<text x="759.9" y="330.1" text-anchor="middle" style="font-family:'Liberation Sans',Arial,sans-serif;font-size:9.8px" fill="#111">30</text>
<text x="783.5" y="330.1" text-anchor="middle" style="font-family:'Liberation Sans',Arial,sans-serif;font-size:9.8px" fill="#111">35</text>
<text x="799.3" y="267.0" style="font-family:'Liberation Sans',Arial,sans-serif;font-size:9.9px;font-weight:bold" fill="#0000ff">ICP&#8211;UCR Coronado</text>
<text x="799.3" y="290.1" style="font-family:'Liberation Sans',Arial,sans-serif;font-size:9.8px" fill="#222">Acel. Max. 0.6</text>
<text x="799.3" y="307.7" style="font-family:'Liberation Sans',Arial,sans-serif;font-size:9.8px" fill="#222">Int JMA: 1</text>
<defs><clipPath id="pc4"><rect x="507.0" y="338.8" width="283.3" height="52.2"/></clipPath></defs>
<line x1="507.0" y1="369.4" x2="790.3" y2="369.4" stroke="#ffa500" stroke-width="0.7" stroke-opacity="0.75"/>
<g clip-path="url(#pc4)"><path d="M507.0 365.7 507.2 370.4 507.5 370.8 507.8 365.7 508.0 367.9 508.2 371.2 508.5 369.9 508.8 370.2 509.0 370.7 509.2 370.8 509.5 366.3 509.8 369.8 510.0 371.8 510.2 369.5 510.5 368.9 510.8 370.4 511.0 369.3 511.2 369.9 511.5 371.4 511.8 370.0 512.0 367.4 512.2 369.1 512.5 368.4 512.8 369.9 513.0 370.8 513.2 370.9 513.5 367.5 513.8 370.9 514.0 370.8 514.2 369.1 514.5 369.5 514.8 370.8 515.0 368.3 515.2 371.4 515.5 367.5 515.8 369.2 516.0 369.2 516.2 370.5 516.5 369.3 516.8 369.9 517.0 368.3 517.2 368.0 517.5 371.1 517.8 373.3 518.0 373.8 518.2 373.8 518.5 368.3 518.8 365.0 519.0 371.3 519.2 370.1 519.5 369.8 519.8 373.8 520.0 371.8 520.2 368.5 520.5 365.3 520.8 370.9 521.0 372.2 521.2 370.5 521.5 368.0 521.8 370.4 522.0 368.8 522.2 371.2 522.5 368.6 522.8 371.6 523.0 368.8 523.2 366.1 523.5 371.0 523.8 367.8 524.0 371.7 524.2 370.2 524.5 367.4 524.8 370.0 525.0 367.6 525.2 368.4 525.5 370.1 525.8 371.4 526.0 371.9 526.2 370.1 526.5 366.8 526.8 370.6 527.0 366.9 527.2 370.9 527.5 369.0 527.8 367.7 528.0 368.8 528.2 369.0 528.5 368.2 528.8 367.9 529.0 368.4 529.2 368.2 529.5 369.8 529.8 369.0 530.0 369.9 530.2 371.4 530.5 368.6 530.8 369.4 531.0 368.5 531.2 370.6 531.5 367.7 531.8 370.0 532.0 369.3 532.2 365.9 532.5 373.8 532.8 367.4 533.0 372.2 533.2 370.3 533.5 369.8 533.8 365.8 534.0 370.0 534.2 365.6 534.5 368.5 534.8 366.4 535.0 367.3 535.2 368.0 535.5 370.7 535.8 371.7 536.0 370.4 536.2 370.4 536.5 366.3 536.8 372.6 537.0 372.3 537.2 368.9 537.5 372.8 537.8 367.8 538.0 373.1 538.2 367.3 538.5 369.7 538.8 371.5 539.0 366.4 539.2 368.8 539.5 373.1 539.8 369.7 540.0 370.4 540.2 368.9 540.5 368.5 540.8 369.0 541.0 369.4 541.2 365.4 541.5 369.7 541.8 368.4 542.0 366.9 542.2 369.2 542.5 366.2 542.8 371.7 543.0 368.4 543.2 365.0 543.5 367.9 543.8 372.6 544.0 371.1 544.2 372.7 544.5 370.1 544.8 365.5 545.0 370.1 545.2 370.8 545.5 371.7 545.8 370.1 546.0 368.6 546.2 369.8 546.5 367.2 546.8 371.5 547.0 366.5 547.2 370.1 547.5 367.9 547.8 368.7 548.0 369.4 548.2 369.7 548.5 368.5 548.8 370.2 549.0 371.4 549.2 373.2 549.5 369.1 549.8 369.3 550.0 369.5 550.2 370.8 550.5 367.6 550.8 365.3 551.0 370.1 551.2 369.3 551.5 370.1 551.8 373.5 552.0 373.0 552.2 367.5 552.5 368.4 552.8 369.5 553.0 369.5 553.2 368.7 553.5 369.6 553.8 369.8 554.0 370.7 554.2 371.0 554.5 368.5 554.8 370.6 555.0 369.7 555.2 370.5 555.5 369.2 555.8 369.8 556.0 372.3 556.2 367.4 556.5 369.4 556.8 367.9 557.0 373.8 557.2 370.1 557.5 369.7 557.8 370.1 558.0 371.3 558.2 370.0 558.5 373.6 558.8 372.8 559.0 369.6 559.2 372.9 559.5 371.7 559.8 365.3 560.0 373.8 560.2 367.1 560.5 371.5 560.8 368.6 561.0 367.9 561.2 368.1 561.5 374.1 561.6 369.3 561.8 368.2 561.9 369.1 562.0 369.7 562.1 369.0 562.2 368.2 562.4 368.4 562.5 370.0 562.6 375.0 562.8 368.4 562.9 371.9 563.0 369.1 563.1 366.9 563.2 366.3 563.4 370.6 563.5 365.8 563.6 370.9 563.8 368.6 563.9 374.8 564.0 366.4 564.1 373.1 564.2 374.0 564.4 372.3 564.5 368.0 564.6 370.8 564.8 370.1 564.9 369.2 565.0 372.7 565.1 369.4 565.2 370.7 565.4 374.3 565.5 369.3 565.6 368.1 565.8 370.9 565.9 367.2 566.0 358.9 566.1 366.9 566.2 368.9 566.4 362.4 566.5 358.9 566.6 373.2 566.8 365.2 566.9 374.9 567.0 373.7 567.1 380.0 567.2 374.3 567.4 376.6 567.5 379.6 567.6 367.7 567.8 377.3 567.9 377.6 568.0 358.9 568.1 363.6 568.2 370.7 568.4 379.3 568.5 368.1 568.6 363.3 568.8 362.1 568.9 371.2 569.0 370.7 569.1 367.0 569.2 370.9 569.4 368.2 569.5 373.8 569.6 364.7 569.8 368.0 569.9 373.1 570.0 367.7 570.1 366.7 570.2 368.5 570.4 376.6 570.5 370.7 570.6 375.8 570.8 365.3 570.9 368.6 571.0 373.3 571.1 371.0 571.2 366.7 571.4 357.4 571.5 372.5 571.6 373.8 571.8 372.2 571.9 360.0 572.0 361.5 572.1 366.2 572.2 363.6 572.4 375.5 572.5 363.1 572.6 367.5 572.8 363.0 572.9 359.2 573.0 375.3 573.1 370.3 573.2 365.7 573.4 369.5 573.5 358.9 573.6 377.8 573.8 363.4 573.9 357.4 574.0 362.2 574.1 371.0 574.2 369.5 574.4 375.0 574.5 375.6 574.6 369.8 574.8 379.6 574.9 350.1 575.0 374.6 575.1 374.6 575.2 373.2 575.4 367.6 575.5 363.6 575.6 362.9 575.8 351.3 575.9 364.0 576.0 380.6 576.1 384.4 576.2 364.4 576.4 363.8 576.5 364.2 576.6 367.9 576.8 369.3 576.9 373.9 577.0 383.0 577.1 350.1 577.2 359.3 577.4 364.9 577.5 368.7 577.6 372.9 577.8 385.1 577.9 361.1 578.0 374.9 578.1 368.6 578.2 369.9 578.4 371.9 578.5 376.4 578.6 370.4 578.8 360.7 578.9 373.1 579.0 373.1 579.1 357.3 579.2 372.9 579.4 368.8 579.5 368.0 579.6 370.2 579.8 384.7 579.9 354.4 580.0 371.1 580.1 351.7 580.2 369.6 580.4 378.5 580.5 351.1 580.6 381.2 580.8 374.4 580.9 368.2 581.0 367.5 581.1 369.4 581.2 370.1 581.4 369.3 581.5 378.9 581.6 377.7 581.8 359.7 581.9 383.3 582.0 395.0 582.1 394.3 582.2 375.1 582.4 343.2 582.5 361.1 582.6 368.5 582.8 369.2 582.9 341.9 583.0 384.0 583.1 390.3 583.2 344.8 583.4 357.8 583.5 355.0 583.6 371.4 583.8 384.6 583.9 349.4 584.0 383.5 584.1 378.8 584.2 357.2 584.4 391.0 584.5 388.0 584.6 380.3 584.8 377.8 584.9 354.4 585.0 382.8 585.1 355.2 585.2 373.5 585.4 391.7 585.5 365.3 585.6 361.0 585.8 380.1 585.9 386.0 586.0 385.4 586.1 368.4 586.2 388.2 586.4 389.6 586.5 367.4 586.6 376.4 586.8 355.5 586.9 369.3 587.0 361.7 587.1 371.7 587.2 365.0 587.4 349.1 587.5 376.4 587.6 360.8 587.8 382.3 587.9 385.4 588.0 376.8 588.1 369.8 588.2 373.3 588.4 354.7 588.5 371.7 588.6 382.1 588.8 379.2 588.9 358.1 589.0 389.7 589.1 377.8 589.2 357.3 589.4 378.1 589.5 355.7 589.6 362.8 589.8 372.2 589.9 396.9 590.0 396.9 590.1 342.4 590.2 370.1 590.4 368.1 590.5 384.1 590.6 378.1 590.8 359.4 590.9 376.8 591.0 358.8 591.1 355.9 591.2 380.5 591.4 373.7 591.5 360.3 591.6 381.1 591.8 364.3 591.9 359.7 592.0 368.6 592.1 376.6 592.2 364.1 592.4 381.7 592.5 368.1 592.6 371.4 592.8 373.4 592.9 369.7 593.0 365.8 593.1 368.6 593.2 373.8 593.4 375.9 593.5 373.3 593.6 366.8 593.8 362.9 593.9 365.4 594.0 366.0 594.1 371.9 594.2 369.7 594.4 362.2 594.5 377.2 594.6 362.5 594.8 370.7 594.9 362.6 595.0 380.0 595.1 373.8 595.2 371.8 595.4 379.4 595.5 377.0 595.6 361.5 595.8 370.8 595.9 365.1 596.0 367.5 596.1 368.3 596.2 364.2 596.4 364.1 596.5 370.1 596.6 370.3 596.8 373.2 596.9 368.6 597.0 366.7 597.1 367.3 597.2 367.6 597.4 365.2 597.5 370.0 597.6 365.8 597.8 366.3 597.9 364.7 598.0 369.8 598.1 366.0 598.2 367.9 598.4 369.9 598.5 362.6 598.6 370.6 598.8 369.6 598.9 369.0 599.0 359.7 599.1 376.7 599.2 373.0 599.4 373.6 599.5 379.1 599.6 361.8 599.8 379.0 599.9 367.9 600.0 374.9 600.1 375.9 600.2 364.4 600.4 370.7 600.5 367.2 600.6 370.9 600.8 365.5 600.9 374.4 601.0 370.9 601.1 368.7 601.2 366.8 601.4 373.1 601.5 368.1 601.6 371.6 601.8 365.9 601.9 371.2 602.0 362.9 602.1 370.7 602.2 365.5 602.4 365.1 602.5 373.5 602.6 372.6 602.8 366.3 602.9 365.4 603.0 375.1 603.1 361.6 603.2 367.9 603.4 366.1 603.5 369.3 603.6 369.0 603.8 368.7 603.9 365.7 604.0 370.0 604.1 370.6 604.2 368.0 604.4 375.0 604.5 367.6 604.6 369.3 604.8 377.8 604.9 367.9 605.0 368.6 605.1 362.8 605.2 369.3 605.4 368.0 605.5 370.1 605.6 365.7 605.8 374.0 605.9 371.7 606.0 373.9 606.1 367.0 606.2 360.3 606.4 371.5 606.5 369.0 606.6 365.8 606.8 378.5 606.9 371.1 607.0 370.2 607.1 372.3 607.2 371.6 607.4 372.1 607.5 374.7 607.6 370.1 607.8 366.3 607.9 363.8 608.0 370.8 608.1 372.6 608.2 374.6 608.4 364.0 608.5 360.4 608.6 360.8 608.8 377.5 608.9 372.5 609.0 369.2 609.1 367.8 609.2 378.3 609.4 373.6 609.5 373.3 609.6 366.3 609.8 376.2 609.9 366.9 610.0 364.5 610.1 378.2 610.2 371.7 610.4 373.9 610.5 360.6 610.6 366.8 610.8 363.6 610.9 370.7 611.0 368.5 611.1 369.0 611.2 364.1 611.4 378.1 611.5 360.7 611.6 372.0 611.8 368.8 611.9 375.1 612.0 363.6 612.1 374.6 612.2 364.7 612.4 370.3 612.5 368.1 612.6 377.9 612.8 363.6 612.9 366.4 613.0 362.3 613.1 365.2 613.2 368.3 613.4 367.6 613.5 366.0 613.6 366.5 613.8 368.1 613.9 369.3 614.0 374.4 614.1 370.2 614.2 368.8 614.4 367.8 614.5 371.0 614.6 373.0 614.8 368.1 614.9 371.8 615.0 370.5 615.1 362.8 615.2 374.6 615.4 371.7 615.5 365.1 615.6 363.6 615.8 369.6 615.9 367.7 616.0 370.4 616.1 368.0 616.2 372.3 616.4 367.6 616.5 370.2 616.6 370.8 616.8 368.5 616.9 371.4 617.0 369.5 617.1 369.2 617.2 368.8 617.4 364.1 617.5 367.0 617.6 373.6 617.8 368.3 617.9 367.2 618.0 368.7 618.1 368.6 618.2 375.2 618.4 365.9 618.5 367.0 618.6 371.2 618.8 363.4 618.9 363.8 619.0 364.8 619.1 366.9 619.2 372.4 619.4 373.2 619.5 370.7 619.6 374.6 619.8 364.5 619.9 371.8 620.0 367.7 620.1 370.3 620.2 368.7 620.4 366.1 620.5 372.1 620.6 372.9 620.8 370.0 620.9 367.0 621.0 375.3 621.1 362.3 621.2 370.0 621.4 366.5 621.5 367.0 621.6 372.6 621.8 367.8 621.9 372.8 622.0 370.2 622.1 374.4 622.2 372.9 622.4 372.6 622.5 369.5 622.6 369.2 622.8 365.6 622.9 371.2 623.0 372.3 623.1 366.7 623.2 370.8 623.4 366.6 623.5 369.2 623.6 365.8 623.8 369.4 623.9 372.7 624.0 370.2 624.1 364.5 624.2 371.1 624.4 368.5 624.5 372.4 624.6 370.9 624.8 370.8 624.9 368.8 625.0 369.7 625.1 368.0 625.2 369.5 625.4 370.9 625.5 366.5 625.6 368.7 625.8 370.9 625.9 367.2 626.0 369.1 626.1 370.4 626.2 370.1 626.4 370.7 626.5 371.1 626.6 372.1 626.8 368.7 626.9 370.5 627.0 370.4 627.1 366.6 627.2 368.4 627.4 371.1 627.5 370.2 627.6 371.0 627.8 369.4 627.9 369.3 628.1 364.8 628.4 369.5 628.6 371.0 628.9 369.8 629.1 370.6 629.4 367.2 629.6 368.4 629.9 369.4 630.1 368.7 630.4 368.3 630.6 369.9 630.9 369.1 631.1 367.6 631.4 369.0 631.6 367.7 631.9 367.8 632.1 369.9 632.4 369.3 632.6 363.3 632.9 368.2 633.1 371.5 633.4 365.6 633.6 372.6 633.9 373.4 634.1 370.2 634.4 371.7 634.6 371.6 634.9 367.2 635.1 367.6 635.4 372.1 635.6 373.5 635.9 369.7 636.1 372.1 636.4 371.5 636.6 366.3 636.9 370.3 637.1 371.9 637.4 364.1 637.6 370.8 637.9 368.1 638.1 369.9 638.4 370.5 638.6 365.7 638.9 364.0 639.1 371.8 639.4 370.4 639.6 368.0 639.9 370.5 640.1 370.0 640.4 371.7 640.6 371.9 640.9 367.2 641.1 368.1 641.4 371.2 641.6 371.6 641.9 371.2 642.1 370.5 642.4 367.0 642.6 370.8 642.9 371.7 643.1 374.3 643.4 364.5 643.6 366.5 643.9 368.8 644.1 368.8 644.4 369.2 644.6 372.0 644.9 366.3 645.1 370.2 645.4 369.7 645.6 372.7 645.9 369.7 646.1 370.2 646.4 369.4 646.6 372.6 646.9 371.0 647.1 367.4 647.4 371.0 647.6 367.3 647.9 372.0 648.1 369.8 648.4 369.2 648.6 367.3 648.9 369.5 649.1 369.6 649.4 372.3 649.6 369.3 649.9 367.5 650.1 374.0 650.4 366.2 650.6 369.5 650.9 370.2 651.1 367.6 651.4 369.0 651.6 371.9 651.9 369.0 652.1 370.4 652.4 368.9 652.6 371.6 652.9 370.8 653.1 368.3 653.4 365.5 653.6 370.1 653.9 371.8 654.1 366.8 654.4 365.4 654.6 367.9 654.9 369.1 655.1 367.9 655.4 372.4 655.6 369.5 655.9 366.4 656.1 369.9 656.4 369.7 656.6 366.8 656.9 370.4 657.1 366.0 657.4 371.0 657.6 367.0 657.9 367.2 658.1 368.2 658.4 370.6 658.6 370.1 658.9 364.9 659.1 367.5 659.4 369.1 659.6 372.0 659.9 373.9 660.1 369.3 660.4 367.9 660.6 369.8 660.9 373.4 661.1 368.1 661.4 370.1 661.6 372.3 661.9 371.4 662.1 369.3 662.4 367.9 662.6 370.7 662.9 370.2 663.1 368.8 663.4 368.6 663.6 369.4 663.9 370.9 664.1 367.8 664.4 367.8 664.6 370.7 664.9 366.4 665.1 366.7 665.4 369.9 665.6 369.7 665.9 372.5 666.1 369.4 666.4 370.0 666.6 370.0 666.9 369.0 667.1 366.0 667.4 367.3 667.6 369.6 667.9 366.6 668.1 365.8 668.4 373.8 668.6 365.0 668.9 369.6 669.1 372.3 669.4 371.1 669.6 366.6 669.9 372.0 670.1 372.7 670.4 367.9 670.6 368.6 670.9 370.4 671.1 371.6 671.4 370.2 671.6 365.3 671.9 368.5 672.1 368.4 672.4 370.8 672.6 372.6 672.9 370.6 673.1 373.7 673.4 372.7 673.6 369.2 673.9 370.5 674.1 367.1 674.4 370.7 674.6 366.4 674.9 369.1 675.1 369.0 675.4 369.3 675.6 372.5 675.9 367.5 676.1 369.4 676.4 367.4 676.6 369.1 676.9 370.5 677.1 368.4 677.4 369.7 677.6 365.3 677.9 369.9 678.1 368.7 678.4 366.0 678.6 371.7 678.9 369.6 679.1 371.9 679.4 369.7 679.6 368.9 679.9 371.5 680.1 368.1 680.4 373.6 680.6 369.6 680.9 371.5 681.1 373.7 681.4 366.5 681.6 373.1 681.9 369.3 682.1 370.6 682.4 369.9 682.6 367.1 682.9 367.9 683.1 366.9 683.4 368.5 683.6 373.6 683.9 370.3 684.1 372.1 684.4 372.9 684.6 365.5 684.9 372.7 685.1 371.6 685.4 372.8 685.6 370.2 685.9 368.4 686.1 366.3 686.4 370.9 686.6 370.2 686.9 372.2 687.1 365.7 687.4 368.7 687.6 370.4 687.9 371.4 688.1 367.9 688.4 371.2 688.6 370.8 688.9 368.4 689.1 370.3 689.4 370.8 689.6 368.8 689.9 367.7 690.1 368.1 690.4 370.3 690.6 370.8 690.9 368.8 691.1 369.7 691.4 370.4 691.6 367.8 691.9 366.8 692.1 372.4 692.4 369.2 692.6 368.2 692.9 368.9 693.1 370.4 693.4 369.7 693.6 369.6 693.9 369.3 694.1 369.3 694.4 369.2 694.6 368.4 694.9 369.5 695.1 368.1 695.4 368.8 695.6 366.8 695.9 368.9 696.1 368.5 696.4 365.3 696.6 368.8 696.9 370.6 697.1 371.6 697.4 370.8 697.6 371.6 697.9 369.3 698.1 370.4 698.4 368.1 698.6 365.3 698.9 368.0 699.1 370.4 699.4 373.5 699.6 373.3 699.9 368.1 700.1 365.3 700.4 373.5 700.6 372.5 700.9 371.7 701.1 373.4 701.4 370.0 701.6 367.6 701.9 365.4 702.1 370.1 702.4 371.2 702.6 369.0 702.9 370.2 703.1 371.1 703.4 370.3 703.6 368.3 703.9 369.5 704.1 369.3 704.4 367.9 704.6 369.8 704.9 372.0 705.1 373.4 705.4 373.1 705.6 373.4 705.9 368.9 706.1 368.2 706.4 369.8 706.6 369.4 706.9 370.8 707.1 367.9 707.4 369.4 707.6 369.8 707.9 368.4 708.1 371.1 708.4 369.7 708.6 367.2 708.9 369.4 709.1 369.5 709.4 370.6 709.6 371.0 709.9 368.2 710.1 371.2 710.4 368.6 710.6 367.9 710.9 370.8 711.1 367.9 711.4 370.9 711.6 369.0 711.9 368.0 712.1 369.1 712.4 369.6 712.6 370.4 712.9 369.8 713.1 370.4 713.4 368.8 713.6 369.5 713.9 367.5 714.1 370.0 714.4 371.7 714.6 371.4 714.9 371.6 715.1 370.4 715.4 369.7 715.6 368.2 715.9 370.1 716.1 370.0 716.4 370.5 716.6 369.5 716.9 368.5 717.1 372.4 717.4 369.7 717.6 370.1 717.9 370.5 718.1 370.6 718.4 367.7 718.6 369.0 718.9 369.0 719.1 370.9 719.4 367.7 719.6 369.6 719.9 368.1 720.1 369.9 720.4 367.8 720.6 369.5 720.9 370.1 721.1 369.0 721.4 369.7 721.6 367.4 721.9 369.0 722.1 371.1 722.4 372.6 722.6 368.9 722.9 366.5 723.1 370.2 723.4 370.2 723.6 367.4 723.9 371.4 724.1 367.9 724.4 367.7 724.6 367.8 724.9 364.8 725.1 365.7 725.4 367.9 725.6 369.4 725.9 368.2 726.1 372.0 726.4 369.8 726.6 369.2 726.9 374.5 727.1 366.5 727.4 368.4 727.6 374.0 727.9 371.5 728.1 365.5 728.4 373.9 728.6 371.7 728.9 372.8 729.1 369.3 729.4 371.3 729.6 369.1 729.9 367.9 730.1 367.2 730.4 369.2 730.6 368.4 730.9 368.9 731.1 371.4 731.4 370.5 731.6 369.4 731.9 367.5 732.1 367.2 732.4 371.3 732.6 370.7 732.9 369.5 733.1 369.0 733.4 368.1 733.6 370.4 733.9 368.2 734.1 369.8 734.4 369.9 734.6 371.8 734.9 370.4 735.1 371.6 735.4 365.5 735.6 367.7 735.9 371.2 736.1 368.7 736.4 368.9 736.6 367.6 736.9 367.5 737.1 368.2 737.4 368.1 737.6 370.8 737.9 370.6 738.1 372.6 738.4 369.3 738.6 373.2 738.9 367.1 739.1 368.9 739.4 366.5 739.6 369.8 739.9 369.5 740.1 368.1 740.4 368.8 740.6 370.9 740.9 371.2 741.1 369.0 741.4 371.1 741.6 370.2 741.9 368.6 742.1 369.3 742.4 369.8 742.6 368.7 742.9 371.1 743.1 369.6 743.4 370.0 743.6 372.3 743.9 370.3 744.1 368.6 744.4 371.0 744.6 369.1 744.9 369.3 745.1 367.7 745.4 369.0 745.6 370.5 745.9 368.1 746.1 369.8 746.4 370.6 746.6 370.4 746.9 368.9 747.1 366.5 747.4 367.9 747.6 369.3 747.9 369.1 748.1 368.9 748.4 371.5 748.6 369.7 748.9 368.1 749.1 368.7 749.4 368.8 749.6 368.5 749.9 371.6 750.1 372.8 750.4 366.7 750.6 367.8 750.9 366.7 751.1 368.3 751.4 371.1 751.6 368.2 751.9 371.8 752.1 368.9 752.4 369.5 752.6 367.1 752.9 369.1 753.1 369.3 753.4 371.3 753.6 365.5 753.9 368.0 754.1 367.9 754.4 371.4 754.6 365.5 754.9 370.5 755.1 370.0 755.4 367.7 755.6 369.8 755.9 370.0 756.1 370.0 756.4 368.6 756.6 367.7 756.9 368.2 757.1 367.5 757.4 371.3 757.6 369.4 757.9 368.9 758.1 370.5 758.4 370.4 758.6 370.4 758.9 366.7 759.1 367.2 759.4 368.2 759.6 366.6 759.9 370.8 760.1 367.4 760.4 370.0 760.6 365.3 760.9 369.7 761.1 367.6 761.4 373.2 761.6 369.6 761.9 369.0 762.1 371.3 762.4 369.8 762.6 366.3 762.9 365.9 763.1 371.7 763.4 373.7 763.6 368.9 763.9 374.0 764.1 370.1 764.4 371.0 764.6 371.6 764.9 369.0 765.1 366.8 765.4 369.0 765.6 367.3 765.9 371.1 766.1 371.3 766.4 370.3 766.6 366.0 766.9 372.9 767.1 369.9 767.4 364.0 767.6 368.7 767.9 365.5 768.1 366.6 768.4 368.2 768.6 372.7 768.9 372.0 769.1 369.9 769.4 364.3 769.6 363.9 769.9 370.0 770.1 370.0 770.4 366.6 770.6 369.6 770.9 370.7 771.1 367.0 771.4 369.9 771.6 368.2 771.9 368.6 772.1 369.3 772.4 369.0 772.6 369.4 772.9 367.9 773.1 374.6 773.4 369.0 773.6 370.6 773.9 372.6 774.1 371.2 774.4 371.2 774.6 370.6 774.9 369.2 775.1 371.4 775.4 370.1 775.6 371.9 775.9 366.4 776.1 363.9 776.4 367.8 776.6 374.9 776.9 367.2 777.1 364.0 777.4 373.4 777.6 369.5 777.9 364.4 778.1 368.4 778.4 366.7 778.6 369.2 778.9 368.4 779.1 370.2 779.4 371.0 779.6 368.1 779.9 369.3 780.1 370.9 780.4 369.8 780.6 369.9 780.9 370.0 781.1 367.4 781.4 370.1 781.6 368.9 781.9 369.6 782.1 368.1 782.4 371.4 782.6 369.2 782.9 370.5 783.1 370.7 783.4 369.3 783.6 369.9 783.9 372.1 784.1 371.4 784.4 371.1 784.6 370.1 784.9 368.7 785.1 366.3 785.4 369.3 785.6 370.1 785.9 368.8 786.1 372.3 786.4 369.5 786.6 368.1 786.9 369.7 787.1 370.3 787.4 373.2 787.6 366.5 787.9 368.0 788.1 369.9 788.4 370.9 788.6 370.1 788.9 372.0 789.1 368.0 789.4 368.1 789.6 370.1 789.9 369.1 790.1 369.2" fill="none" stroke="#ffa500" stroke-width="0.5" stroke-opacity="0.95"/></g>
<g clip-path="url(#pc4)"><path d="M561.4 369.4 561.5 374.2 561.6 370.1 561.8 368.7 561.9 370.9 562.0 369.9 562.1 369.0 562.2 374.2 562.4 370.8 562.5 368.5 562.6 367.4 562.8 370.7 562.9 370.3 563.0 369.5 563.1 370.2 563.2 371.0 563.4 372.9 563.5 374.9 563.6 365.4 563.8 367.3 563.9 367.9 564.0 370.7 564.1 371.6 564.2 374.8 564.4 368.4 564.5 368.9 564.6 369.7 564.8 369.7 564.9 366.7 565.0 370.4 565.1 370.7 565.2 367.7 565.4 368.2 565.5 373.8 565.6 364.8 565.8 370.3 565.9 372.2 566.0 371.4 566.1 371.1 566.2 370.9 566.4 368.8 566.5 370.5 566.6 371.4 566.8 373.1 566.9 366.7 567.0 363.6 567.1 367.6 567.2 366.9 567.4 369.7 567.5 368.7 567.6 369.1 567.8 372.9 567.9 366.7 568.0 370.0 568.1 369.2 568.2 367.7 568.4 367.3 568.5 367.2 568.6 370.5 568.8 369.4 568.9 371.5 569.0 375.3 569.1 371.1 569.2 368.8 569.4 370.1 569.5 367.4 569.6 366.7 569.8 368.4 569.9 370.5 570.0 366.6 570.1 368.7 570.2 363.1 570.4 365.9 570.5 373.6 570.6 371.3 570.8 376.1 570.9 369.6 571.0 371.6 571.1 372.1 571.2 366.6 571.4 369.0 571.5 372.7 571.6 366.4 571.8 370.3 571.9 377.1 572.0 368.5 572.1 367.4 572.2 370.4 572.4 369.1 572.5 377.9 572.6 363.8 572.8 365.9 572.9 374.4 573.0 368.2 573.1 369.0 573.2 378.3 573.4 363.6 573.5 371.3 573.6 371.1 573.8 366.4 573.9 366.3 574.0 368.8 574.1 373.6 574.2 366.5 574.4 361.2 574.5 368.1 574.6 365.4 574.8 375.2 574.9 373.6 575.0 375.4 575.1 365.2 575.2 364.2 575.4 376.3 575.5 369.5 575.6 370.5 575.8 373.8 575.9 366.7 576.0 375.1 576.1 362.5 576.2 357.6 576.4 362.8 576.5 374.1 576.6 371.6 576.8 357.0 576.9 374.5 577.0 363.9 577.1 363.1 577.2 376.4 577.4 369.3 577.5 375.1 577.6 356.4 577.8 368.1 577.9 359.7 578.0 372.4 578.1 368.3 578.2 372.1 578.4 381.8 578.5 373.6 578.6 370.6 578.8 376.2 578.9 373.3 579.0 374.3 579.1 376.7 579.2 381.1 579.4 364.0 579.5 374.6 579.6 369.6 579.8 368.0 579.9 364.7 580.0 365.4 580.1 362.4 580.2 375.3 580.4 366.3 580.5 369.8 580.6 369.5 580.8 369.2 580.9 372.3 581.0 367.3 581.1 375.6 581.2 358.5 581.4 367.5 581.5 367.1 581.6 357.3 581.8 371.1 581.9 358.3 582.0 358.9 582.1 370.6 582.2 364.9 582.4 369.6 582.5 360.8 582.6 362.4 582.8 380.7 582.9 368.1 583.0 361.5 583.1 368.6 583.2 380.3 583.4 370.8 583.5 368.8 583.6 371.2 583.8 377.9 583.9 377.8 584.0 362.0 584.1 382.0 584.2 381.7 584.4 366.0 584.5 375.4 584.6 358.5 584.8 376.2 584.9 357.9 585.0 372.6 585.1 363.8 585.2 369.4 585.4 373.8 585.5 373.9 585.6 366.5 585.8 371.0 585.9 367.6 586.0 358.4 586.1 366.5 586.2 373.1 586.4 363.7 586.5 371.7 586.6 376.7 586.8 361.4 586.9 372.7 587.0 384.4 587.1 366.7 587.2 376.8 587.4 364.0 587.5 370.0 587.6 360.7 587.8 379.0 587.9 359.3 588.0 364.8 588.1 369.4 588.2 369.9 588.4 356.9 588.5 368.1 588.6 367.0 588.8 372.4 588.9 371.0 589.0 357.6 589.1 361.2 589.2 374.6 589.4 378.3 589.5 377.3 589.6 356.0 589.8 365.1 589.9 360.8 590.0 360.1 590.1 374.2 590.2 358.8 590.4 366.0 590.5 360.4 590.6 375.8 590.8 365.4 590.9 370.5 591.0 373.6 591.1 369.8 591.2 360.9 591.4 369.5 591.5 364.9 591.6 366.8 591.8 374.7 591.9 370.0 592.0 361.0 592.1 369.9 592.2 378.5 592.4 375.4 592.5 371.8 592.6 372.8 592.8 371.1 592.9 365.2 593.0 363.9 593.1 373.4 593.2 369.2 593.4 371.0 593.5 370.4 593.6 375.3 593.8 374.4 593.9 372.3 594.0 372.1 594.1 372.2 594.2 368.2 594.4 364.2 594.5 370.1 594.6 369.6 594.8 370.2 594.9 369.3 595.0 371.6 595.1 371.4 595.2 365.0 595.4 367.5 595.5 371.0 595.6 372.8 595.8 375.1 595.9 368.2 596.0 369.5 596.1 367.1 596.2 371.1 596.4 369.6 596.5 366.9 596.6 371.6 596.8 374.4 596.9 372.8 597.0 369.1 597.1 371.1 597.2 368.4 597.4 374.8 597.5 369.4 597.6 369.2 597.8 366.8 597.9 371.8 598.0 368.4 598.1 369.0 598.2 365.1 598.4 368.2 598.5 370.1 598.6 370.9 598.8 371.2 598.9 368.3 599.0 370.9 599.1 367.6 599.2 367.2 599.4 367.7 599.5 370.5 599.6 368.9 599.8 371.3 599.9 373.9 600.0 369.3 600.1 370.2 600.2 368.4 600.4 366.9 600.5 369.4 600.6 369.4 600.8 367.2 600.9 367.7 601.0 372.2 601.1 368.7 601.2 369.6 601.4 371.7 601.5 370.2 601.6 367.5 601.8 366.4 601.9 370.5 602.0 369.2 602.1 369.5 602.2 369.0 602.4 372.1 602.5 369.8 602.6 374.0 602.8 369.2 602.9 372.6 603.0 371.7 603.1 369.0 603.2 371.6 603.4 367.1 603.5 365.5 603.6 371.8 603.8 368.6 603.9 374.0 604.0 367.5 604.1 365.4 604.2 373.1 604.4 368.0 604.5 371.0 604.6 368.7 604.8 373.2 604.9 367.2 605.0 369.5 605.1 367.1 605.2 371.7 605.4 370.7 605.5 368.8 605.6 370.4 605.8 368.9 605.9 367.6 606.0 372.5 606.1 370.5 606.2 373.9 606.4 369.9 606.5 368.5 606.6 371.4 606.8 370.4 606.9 372.5 607.0 370.1 607.1 368.6 607.2 371.2 607.4 370.2 607.5 370.8 607.6 368.6 607.8 369.5 607.9 369.9 608.0 370.3 608.1 371.8 608.2 369.2 608.4 371.2 608.5 368.6 608.6 369.2 608.8 370.7 608.9 370.9 609.0 370.4 609.1 369.5 609.2 369.1 609.4 366.8 609.5 366.9 609.6 370.8 609.8 369.5 609.9 373.2 610.0 372.6 610.1 367.6 610.2 371.3 610.4 370.9 610.5 371.2 610.6 370.7 610.8 367.3 610.9 374.2 611.0 370.0 611.1 371.8 611.2 367.2 611.4 368.3 611.5 370.8 611.6 371.4 611.8 371.0 611.9 369.7 612.0 372.2 612.1 369.0 612.2 368.0 612.4 370.9 612.5 367.4 612.6 368.7 612.8 368.4 612.9 368.2 613.0 368.3 613.1 368.7 613.2 367.1 613.4 371.2 613.5 369.1 613.6 369.0 613.8 371.3 613.9 367.7 614.0 367.2 614.1 369.0 614.2 371.0 614.4 368.0 614.5 368.2 614.6 371.3 614.8 366.2 614.9 372.1 615.0 367.6 615.1 366.7 615.2 368.6 615.4 368.4 615.5 367.5 615.6 370.3 615.8 365.0 615.9 368.6 616.0 368.4 616.1 365.7 616.2 367.7 616.4 371.8 616.5 368.5 616.6 369.2 616.8 368.1 616.9 368.9 617.0 366.0 617.1 371.6 617.2 366.7 617.4 367.7 617.5 372.0 617.6 369.5 617.8 373.2 617.9 371.2 618.0 368.7 618.1 367.9 618.2 369.0 618.4 368.7 618.5 369.6 618.6 371.3 618.8 370.5 618.9 367.5 619.0 371.7 619.1 370.6 619.2 369.3 619.4 370.9 619.5 370.5 619.6 371.0 619.8 367.9 619.9 369.4 620.0 373.1 620.1 367.2 620.2 367.9 620.4 373.0 620.5 369.2 620.6 371.6 620.8 368.2 620.9 369.1 621.0 372.6 621.1 373.1 621.2 370.4 621.4 370.2 621.5 372.2 621.6 370.7 621.8 370.1 621.9 366.7 622.0 368.1 622.1 367.7 622.2 371.6 622.4 369.3 622.5 369.8 622.6 370.3 622.8 369.4 622.9 369.3 623.0 368.3 623.1 369.5 623.2 369.0 623.4 368.9 623.5 373.3 623.6 370.7 623.8 366.4 623.9 368.1 624.0 370.4 624.1 368.0 624.2 369.0 624.4 370.2 624.5 367.9 624.6 367.6 624.8 368.7 624.9 370.1 625.0 367.0 625.1 367.8 625.2 371.8 625.4 373.2 625.5 371.8 625.6 368.0 625.8 369.2 625.9 366.3 626.0 372.5 626.1 370.7 626.2 369.2 626.4 368.2 626.5 369.0 626.6 366.2 626.8 368.2 626.9 365.8 627.0 365.7 627.1 372.4 627.2 368.9 627.4 370.2 627.5 370.0 627.6 369.0 627.8 370.9 627.9 367.7 628.0 368.7 628.1 367.8 628.2 367.6 628.4 366.8 628.5 370.9 628.6 367.8 628.8 370.4 628.9 366.8 629.0 368.4 629.1 370.5 629.2 367.9 629.4 371.9 629.5 366.9 629.6 370.1 629.8 368.9 629.9 367.3 630.0 369.7 630.1 368.8 630.2 371.4 630.4 370.9 630.5 369.9 630.6 371.0 630.8 371.0 630.9 366.4 631.0 368.1 631.1 369.7 631.2 367.5 631.4 367.8 631.5 366.6 631.6 370.8 631.8 370.8 631.9 369.7 632.0 371.0 632.1 369.1 632.2 368.9 632.4 370.0 632.5 370.8 632.6 370.6 632.8 370.8 632.9 370.7 633.0 368.3 633.1 369.4 633.2 369.1 633.4 369.7 633.5 371.9 633.6 368.0 633.8 368.6 633.9 371.6 634.0 370.1 634.1 369.9 634.2 369.2 634.4 366.3 634.5 369.5 634.6 369.3 634.8 370.6 634.9 367.2 635.0 372.5 635.1 368.5 635.2 370.1 635.4 369.7 635.5 369.7 635.6 369.2 635.8 369.3 635.9 371.9 636.0 368.5 636.1 371.5 636.2 369.3 636.4 368.0 636.5 366.8 636.6 368.4 636.8 369.2 636.9 369.3 637.0 371.2 637.1 369.5 637.2 367.9 637.4 370.1 637.5 370.1 637.6 368.4 637.8 367.5" fill="none" stroke="#f5a000" stroke-width="0.45" stroke-opacity="0.8"/></g>
<path d="M505.8 337.45H791.3V392.45H505.8Z M507.8 338.95V390.75H789.3V338.95Z" fill="#000" fill-rule="evenodd"/>
<path d="M527.5 337.4v-4.3M527.5 392.5v4.3M551.1 337.4v-4.3M551.1 392.5v4.3M574.8 337.4v-4.3M574.8 392.5v4.3M598.4 337.4v-4.3M598.4 392.5v4.3M622.1 337.4v-4.3M622.1 392.5v4.3M645.7 337.4v-4.3M645.7 392.5v4.3M669.3 337.4v-4.3M669.3 392.5v4.3M693.0 337.4v-4.3M693.0 392.5v4.3M716.6 337.4v-4.3M716.6 392.5v4.3M740.3 337.4v-4.3M740.3 392.5v4.3M763.9 337.4v-4.3M763.9 392.5v4.3M787.5 337.4v-4.3M787.5 392.5v4.3" stroke="#222" stroke-width="1"/>
<text x="527.5" y="409.3" text-anchor="middle" style="font-family:'Liberation Sans',Arial,sans-serif;font-size:9.8px" fill="#111">40</text>
<text x="551.1" y="409.3" text-anchor="middle" style="font-family:'Liberation Sans',Arial,sans-serif;font-size:9.8px" fill="#111">45</text>
<text x="574.8" y="409.3" text-anchor="middle" style="font-family:'Liberation Sans',Arial,sans-serif;font-size:9.8px" fill="#111">50</text>
<text x="598.4" y="409.3" text-anchor="middle" style="font-family:'Liberation Sans',Arial,sans-serif;font-size:9.8px" fill="#111">55</text>
<text x="622.1" y="409.3" text-anchor="middle" style="font-family:'Liberation Sans',Arial,sans-serif;font-size:9.8px" fill="#111">00</text>
<text x="645.7" y="409.3" text-anchor="middle" style="font-family:'Liberation Sans',Arial,sans-serif;font-size:9.8px" fill="#111">05</text>
<text x="669.3" y="409.3" text-anchor="middle" style="font-family:'Liberation Sans',Arial,sans-serif;font-size:9.8px" fill="#111">10</text>
<text x="693.0" y="409.3" text-anchor="middle" style="font-family:'Liberation Sans',Arial,sans-serif;font-size:9.8px" fill="#111">15</text>
<text x="716.6" y="409.3" text-anchor="middle" style="font-family:'Liberation Sans',Arial,sans-serif;font-size:9.8px" fill="#111">20</text>
<text x="740.3" y="409.3" text-anchor="middle" style="font-family:'Liberation Sans',Arial,sans-serif;font-size:9.8px" fill="#111">25</text>
<text x="763.9" y="409.3" text-anchor="middle" style="font-family:'Liberation Sans',Arial,sans-serif;font-size:9.8px" fill="#111">30</text>
<text x="787.5" y="409.3" text-anchor="middle" style="font-family:'Liberation Sans',Arial,sans-serif;font-size:9.8px" fill="#111">35</text>
<text x="799.3" y="345.8" style="font-family:'Liberation Sans',Arial,sans-serif;font-size:9.9px;font-weight:bold" fill="#0000ff">La Sabana</text>
<text x="799.3" y="368.9" style="font-family:'Liberation Sans',Arial,sans-serif;font-size:9.8px" fill="#222">Acel. Max. 0.0</text>
<text x="799.3" y="386.5" style="font-family:'Liberation Sans',Arial,sans-serif;font-size:9.8px" fill="#222">Int JMA: 0</text>
<text x="620" y="425.7" style="font-family:'Liberation Sans',Arial,sans-serif;font-size:11.7px" fill="#111">Tiempo (s)</text>
<text x="3.5" y="447" style="font-family:'Liberation Sans',Arial,sans-serif;font-size:9.1px" fill="#000">LISUCR 20250830143938</text>
</svg>
</body></html>
